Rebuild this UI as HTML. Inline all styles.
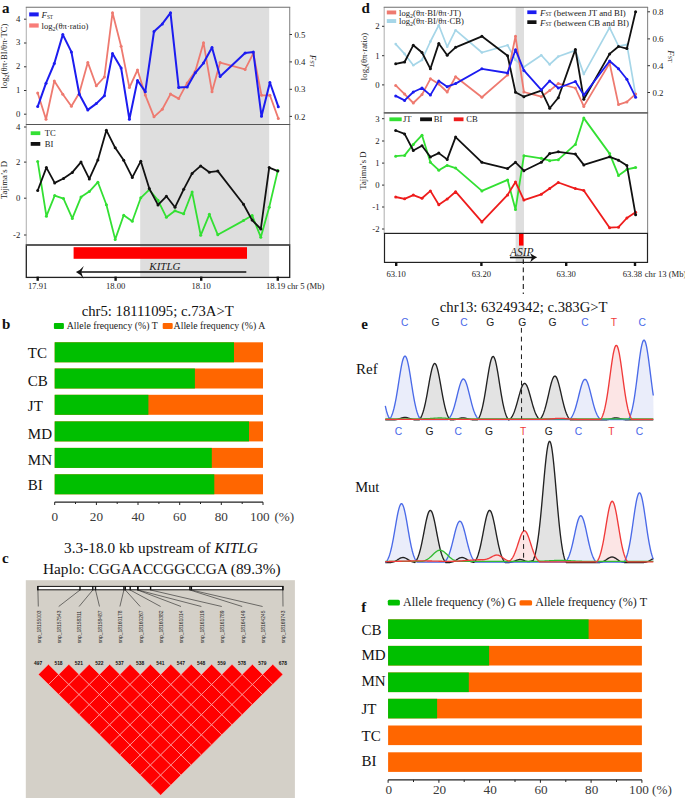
<!DOCTYPE html>
<html><head><meta charset="utf-8"><style>
html,body{margin:0;padding:0;background:#fff;}
body{width:685px;height:798px;overflow:hidden;font-family:"Liberation Serif",serif;}
svg{display:block;}
</style></head><body>
<svg width="685" height="798" viewBox="0 0 685 798">
<rect width="685" height="798" fill="#fff"/>
<rect x="140.2" y="7.3" width="129" height="269.5" fill="#dedede"/>
<line x1="26.3" y1="7.3" x2="26.3" y2="124.5" stroke="#b4b4b4" stroke-width="1.1"/>
<line x1="289.7" y1="7.3" x2="289.7" y2="124.5" stroke="#8a8a8a" stroke-width="1.1"/>
<line x1="25.8" y1="7.3" x2="290.2" y2="7.3" stroke="#6e6e6e" stroke-width="1.1"/>
<line x1="26.3" y1="124.5" x2="26.3" y2="245" stroke="#b4b4b4" stroke-width="1.1"/>
<line x1="289.7" y1="124.5" x2="289.7" y2="245" stroke="#8a8a8a" stroke-width="1.1"/>
<line x1="25.8" y1="124.5" x2="290.2" y2="124.5" stroke="#6e6e6e" stroke-width="1.1"/>
<line x1="26.3" y1="124.5" x2="289.7" y2="124.5" stroke="#555" stroke-width="1"/>
<rect x="26.3" y="245" width="263.4" height="32.4" fill="none" stroke="#222" stroke-width="1.3"/>
<line x1="26.3" y1="245" x2="289.7" y2="245" stroke="#555" stroke-width="1.3"/>
<polyline points="37.7,93.0 46.0,119.3 54.3,81.0 62.8,94.2 71.4,106.2 79.3,93.0 87.8,62.4 96.3,85.8 104.4,77.0 112.5,12.7 121.1,46.2 129.4,87.6 137.5,70.0 145.3,95.1 154.0,116.8 162.3,109.3 170.5,94.1 178.7,98.6 187.2,82.9 195.3,71.2 203.5,42.7 212.0,91.8 220.1,62.6 245.1,69.4 253.3,53.3 261.5,95.3 269.9,95.3 278.3,118.4" fill="none" stroke="#ee7a70" stroke-width="1.8" stroke-linejoin="round"/>
<circle cx="37.7" cy="93.0" r="1.5" fill="#ee7a70"/>
<circle cx="46.0" cy="119.3" r="1.5" fill="#ee7a70"/>
<circle cx="54.3" cy="81.0" r="1.5" fill="#ee7a70"/>
<circle cx="62.8" cy="94.2" r="1.5" fill="#ee7a70"/>
<circle cx="71.4" cy="106.2" r="1.5" fill="#ee7a70"/>
<circle cx="79.3" cy="93.0" r="1.5" fill="#ee7a70"/>
<circle cx="87.8" cy="62.4" r="1.5" fill="#ee7a70"/>
<circle cx="96.3" cy="85.8" r="1.5" fill="#ee7a70"/>
<circle cx="104.4" cy="77.0" r="1.5" fill="#ee7a70"/>
<circle cx="112.5" cy="12.7" r="1.5" fill="#ee7a70"/>
<circle cx="121.1" cy="46.2" r="1.5" fill="#ee7a70"/>
<circle cx="129.4" cy="87.6" r="1.5" fill="#ee7a70"/>
<circle cx="137.5" cy="70.0" r="1.5" fill="#ee7a70"/>
<circle cx="145.3" cy="95.1" r="1.5" fill="#ee7a70"/>
<circle cx="154.0" cy="116.8" r="1.5" fill="#ee7a70"/>
<circle cx="162.3" cy="109.3" r="1.5" fill="#ee7a70"/>
<circle cx="170.5" cy="94.1" r="1.5" fill="#ee7a70"/>
<circle cx="178.7" cy="98.6" r="1.5" fill="#ee7a70"/>
<circle cx="187.2" cy="82.9" r="1.5" fill="#ee7a70"/>
<circle cx="195.3" cy="71.2" r="1.5" fill="#ee7a70"/>
<circle cx="203.5" cy="42.7" r="1.5" fill="#ee7a70"/>
<circle cx="212.0" cy="91.8" r="1.5" fill="#ee7a70"/>
<circle cx="220.1" cy="62.6" r="1.5" fill="#ee7a70"/>
<circle cx="245.1" cy="69.4" r="1.5" fill="#ee7a70"/>
<circle cx="253.3" cy="53.3" r="1.5" fill="#ee7a70"/>
<circle cx="261.5" cy="95.3" r="1.5" fill="#ee7a70"/>
<circle cx="269.9" cy="95.3" r="1.5" fill="#ee7a70"/>
<circle cx="278.3" cy="118.4" r="1.5" fill="#ee7a70"/>
<polyline points="37.7,106.6 46.0,83.2 54.3,63.5 62.8,34.6 71.4,51.9 79.3,94.2 87.8,109.9 96.3,103.6 104.4,95.7 112.5,53.6 121.1,67.9 129.4,119.3 137.5,80.4 145.3,91.7 154.0,31.5 162.3,23.9 170.5,12.8 178.7,87.6 187.2,87.1 195.3,72.8 203.5,63.1 212.0,47.4 220.1,76.6 245.1,53.0 253.3,51.9 261.5,116.3 269.9,82.5 278.3,106.7" fill="none" stroke="#1c1cf0" stroke-width="2.0" stroke-linejoin="round"/>
<circle cx="37.7" cy="106.6" r="1.5" fill="#1c1cf0"/>
<circle cx="46.0" cy="83.2" r="1.5" fill="#1c1cf0"/>
<circle cx="54.3" cy="63.5" r="1.5" fill="#1c1cf0"/>
<circle cx="62.8" cy="34.6" r="1.5" fill="#1c1cf0"/>
<circle cx="71.4" cy="51.9" r="1.5" fill="#1c1cf0"/>
<circle cx="79.3" cy="94.2" r="1.5" fill="#1c1cf0"/>
<circle cx="87.8" cy="109.9" r="1.5" fill="#1c1cf0"/>
<circle cx="96.3" cy="103.6" r="1.5" fill="#1c1cf0"/>
<circle cx="104.4" cy="95.7" r="1.5" fill="#1c1cf0"/>
<circle cx="112.5" cy="53.6" r="1.5" fill="#1c1cf0"/>
<circle cx="121.1" cy="67.9" r="1.5" fill="#1c1cf0"/>
<circle cx="129.4" cy="119.3" r="1.5" fill="#1c1cf0"/>
<circle cx="137.5" cy="80.4" r="1.5" fill="#1c1cf0"/>
<circle cx="145.3" cy="91.7" r="1.5" fill="#1c1cf0"/>
<circle cx="154.0" cy="31.5" r="1.5" fill="#1c1cf0"/>
<circle cx="162.3" cy="23.9" r="1.5" fill="#1c1cf0"/>
<circle cx="170.5" cy="12.8" r="1.5" fill="#1c1cf0"/>
<circle cx="178.7" cy="87.6" r="1.5" fill="#1c1cf0"/>
<circle cx="187.2" cy="87.1" r="1.5" fill="#1c1cf0"/>
<circle cx="195.3" cy="72.8" r="1.5" fill="#1c1cf0"/>
<circle cx="203.5" cy="63.1" r="1.5" fill="#1c1cf0"/>
<circle cx="212.0" cy="47.4" r="1.5" fill="#1c1cf0"/>
<circle cx="220.1" cy="76.6" r="1.5" fill="#1c1cf0"/>
<circle cx="245.1" cy="53.0" r="1.5" fill="#1c1cf0"/>
<circle cx="253.3" cy="51.9" r="1.5" fill="#1c1cf0"/>
<circle cx="261.5" cy="116.3" r="1.5" fill="#1c1cf0"/>
<circle cx="269.9" cy="82.5" r="1.5" fill="#1c1cf0"/>
<circle cx="278.3" cy="106.7" r="1.5" fill="#1c1cf0"/>
<polyline points="37.7,161.4 46.4,216.2 54.7,195.6 63.5,198.6 72.3,218.4 81.0,197.1 89.3,191.6 97.9,182.2 106.4,204.8 115.2,239.4 123.7,215.3 132.3,221.2 140.8,197.8 149.3,189.7 158.0,200.3 166.4,217.3 175.0,210.8 183.7,213.8 192.1,192.1 200.7,235.3 209.4,214.3 217.8,234.8 243.5,220.6 252.1,215.4 260.8,237.2 269.2,207.3 277.8,170.6" fill="none" stroke="#33e033" stroke-width="1.8" stroke-linejoin="round"/>
<circle cx="37.7" cy="161.4" r="1.5" fill="#33e033"/>
<circle cx="46.4" cy="216.2" r="1.5" fill="#33e033"/>
<circle cx="54.7" cy="195.6" r="1.5" fill="#33e033"/>
<circle cx="63.5" cy="198.6" r="1.5" fill="#33e033"/>
<circle cx="72.3" cy="218.4" r="1.5" fill="#33e033"/>
<circle cx="81.0" cy="197.1" r="1.5" fill="#33e033"/>
<circle cx="89.3" cy="191.6" r="1.5" fill="#33e033"/>
<circle cx="97.9" cy="182.2" r="1.5" fill="#33e033"/>
<circle cx="106.4" cy="204.8" r="1.5" fill="#33e033"/>
<circle cx="115.2" cy="239.4" r="1.5" fill="#33e033"/>
<circle cx="123.7" cy="215.3" r="1.5" fill="#33e033"/>
<circle cx="132.3" cy="221.2" r="1.5" fill="#33e033"/>
<circle cx="140.8" cy="197.8" r="1.5" fill="#33e033"/>
<circle cx="149.3" cy="189.7" r="1.5" fill="#33e033"/>
<circle cx="158.0" cy="200.3" r="1.5" fill="#33e033"/>
<circle cx="166.4" cy="217.3" r="1.5" fill="#33e033"/>
<circle cx="175.0" cy="210.8" r="1.5" fill="#33e033"/>
<circle cx="183.7" cy="213.8" r="1.5" fill="#33e033"/>
<circle cx="192.1" cy="192.1" r="1.5" fill="#33e033"/>
<circle cx="200.7" cy="235.3" r="1.5" fill="#33e033"/>
<circle cx="209.4" cy="214.3" r="1.5" fill="#33e033"/>
<circle cx="217.8" cy="234.8" r="1.5" fill="#33e033"/>
<circle cx="243.5" cy="220.6" r="1.5" fill="#33e033"/>
<circle cx="252.1" cy="215.4" r="1.5" fill="#33e033"/>
<circle cx="260.8" cy="237.2" r="1.5" fill="#33e033"/>
<circle cx="269.2" cy="207.3" r="1.5" fill="#33e033"/>
<circle cx="277.8" cy="170.6" r="1.5" fill="#33e033"/>
<polyline points="37.7,190.5 46.4,167.6 54.7,182.9 63.5,178.5 72.3,172.4 81.0,162.1 89.3,178.9 97.9,159.9 106.4,130.3 115.2,147.8 123.7,160.3 132.3,177.4 140.8,161.2 149.3,188.6 158.0,204.9 166.4,196.3 175.0,207.3 183.7,189.3 192.1,173.4 200.7,165.9 209.4,172.2 217.8,171.1 243.5,204.2 252.1,220.1 260.8,229.0 269.2,167.6 277.8,171.1" fill="none" stroke="#111111" stroke-width="1.8" stroke-linejoin="round"/>
<circle cx="37.7" cy="190.5" r="1.5" fill="#111111"/>
<circle cx="46.4" cy="167.6" r="1.5" fill="#111111"/>
<circle cx="54.7" cy="182.9" r="1.5" fill="#111111"/>
<circle cx="63.5" cy="178.5" r="1.5" fill="#111111"/>
<circle cx="72.3" cy="172.4" r="1.5" fill="#111111"/>
<circle cx="81.0" cy="162.1" r="1.5" fill="#111111"/>
<circle cx="89.3" cy="178.9" r="1.5" fill="#111111"/>
<circle cx="97.9" cy="159.9" r="1.5" fill="#111111"/>
<circle cx="106.4" cy="130.3" r="1.5" fill="#111111"/>
<circle cx="115.2" cy="147.8" r="1.5" fill="#111111"/>
<circle cx="123.7" cy="160.3" r="1.5" fill="#111111"/>
<circle cx="132.3" cy="177.4" r="1.5" fill="#111111"/>
<circle cx="140.8" cy="161.2" r="1.5" fill="#111111"/>
<circle cx="149.3" cy="188.6" r="1.5" fill="#111111"/>
<circle cx="158.0" cy="204.9" r="1.5" fill="#111111"/>
<circle cx="166.4" cy="196.3" r="1.5" fill="#111111"/>
<circle cx="175.0" cy="207.3" r="1.5" fill="#111111"/>
<circle cx="183.7" cy="189.3" r="1.5" fill="#111111"/>
<circle cx="192.1" cy="173.4" r="1.5" fill="#111111"/>
<circle cx="200.7" cy="165.9" r="1.5" fill="#111111"/>
<circle cx="209.4" cy="172.2" r="1.5" fill="#111111"/>
<circle cx="217.8" cy="171.1" r="1.5" fill="#111111"/>
<circle cx="243.5" cy="204.2" r="1.5" fill="#111111"/>
<circle cx="252.1" cy="220.1" r="1.5" fill="#111111"/>
<circle cx="260.8" cy="229.0" r="1.5" fill="#111111"/>
<circle cx="269.2" cy="167.6" r="1.5" fill="#111111"/>
<circle cx="277.8" cy="171.1" r="1.5" fill="#111111"/>
<line x1="24" y1="19.2" x2="26.3" y2="19.2" stroke="#333" stroke-width="1"/>
<text x="20.3" y="21.5" font-family='"Liberation Serif", serif' font-size="8.7" text-anchor="end" fill="#222" font-weight="normal" font-style="normal" >4</text>
<line x1="24" y1="43" x2="26.3" y2="43" stroke="#333" stroke-width="1"/>
<text x="20.3" y="45.3" font-family='"Liberation Serif", serif' font-size="8.7" text-anchor="end" fill="#222" font-weight="normal" font-style="normal" >3</text>
<line x1="24" y1="66.8" x2="26.3" y2="66.8" stroke="#333" stroke-width="1"/>
<text x="20.3" y="69.1" font-family='"Liberation Serif", serif' font-size="8.7" text-anchor="end" fill="#222" font-weight="normal" font-style="normal" >2</text>
<line x1="24" y1="90.5" x2="26.3" y2="90.5" stroke="#333" stroke-width="1"/>
<text x="20.3" y="92.8" font-family='"Liberation Serif", serif' font-size="8.7" text-anchor="end" fill="#222" font-weight="normal" font-style="normal" >1</text>
<line x1="24" y1="114.2" x2="26.3" y2="114.2" stroke="#333" stroke-width="1"/>
<text x="20.3" y="116.5" font-family='"Liberation Serif", serif' font-size="8.7" text-anchor="end" fill="#222" font-weight="normal" font-style="normal" >0</text>
<line x1="289.7" y1="34.5" x2="292" y2="34.5" stroke="#333" stroke-width="1"/>
<text x="294.4" y="37.6" font-family='"Liberation Serif", serif' font-size="8.8" text-anchor="start" fill="#222" font-weight="normal" font-style="normal" >0.5</text>
<line x1="289.7" y1="61.9" x2="292" y2="61.9" stroke="#333" stroke-width="1"/>
<text x="294.4" y="65.0" font-family='"Liberation Serif", serif' font-size="8.8" text-anchor="start" fill="#222" font-weight="normal" font-style="normal" >0.4</text>
<line x1="289.7" y1="89.3" x2="292" y2="89.3" stroke="#333" stroke-width="1"/>
<text x="294.4" y="92.39999999999999" font-family='"Liberation Serif", serif' font-size="8.8" text-anchor="start" fill="#222" font-weight="normal" font-style="normal" >0.3</text>
<line x1="289.7" y1="116.4" x2="292" y2="116.4" stroke="#333" stroke-width="1"/>
<text x="294.4" y="119.5" font-family='"Liberation Serif", serif' font-size="8.8" text-anchor="start" fill="#222" font-weight="normal" font-style="normal" >0.2</text>
<text transform="translate(310,61) rotate(90)" font-family='"Liberation Serif", serif' font-size="8.7" text-anchor="middle" fill="#222" font-style="italic">F<tspan font-size="6" font-style="normal">ST</tspan></text>
<text transform="translate(7.4,56) rotate(-90)" font-family='"Liberation Serif", serif' font-size="8.7" text-anchor="middle" fill="#222">log<tspan font-size="6" dy="2">2</tspan><tspan dy="-2">(θπ·BI/θπ·TC)</tspan></text>
<rect x="29.2" y="12.4" width="9.5" height="4" fill="#1c1cf0"/>
<text x="41.6" y="18.2" font-family='"Liberation Serif", serif' font-size="8.8" text-anchor="start" fill="#222" font-weight="normal" font-style="italic" >F<tspan font-size="5.2" font-style="normal" dy="0.8">ST</tspan></text>
<rect x="29.2" y="23.4" width="9.5" height="4.2" fill="#f87c78"/>
<text x="41.6" y="29" font-family='"Liberation Serif", serif' font-size="8.6" text-anchor="start" fill="#222" font-weight="normal" font-style="normal" >log<tspan font-size="6" dy="2">2</tspan><tspan dy="-2">(θπ·ratio)</tspan></text>
<line x1="24" y1="127" x2="26.3" y2="127" stroke="#333" stroke-width="1"/>
<text x="20.3" y="129.6" font-family='"Liberation Serif", serif' font-size="8.7" text-anchor="end" fill="#222" font-weight="normal" font-style="normal" >4</text>
<line x1="24" y1="162.1" x2="26.3" y2="162.1" stroke="#333" stroke-width="1"/>
<text x="20.3" y="164.7" font-family='"Liberation Serif", serif' font-size="8.7" text-anchor="end" fill="#222" font-weight="normal" font-style="normal" >2</text>
<line x1="24" y1="198.2" x2="26.3" y2="198.2" stroke="#333" stroke-width="1"/>
<text x="20.3" y="200.79999999999998" font-family='"Liberation Serif", serif' font-size="8.7" text-anchor="end" fill="#222" font-weight="normal" font-style="normal" >0</text>
<line x1="24" y1="235" x2="26.3" y2="235" stroke="#333" stroke-width="1"/>
<text x="20.3" y="237.6" font-family='"Liberation Serif", serif' font-size="8.7" text-anchor="end" fill="#222" font-weight="normal" font-style="normal" >-2</text>
<text transform="translate(7.4,180) rotate(-90)" font-family='"Liberation Serif", serif' font-size="8.7" text-anchor="middle" fill="#222">Tajima’s D</text>
<rect x="30.7" y="131.3" width="9.6" height="3.8" fill="#33e033"/>
<text x="44.8" y="135.8" font-family='"Liberation Serif", serif' font-size="8.6" text-anchor="start" fill="#222" font-weight="normal" font-style="normal" >TC</text>
<rect x="30.7" y="142" width="9.6" height="3.8" fill="#111111"/>
<text x="44.8" y="146.5" font-family='"Liberation Serif", serif' font-size="8.6" text-anchor="start" fill="#222" font-weight="normal" font-style="normal" >BI</text>
<rect x="73.6" y="247.2" width="173.4" height="11.6" fill="#ff0000"/>
<line x1="79" y1="272.1" x2="246.3" y2="272.1" stroke="#111" stroke-width="1.5"/>
<path d="M75.9,272.1 Q80.5,270 83.8,265.9 L81.2,272.1 L83.5,278.7 Q80.5,274.3 75.9,272.1 Z" fill="#111"/>
<text x="149.3" y="269.8" font-family='"Liberation Serif", serif' font-size="11" text-anchor="start" fill="#222" font-weight="normal" font-style="italic" >KITLG</text>
<line x1="37.7" y1="276.6" x2="37.7" y2="280.8" stroke="#111" stroke-width="2.4"/>
<text x="37.7" y="289" font-family='"Liberation Serif", serif' font-size="8.6" text-anchor="middle" fill="#222" font-weight="normal" font-style="normal" >17.91</text>
<line x1="115.6" y1="276.6" x2="115.6" y2="280.8" stroke="#111" stroke-width="2.4"/>
<text x="115.6" y="289" font-family='"Liberation Serif", serif' font-size="8.6" text-anchor="middle" fill="#222" font-weight="normal" font-style="normal" >18.00</text>
<line x1="201.2" y1="276.6" x2="201.2" y2="280.8" stroke="#111" stroke-width="2.4"/>
<text x="201.2" y="289" font-family='"Liberation Serif", serif' font-size="8.6" text-anchor="middle" fill="#222" font-weight="normal" font-style="normal" >18.10</text>
<line x1="277.8" y1="276.6" x2="277.8" y2="280.8" stroke="#111" stroke-width="2.4"/>
<text x="275.7" y="289" font-family='"Liberation Serif", serif' font-size="8.6" text-anchor="middle" fill="#222" font-weight="normal" font-style="normal" >18.19</text>
<text x="287.2" y="289" font-family='"Liberation Serif", serif' font-size="8.6" text-anchor="start" fill="#222" font-weight="normal" font-style="normal" >chr 5 (Mb)</text>
<text x="2.0" y="13.0" font-family='"Liberation Serif", serif' font-size="15" text-anchor="start" fill="#111" font-weight="bold" font-style="normal" >a</text>
<text x="2.0" y="329" font-family='"Liberation Serif", serif' font-size="15" text-anchor="start" fill="#111" font-weight="bold" font-style="normal" >b</text>
<text x="2.0" y="562.6" font-family='"Liberation Serif", serif' font-size="15" text-anchor="start" fill="#111" font-weight="bold" font-style="normal" >c</text>
<text x="361.4" y="12.6" font-family='"Liberation Serif", serif' font-size="15" text-anchor="start" fill="#111" font-weight="bold" font-style="normal" >d</text>
<text x="361.3" y="328.6" font-family='"Liberation Serif", serif' font-size="15" text-anchor="start" fill="#111" font-weight="bold" font-style="normal" >e</text>
<text x="361.3" y="612" font-family='"Liberation Serif", serif' font-size="15" text-anchor="start" fill="#111" font-weight="bold" font-style="normal" >f</text>
<text x="157.7" y="316.4" font-family='"Liberation Serif", serif' font-size="14.7" text-anchor="middle" fill="#111" font-weight="normal" font-style="normal" >chr5: 18111095; c.73A&gt;T</text>
<rect x="53.9" y="323" width="10" height="5.9" fill="#00bf00" rx="1"/>
<text x="66.8" y="329.3" font-family='"Liberation Serif", serif' font-size="9.8" text-anchor="start" fill="#222" font-weight="normal" font-style="normal" >Allele frequency (%) T</text>
<rect x="162.7" y="323" width="10" height="5.9" fill="#ff6600" rx="1"/>
<text x="173.6" y="329.3" font-family='"Liberation Serif", serif' font-size="9.8" text-anchor="start" fill="#222" font-weight="normal" font-style="normal" >Allele frequency (%) A</text>
<rect x="54.7" y="342.3" width="208.3" height="20" fill="#ff6600"/>
<rect x="54.7" y="342.3" width="179.3" height="20" fill="#00bf00"/>
<text x="27.8" y="358" font-family='"Liberation Serif", serif' font-size="15" text-anchor="start" fill="#111" font-weight="normal" font-style="normal" >TC</text>
<rect x="54.7" y="368.5" width="208.3" height="20" fill="#ff6600"/>
<rect x="54.7" y="368.5" width="140.2" height="20" fill="#00bf00"/>
<text x="27.8" y="386.3" font-family='"Liberation Serif", serif' font-size="15" text-anchor="start" fill="#111" font-weight="normal" font-style="normal" >CB</text>
<rect x="54.7" y="394.8" width="208.3" height="20" fill="#ff6600"/>
<rect x="54.7" y="394.8" width="93.7" height="20" fill="#00bf00"/>
<text x="27.8" y="411.3" font-family='"Liberation Serif", serif' font-size="15" text-anchor="start" fill="#111" font-weight="normal" font-style="normal" >JT</text>
<rect x="54.7" y="421.4" width="208.3" height="20" fill="#ff6600"/>
<rect x="54.7" y="421.4" width="194.3" height="20" fill="#00bf00"/>
<text x="27.8" y="438.6" font-family='"Liberation Serif", serif' font-size="15" text-anchor="start" fill="#111" font-weight="normal" font-style="normal" >MD</text>
<rect x="54.7" y="447.9" width="208.3" height="20" fill="#ff6600"/>
<rect x="54.7" y="447.9" width="157.1" height="20" fill="#00bf00"/>
<text x="27.8" y="464.9" font-family='"Liberation Serif", serif' font-size="15" text-anchor="start" fill="#111" font-weight="normal" font-style="normal" >MN</text>
<rect x="54.7" y="474.3" width="208.3" height="20" fill="#ff6600"/>
<rect x="54.7" y="474.3" width="159.6" height="20" fill="#00bf00"/>
<text x="27.8" y="490.3" font-family='"Liberation Serif", serif' font-size="15" text-anchor="start" fill="#111" font-weight="normal" font-style="normal" >BI</text>
<line x1="54.7" y1="502.1" x2="263.0" y2="502.1" stroke="#222" stroke-width="1.2"/>
<line x1="54.7" y1="502.1" x2="54.7" y2="505" stroke="#222" stroke-width="1"/>
<line x1="75.5" y1="502.1" x2="75.5" y2="504" stroke="#222" stroke-width="1"/>
<line x1="96.4" y1="502.1" x2="96.4" y2="505" stroke="#222" stroke-width="1"/>
<line x1="117.2" y1="502.1" x2="117.2" y2="504" stroke="#222" stroke-width="1"/>
<line x1="138.0" y1="502.1" x2="138.0" y2="505" stroke="#222" stroke-width="1"/>
<line x1="158.9" y1="502.1" x2="158.9" y2="504" stroke="#222" stroke-width="1"/>
<line x1="179.7" y1="502.1" x2="179.7" y2="505" stroke="#222" stroke-width="1"/>
<line x1="200.5" y1="502.1" x2="200.5" y2="504" stroke="#222" stroke-width="1"/>
<line x1="221.3" y1="502.1" x2="221.3" y2="505" stroke="#222" stroke-width="1"/>
<line x1="242.2" y1="502.1" x2="242.2" y2="504" stroke="#222" stroke-width="1"/>
<line x1="263.0" y1="502.1" x2="263.0" y2="505" stroke="#222" stroke-width="1"/>
<text x="54.7" y="520.6" font-family='"Liberation Serif", serif' font-size="13.2" text-anchor="middle" fill="#3a3a3a" font-weight="normal" font-style="normal" >0</text>
<text x="96.4" y="520.6" font-family='"Liberation Serif", serif' font-size="13.2" text-anchor="middle" fill="#3a3a3a" font-weight="normal" font-style="normal" >20</text>
<text x="138.0" y="520.6" font-family='"Liberation Serif", serif' font-size="13.2" text-anchor="middle" fill="#3a3a3a" font-weight="normal" font-style="normal" >40</text>
<text x="179.7" y="520.6" font-family='"Liberation Serif", serif' font-size="13.2" text-anchor="middle" fill="#3a3a3a" font-weight="normal" font-style="normal" >60</text>
<text x="221.3" y="520.6" font-family='"Liberation Serif", serif' font-size="13.2" text-anchor="middle" fill="#3a3a3a" font-weight="normal" font-style="normal" >80</text>
<text x="259.8" y="520.6" font-family='"Liberation Serif", serif' font-size="13.2" text-anchor="middle" fill="#3a3a3a" font-weight="normal" font-style="normal" >100</text>
<text x="274.4" y="520.6" font-family='"Liberation Serif", serif' font-size="13.2" text-anchor="start" fill="#3a3a3a" font-weight="normal" font-style="normal" >(%)</text>
<text x="161" y="552.7" font-family='"Liberation Serif", serif' font-size="15.3" text-anchor="middle" fill="#111" font-weight="normal" font-style="normal" >3.3-18.0 kb upstream of <tspan font-style="italic">KITLG</tspan></text>
<text x="161.8" y="574" font-family='"Liberation Serif", serif' font-size="15.3" text-anchor="middle" fill="#111" font-weight="normal" font-style="normal" >Haplo: CGGAACCGGCCGA (89.3%)</text>
<rect x="25.8" y="580.2" width="269.1" height="217.8" fill="#d4d0c8"/>
<rect x="37.7" y="586.4" width="245.3" height="3.4" fill="#fff" stroke="#111" stroke-width="1"/>
<line x1="37.9" y1="586.1" x2="37.9" y2="590.2" stroke="#111" stroke-width="1.4"/>
<line x1="37.9" y1="590" x2="38.3" y2="606.5" stroke="#222" stroke-width="0.6"/>
<line x1="80.0" y1="586.1" x2="80.0" y2="590.2" stroke="#111" stroke-width="1.4"/>
<line x1="80.0" y1="590" x2="58.7" y2="606.5" stroke="#222" stroke-width="0.6"/>
<line x1="92.8" y1="586.1" x2="92.8" y2="590.2" stroke="#111" stroke-width="1.4"/>
<line x1="92.8" y1="590" x2="79.1" y2="606.5" stroke="#222" stroke-width="0.6"/>
<line x1="95.5" y1="586.1" x2="95.5" y2="590.2" stroke="#111" stroke-width="1.4"/>
<line x1="95.5" y1="590" x2="99.5" y2="606.5" stroke="#222" stroke-width="0.6"/>
<line x1="123.9" y1="586.1" x2="123.9" y2="590.2" stroke="#111" stroke-width="1.4"/>
<line x1="123.9" y1="590" x2="119.9" y2="606.5" stroke="#222" stroke-width="0.6"/>
<line x1="125.3" y1="586.1" x2="125.3" y2="590.2" stroke="#111" stroke-width="1.4"/>
<line x1="125.3" y1="590" x2="140.2" y2="606.5" stroke="#222" stroke-width="0.6"/>
<line x1="130.2" y1="586.1" x2="130.2" y2="590.2" stroke="#111" stroke-width="1.4"/>
<line x1="130.2" y1="590" x2="160.6" y2="606.5" stroke="#222" stroke-width="0.6"/>
<line x1="137.7" y1="586.1" x2="137.7" y2="590.2" stroke="#111" stroke-width="1.4"/>
<line x1="137.7" y1="590" x2="181.0" y2="606.5" stroke="#222" stroke-width="0.6"/>
<line x1="137.9" y1="586.1" x2="137.9" y2="590.2" stroke="#111" stroke-width="1.4"/>
<line x1="137.9" y1="590" x2="201.4" y2="606.5" stroke="#222" stroke-width="0.6"/>
<line x1="150.6" y1="586.1" x2="150.6" y2="590.2" stroke="#111" stroke-width="1.4"/>
<line x1="150.6" y1="590" x2="221.8" y2="606.5" stroke="#222" stroke-width="0.6"/>
<line x1="189.9" y1="586.1" x2="189.9" y2="590.2" stroke="#111" stroke-width="1.4"/>
<line x1="189.9" y1="590" x2="242.2" y2="606.5" stroke="#222" stroke-width="0.6"/>
<line x1="191.4" y1="586.1" x2="191.4" y2="590.2" stroke="#111" stroke-width="1.4"/>
<line x1="191.4" y1="590" x2="262.6" y2="606.5" stroke="#222" stroke-width="0.6"/>
<line x1="282.8" y1="586.1" x2="282.8" y2="590.2" stroke="#111" stroke-width="1.4"/>
<line x1="282.8" y1="590" x2="283.0" y2="606.5" stroke="#222" stroke-width="0.6"/>
<text transform="translate(40.6,643.2) rotate(-90)" font-family='"Liberation Sans", sans-serif' font-size="4.95" fill="#2a2a2a">snp_18155003</text>
<text transform="translate(61.0,643.2) rotate(-90)" font-family='"Liberation Sans", sans-serif' font-size="4.95" fill="#2a2a2a">snp_18157543</text>
<text transform="translate(81.4,643.2) rotate(-90)" font-family='"Liberation Sans", sans-serif' font-size="4.95" fill="#2a2a2a">snp_18158311</text>
<text transform="translate(101.8,643.2) rotate(-90)" font-family='"Liberation Sans", sans-serif' font-size="4.95" fill="#2a2a2a">snp_18158487</text>
<text transform="translate(122.2,643.2) rotate(-90)" font-family='"Liberation Sans", sans-serif' font-size="4.95" fill="#2a2a2a">snp_18160178</text>
<text transform="translate(142.6,643.2) rotate(-90)" font-family='"Liberation Sans", sans-serif' font-size="4.95" fill="#2a2a2a">snp_18160267</text>
<text transform="translate(162.9,643.2) rotate(-90)" font-family='"Liberation Sans", sans-serif' font-size="4.95" fill="#2a2a2a">snp_18160382</text>
<text transform="translate(183.3,643.2) rotate(-90)" font-family='"Liberation Sans", sans-serif' font-size="4.95" fill="#2a2a2a">snp_18161014</text>
<text transform="translate(203.7,643.2) rotate(-90)" font-family='"Liberation Sans", sans-serif' font-size="4.95" fill="#2a2a2a">snp_18161019</text>
<text transform="translate(224.1,643.2) rotate(-90)" font-family='"Liberation Sans", sans-serif' font-size="4.95" fill="#2a2a2a">snp_18161789</text>
<text transform="translate(244.5,643.2) rotate(-90)" font-family='"Liberation Sans", sans-serif' font-size="4.95" fill="#2a2a2a">snp_18164149</text>
<text transform="translate(264.9,643.2) rotate(-90)" font-family='"Liberation Sans", sans-serif' font-size="4.95" fill="#2a2a2a">snp_18164245</text>
<text transform="translate(285.3,643.2) rotate(-90)" font-family='"Liberation Sans", sans-serif' font-size="4.95" fill="#2a2a2a">snp_18169743</text>
<text x="38.1" y="664.8" font-family='"Liberation Sans", sans-serif' font-size="4.9" text-anchor="middle" fill="#111" font-weight="bold" font-style="normal" >497</text>
<text x="58.5" y="664.8" font-family='"Liberation Sans", sans-serif' font-size="4.9" text-anchor="middle" fill="#111" font-weight="bold" font-style="normal" >518</text>
<text x="78.9" y="664.8" font-family='"Liberation Sans", sans-serif' font-size="4.9" text-anchor="middle" fill="#111" font-weight="bold" font-style="normal" >521</text>
<text x="99.3" y="664.8" font-family='"Liberation Sans", sans-serif' font-size="4.9" text-anchor="middle" fill="#111" font-weight="bold" font-style="normal" >522</text>
<text x="119.7" y="664.8" font-family='"Liberation Sans", sans-serif' font-size="4.9" text-anchor="middle" fill="#111" font-weight="bold" font-style="normal" >537</text>
<text x="140.1" y="664.8" font-family='"Liberation Sans", sans-serif' font-size="4.9" text-anchor="middle" fill="#111" font-weight="bold" font-style="normal" >538</text>
<text x="160.4" y="664.8" font-family='"Liberation Sans", sans-serif' font-size="4.9" text-anchor="middle" fill="#111" font-weight="bold" font-style="normal" >541</text>
<text x="180.8" y="664.8" font-family='"Liberation Sans", sans-serif' font-size="4.9" text-anchor="middle" fill="#111" font-weight="bold" font-style="normal" >547</text>
<text x="201.2" y="664.8" font-family='"Liberation Sans", sans-serif' font-size="4.9" text-anchor="middle" fill="#111" font-weight="bold" font-style="normal" >548</text>
<text x="221.6" y="664.8" font-family='"Liberation Sans", sans-serif' font-size="4.9" text-anchor="middle" fill="#111" font-weight="bold" font-style="normal" >559</text>
<text x="242.0" y="664.8" font-family='"Liberation Sans", sans-serif' font-size="4.9" text-anchor="middle" fill="#111" font-weight="bold" font-style="normal" >578</text>
<text x="262.4" y="664.8" font-family='"Liberation Sans", sans-serif' font-size="4.9" text-anchor="middle" fill="#111" font-weight="bold" font-style="normal" >579</text>
<text x="282.8" y="664.8" font-family='"Liberation Sans", sans-serif' font-size="4.9" text-anchor="middle" fill="#111" font-weight="bold" font-style="normal" >678</text>
<path d="M38.30,674.40 L48.49,664.33 L58.69,674.40 L48.49,684.47 Z" fill="#ff0000" stroke="#ffd0d0" stroke-width="0.5"/>
<path d="M48.49,684.47 L58.69,674.40 L68.88,684.47 L58.69,694.54 Z" fill="#ff0000" stroke="#ffd0d0" stroke-width="0.5"/>
<path d="M58.69,694.54 L68.88,684.47 L79.08,694.54 L68.88,704.61 Z" fill="#ff0000" stroke="#ffd0d0" stroke-width="0.5"/>
<path d="M68.88,704.61 L79.08,694.54 L89.28,704.61 L79.08,714.68 Z" fill="#ff0000" stroke="#ffd0d0" stroke-width="0.5"/>
<path d="M79.08,714.68 L89.28,704.61 L99.47,714.68 L89.28,724.75 Z" fill="#ff0000" stroke="#ffd0d0" stroke-width="0.5"/>
<path d="M89.28,724.75 L99.47,714.68 L109.66,724.75 L99.47,734.82 Z" fill="#ff0000" stroke="#ffd0d0" stroke-width="0.5"/>
<path d="M99.47,734.82 L109.67,724.75 L119.86,734.82 L109.67,744.89 Z" fill="#ff0000" stroke="#ffd0d0" stroke-width="0.5"/>
<path d="M109.67,744.89 L119.86,734.82 L130.06,744.89 L119.86,754.96 Z" fill="#ff0000" stroke="#ffd0d0" stroke-width="0.5"/>
<path d="M119.86,754.96 L130.06,744.89 L140.25,754.96 L130.06,765.03 Z" fill="#ff0000" stroke="#ffd0d0" stroke-width="0.5"/>
<path d="M130.06,765.03 L140.25,754.96 L150.44,765.03 L140.25,775.10 Z" fill="#ff0000" stroke="#ffd0d0" stroke-width="0.5"/>
<path d="M140.25,775.10 L150.45,765.03 L160.64,775.10 L150.45,785.17 Z" fill="#ff0000" stroke="#ffd0d0" stroke-width="0.5"/>
<path d="M150.45,785.17 L160.64,775.10 L170.84,785.17 L160.64,795.24 Z" fill="#ff0000" stroke="#ffd0d0" stroke-width="0.5"/>
<path d="M58.69,674.40 L68.88,664.33 L79.08,674.40 L68.88,684.47 Z" fill="#ff0000" stroke="#ffd0d0" stroke-width="0.5"/>
<path d="M68.88,684.47 L79.08,674.40 L89.28,684.47 L79.08,694.54 Z" fill="#ff0000" stroke="#ffd0d0" stroke-width="0.5"/>
<path d="M79.08,694.54 L89.28,684.47 L99.47,694.54 L89.28,704.61 Z" fill="#ff0000" stroke="#ffd0d0" stroke-width="0.5"/>
<path d="M89.28,704.61 L99.47,694.54 L109.66,704.61 L99.47,714.68 Z" fill="#ff0000" stroke="#ffd0d0" stroke-width="0.5"/>
<path d="M99.47,714.68 L109.66,704.61 L119.86,714.68 L109.66,724.75 Z" fill="#ff0000" stroke="#ffd0d0" stroke-width="0.5"/>
<path d="M109.67,724.75 L119.86,714.68 L130.06,724.75 L119.86,734.82 Z" fill="#ff0000" stroke="#ffd0d0" stroke-width="0.5"/>
<path d="M119.86,734.82 L130.06,724.75 L140.25,734.82 L130.06,744.89 Z" fill="#ff0000" stroke="#ffd0d0" stroke-width="0.5"/>
<path d="M130.06,744.89 L140.25,734.82 L150.44,744.89 L140.25,754.96 Z" fill="#ff0000" stroke="#ffd0d0" stroke-width="0.5"/>
<path d="M140.25,754.96 L150.44,744.89 L160.64,754.96 L150.44,765.03 Z" fill="#ff0000" stroke="#ffd0d0" stroke-width="0.5"/>
<path d="M150.45,765.03 L160.64,754.96 L170.84,765.03 L160.64,775.10 Z" fill="#ff0000" stroke="#ffd0d0" stroke-width="0.5"/>
<path d="M160.64,775.10 L170.84,765.03 L181.03,775.10 L170.84,785.17 Z" fill="#ff0000" stroke="#ffd0d0" stroke-width="0.5"/>
<path d="M79.08,674.40 L89.28,664.33 L99.47,674.40 L89.28,684.47 Z" fill="#ff0000" stroke="#ffd0d0" stroke-width="0.5"/>
<path d="M89.28,684.47 L99.47,674.40 L109.66,684.47 L99.47,694.54 Z" fill="#ff0000" stroke="#ffd0d0" stroke-width="0.5"/>
<path d="M99.47,694.54 L109.66,684.47 L119.86,694.54 L109.66,704.61 Z" fill="#ff0000" stroke="#ffd0d0" stroke-width="0.5"/>
<path d="M109.66,704.61 L119.86,694.54 L130.05,704.61 L119.86,714.68 Z" fill="#ff0000" stroke="#ffd0d0" stroke-width="0.5"/>
<path d="M119.86,714.68 L130.06,704.61 L140.25,714.68 L130.06,724.75 Z" fill="#ff0000" stroke="#ffd0d0" stroke-width="0.5"/>
<path d="M130.06,724.75 L140.25,714.68 L150.44,724.75 L140.25,734.82 Z" fill="#ff0000" stroke="#ffd0d0" stroke-width="0.5"/>
<path d="M140.25,734.82 L150.44,724.75 L160.64,734.82 L150.44,744.89 Z" fill="#ff0000" stroke="#ffd0d0" stroke-width="0.5"/>
<path d="M150.44,744.89 L160.64,734.82 L170.83,744.89 L160.64,754.96 Z" fill="#ff0000" stroke="#ffd0d0" stroke-width="0.5"/>
<path d="M160.64,754.96 L170.84,744.89 L181.03,754.96 L170.84,765.03 Z" fill="#ff0000" stroke="#ffd0d0" stroke-width="0.5"/>
<path d="M170.84,765.03 L181.03,754.96 L191.22,765.03 L181.03,775.10 Z" fill="#ff0000" stroke="#ffd0d0" stroke-width="0.5"/>
<path d="M99.47,674.40 L109.66,664.33 L119.86,674.40 L109.66,684.47 Z" fill="#ff0000" stroke="#ffd0d0" stroke-width="0.5"/>
<path d="M109.66,684.47 L119.86,674.40 L130.06,684.47 L119.86,694.54 Z" fill="#ff0000" stroke="#ffd0d0" stroke-width="0.5"/>
<path d="M119.86,694.54 L130.06,684.47 L140.25,694.54 L130.06,704.61 Z" fill="#ff0000" stroke="#ffd0d0" stroke-width="0.5"/>
<path d="M130.06,704.61 L140.25,694.54 L150.44,704.61 L140.25,714.68 Z" fill="#ff0000" stroke="#ffd0d0" stroke-width="0.5"/>
<path d="M140.25,714.68 L150.44,704.61 L160.64,714.68 L150.44,724.75 Z" fill="#ff0000" stroke="#ffd0d0" stroke-width="0.5"/>
<path d="M150.44,724.75 L160.64,714.68 L170.83,724.75 L160.64,734.82 Z" fill="#ff0000" stroke="#ffd0d0" stroke-width="0.5"/>
<path d="M160.64,734.82 L170.83,724.75 L181.03,734.82 L170.83,744.89 Z" fill="#ff0000" stroke="#ffd0d0" stroke-width="0.5"/>
<path d="M170.84,744.89 L181.03,734.82 L191.23,744.89 L181.03,754.96 Z" fill="#ff0000" stroke="#ffd0d0" stroke-width="0.5"/>
<path d="M181.03,754.96 L191.23,744.89 L201.42,754.96 L191.23,765.03 Z" fill="#ff0000" stroke="#ffd0d0" stroke-width="0.5"/>
<path d="M119.86,674.40 L130.06,664.33 L140.25,674.40 L130.06,684.47 Z" fill="#ff0000" stroke="#ffd0d0" stroke-width="0.5"/>
<path d="M130.06,684.47 L140.25,674.40 L150.44,684.47 L140.25,694.54 Z" fill="#ff0000" stroke="#ffd0d0" stroke-width="0.5"/>
<path d="M140.25,694.54 L150.45,684.47 L160.64,694.54 L150.45,704.61 Z" fill="#ff0000" stroke="#ffd0d0" stroke-width="0.5"/>
<path d="M150.45,704.61 L160.64,694.54 L170.84,704.61 L160.64,714.68 Z" fill="#ff0000" stroke="#ffd0d0" stroke-width="0.5"/>
<path d="M160.64,714.68 L170.84,704.61 L181.03,714.68 L170.84,724.75 Z" fill="#ff0000" stroke="#ffd0d0" stroke-width="0.5"/>
<path d="M170.84,724.75 L181.03,714.68 L191.22,724.75 L181.03,734.82 Z" fill="#ff0000" stroke="#ffd0d0" stroke-width="0.5"/>
<path d="M181.03,734.82 L191.23,724.75 L201.42,734.82 L191.23,744.89 Z" fill="#ff0000" stroke="#ffd0d0" stroke-width="0.5"/>
<path d="M191.23,744.89 L201.42,734.82 L211.62,744.89 L201.42,754.96 Z" fill="#ff0000" stroke="#ffd0d0" stroke-width="0.5"/>
<path d="M140.25,674.40 L150.44,664.33 L160.64,674.40 L150.44,684.47 Z" fill="#ff0000" stroke="#ffd0d0" stroke-width="0.5"/>
<path d="M150.45,684.47 L160.64,674.40 L170.84,684.47 L160.64,694.54 Z" fill="#ff0000" stroke="#ffd0d0" stroke-width="0.5"/>
<path d="M160.64,694.54 L170.84,684.47 L181.03,694.54 L170.84,704.61 Z" fill="#ff0000" stroke="#ffd0d0" stroke-width="0.5"/>
<path d="M170.84,704.61 L181.03,694.54 L191.22,704.61 L181.03,714.68 Z" fill="#ff0000" stroke="#ffd0d0" stroke-width="0.5"/>
<path d="M181.03,714.68 L191.22,704.61 L201.42,714.68 L191.22,724.75 Z" fill="#ff0000" stroke="#ffd0d0" stroke-width="0.5"/>
<path d="M191.23,724.75 L201.42,714.68 L211.62,724.75 L201.42,734.82 Z" fill="#ff0000" stroke="#ffd0d0" stroke-width="0.5"/>
<path d="M201.42,734.82 L211.62,724.75 L221.81,734.82 L211.62,744.89 Z" fill="#ff0000" stroke="#ffd0d0" stroke-width="0.5"/>
<path d="M160.64,674.40 L170.84,664.33 L181.03,674.40 L170.84,684.47 Z" fill="#ff0000" stroke="#ffd0d0" stroke-width="0.5"/>
<path d="M170.84,684.47 L181.03,674.40 L191.22,684.47 L181.03,694.54 Z" fill="#ff0000" stroke="#ffd0d0" stroke-width="0.5"/>
<path d="M181.03,694.54 L191.22,684.47 L201.42,694.54 L191.22,704.61 Z" fill="#ff0000" stroke="#ffd0d0" stroke-width="0.5"/>
<path d="M191.22,704.61 L201.42,694.54 L211.61,704.61 L201.42,714.68 Z" fill="#ff0000" stroke="#ffd0d0" stroke-width="0.5"/>
<path d="M201.42,714.68 L211.62,704.61 L221.81,714.68 L211.62,724.75 Z" fill="#ff0000" stroke="#ffd0d0" stroke-width="0.5"/>
<path d="M211.62,724.75 L221.81,714.68 L232.00,724.75 L221.81,734.82 Z" fill="#ff0000" stroke="#ffd0d0" stroke-width="0.5"/>
<path d="M181.03,674.40 L191.23,664.33 L201.42,674.40 L191.23,684.47 Z" fill="#ff0000" stroke="#ffd0d0" stroke-width="0.5"/>
<path d="M191.23,684.47 L201.42,674.40 L211.62,684.47 L201.42,694.54 Z" fill="#ff0000" stroke="#ffd0d0" stroke-width="0.5"/>
<path d="M201.42,694.54 L211.62,684.47 L221.81,694.54 L211.62,704.61 Z" fill="#ff0000" stroke="#ffd0d0" stroke-width="0.5"/>
<path d="M211.62,704.61 L221.81,694.54 L232.01,704.61 L221.81,714.68 Z" fill="#ff0000" stroke="#ffd0d0" stroke-width="0.5"/>
<path d="M221.81,714.68 L232.01,704.61 L242.20,714.68 L232.01,724.75 Z" fill="#ff0000" stroke="#ffd0d0" stroke-width="0.5"/>
<path d="M201.42,674.40 L211.62,664.33 L221.81,674.40 L211.62,684.47 Z" fill="#ff0000" stroke="#ffd0d0" stroke-width="0.5"/>
<path d="M211.62,684.47 L221.81,674.40 L232.00,684.47 L221.81,694.54 Z" fill="#ff0000" stroke="#ffd0d0" stroke-width="0.5"/>
<path d="M221.81,694.54 L232.01,684.47 L242.20,694.54 L232.01,704.61 Z" fill="#ff0000" stroke="#ffd0d0" stroke-width="0.5"/>
<path d="M232.01,704.61 L242.20,694.54 L252.40,704.61 L242.20,714.68 Z" fill="#ff0000" stroke="#ffd0d0" stroke-width="0.5"/>
<path d="M221.81,674.40 L232.00,664.33 L242.20,674.40 L232.00,684.47 Z" fill="#ff0000" stroke="#ffd0d0" stroke-width="0.5"/>
<path d="M232.01,684.47 L242.20,674.40 L252.40,684.47 L242.20,694.54 Z" fill="#ff0000" stroke="#ffd0d0" stroke-width="0.5"/>
<path d="M242.20,694.54 L252.40,684.47 L262.59,694.54 L252.40,704.61 Z" fill="#ff0000" stroke="#ffd0d0" stroke-width="0.5"/>
<path d="M242.20,674.40 L252.40,664.33 L262.59,674.40 L252.40,684.47 Z" fill="#ff0000" stroke="#ffd0d0" stroke-width="0.5"/>
<path d="M252.40,684.47 L262.59,674.40 L272.79,684.47 L262.59,694.54 Z" fill="#ff0000" stroke="#ffd0d0" stroke-width="0.5"/>
<path d="M262.59,674.40 L272.79,664.33 L282.98,674.40 L272.79,684.47 Z" fill="#ff0000" stroke="#ffd0d0" stroke-width="0.5"/>
<rect x="515.6" y="7.2" width="8.4" height="255" fill="#dedede"/>
<line x1="384.2" y1="7.2" x2="384.2" y2="112.9" stroke="#b4b4b4" stroke-width="1.1"/>
<line x1="647.6" y1="7.2" x2="647.6" y2="112.9" stroke="#8a8a8a" stroke-width="1.1"/>
<line x1="383.7" y1="7.2" x2="648.1" y2="7.2" stroke="#6e6e6e" stroke-width="1.1"/>
<line x1="384.2" y1="112.9" x2="384.2" y2="233.4" stroke="#b4b4b4" stroke-width="1.1"/>
<line x1="647.6" y1="112.9" x2="647.6" y2="233.4" stroke="#8a8a8a" stroke-width="1.1"/>
<line x1="383.7" y1="112.9" x2="648.1" y2="112.9" stroke="#6e6e6e" stroke-width="1.1"/>
<line x1="384.2" y1="112.9" x2="647.6" y2="112.9" stroke="#555" stroke-width="1"/>
<rect x="384.5" y="233.4" width="263" height="29" fill="none" stroke="#222" stroke-width="1.2"/>
<polyline points="395.7,44.1 404.6,53.9 413.3,65.2 422.0,59.9 430.4,41.5 438.8,25.2 447.2,46.8 455.6,30.2 481.9,52.5 507.6,45.2 515.5,59.9 523.9,67.0 541.3,55.2 549.7,64.4 558.3,56.5 575.4,50.4 583.8,74.1 609.6,27.6 618.5,46.0 626.9,44.7 635.6,95.1" fill="none" stroke="#a6d6e8" stroke-width="1.7" stroke-linejoin="round"/>
<circle cx="395.7" cy="44.1" r="1.3" fill="#a6d6e8"/>
<circle cx="404.6" cy="53.9" r="1.3" fill="#a6d6e8"/>
<circle cx="413.3" cy="65.2" r="1.3" fill="#a6d6e8"/>
<circle cx="422.0" cy="59.9" r="1.3" fill="#a6d6e8"/>
<circle cx="430.4" cy="41.5" r="1.3" fill="#a6d6e8"/>
<circle cx="438.8" cy="25.2" r="1.3" fill="#a6d6e8"/>
<circle cx="447.2" cy="46.8" r="1.3" fill="#a6d6e8"/>
<circle cx="455.6" cy="30.2" r="1.3" fill="#a6d6e8"/>
<circle cx="481.9" cy="52.5" r="1.3" fill="#a6d6e8"/>
<circle cx="507.6" cy="45.2" r="1.3" fill="#a6d6e8"/>
<circle cx="515.5" cy="59.9" r="1.3" fill="#a6d6e8"/>
<circle cx="523.9" cy="67.0" r="1.3" fill="#a6d6e8"/>
<circle cx="541.3" cy="55.2" r="1.3" fill="#a6d6e8"/>
<circle cx="549.7" cy="64.4" r="1.3" fill="#a6d6e8"/>
<circle cx="558.3" cy="56.5" r="1.3" fill="#a6d6e8"/>
<circle cx="575.4" cy="50.4" r="1.3" fill="#a6d6e8"/>
<circle cx="583.8" cy="74.1" r="1.3" fill="#a6d6e8"/>
<circle cx="609.6" cy="27.6" r="1.3" fill="#a6d6e8"/>
<circle cx="618.5" cy="46.0" r="1.3" fill="#a6d6e8"/>
<circle cx="626.9" cy="44.7" r="1.3" fill="#a6d6e8"/>
<circle cx="635.6" cy="95.1" r="1.3" fill="#a6d6e8"/>
<polyline points="395.7,85.4 404.6,94.1 413.3,103.0 422.0,94.6 430.4,78.8 438.8,84.1 447.2,92.0 455.6,76.7 481.9,97.2 507.6,74.9 515.5,36.3 523.9,92.0 541.3,96.7 549.7,90.6 558.3,83.6 575.4,88.0 583.8,106.4 609.6,63.1 618.5,104.6 626.9,101.9 635.6,94.1" fill="none" stroke="#ee7a70" stroke-width="1.8" stroke-linejoin="round"/>
<circle cx="395.7" cy="85.4" r="1.5" fill="#ee7a70"/>
<circle cx="404.6" cy="94.1" r="1.5" fill="#ee7a70"/>
<circle cx="413.3" cy="103.0" r="1.5" fill="#ee7a70"/>
<circle cx="422.0" cy="94.6" r="1.5" fill="#ee7a70"/>
<circle cx="430.4" cy="78.8" r="1.5" fill="#ee7a70"/>
<circle cx="438.8" cy="84.1" r="1.5" fill="#ee7a70"/>
<circle cx="447.2" cy="92.0" r="1.5" fill="#ee7a70"/>
<circle cx="455.6" cy="76.7" r="1.5" fill="#ee7a70"/>
<circle cx="481.9" cy="97.2" r="1.5" fill="#ee7a70"/>
<circle cx="507.6" cy="74.9" r="1.5" fill="#ee7a70"/>
<circle cx="515.5" cy="36.3" r="1.5" fill="#ee7a70"/>
<circle cx="523.9" cy="92.0" r="1.5" fill="#ee7a70"/>
<circle cx="541.3" cy="96.7" r="1.5" fill="#ee7a70"/>
<circle cx="549.7" cy="90.6" r="1.5" fill="#ee7a70"/>
<circle cx="558.3" cy="83.6" r="1.5" fill="#ee7a70"/>
<circle cx="575.4" cy="88.0" r="1.5" fill="#ee7a70"/>
<circle cx="583.8" cy="106.4" r="1.5" fill="#ee7a70"/>
<circle cx="609.6" cy="63.1" r="1.5" fill="#ee7a70"/>
<circle cx="618.5" cy="104.6" r="1.5" fill="#ee7a70"/>
<circle cx="626.9" cy="101.9" r="1.5" fill="#ee7a70"/>
<circle cx="635.6" cy="94.1" r="1.5" fill="#ee7a70"/>
<polyline points="395.7,63.8 404.6,62.0 413.3,45.2 422.0,52.5 430.4,68.8 438.8,43.4 447.2,55.2 455.6,47.3 481.9,36.3 507.6,55.7 515.5,92.3 523.9,96.7 541.3,90.6 549.7,108.2 558.3,97.7 575.4,49.4 583.8,99.3 609.6,53.9 618.5,46.5 626.9,48.6 635.6,11.8" fill="none" stroke="#111111" stroke-width="1.8" stroke-linejoin="round"/>
<circle cx="395.7" cy="63.8" r="1.5" fill="#111111"/>
<circle cx="404.6" cy="62.0" r="1.5" fill="#111111"/>
<circle cx="413.3" cy="45.2" r="1.5" fill="#111111"/>
<circle cx="422.0" cy="52.5" r="1.5" fill="#111111"/>
<circle cx="430.4" cy="68.8" r="1.5" fill="#111111"/>
<circle cx="438.8" cy="43.4" r="1.5" fill="#111111"/>
<circle cx="447.2" cy="55.2" r="1.5" fill="#111111"/>
<circle cx="455.6" cy="47.3" r="1.5" fill="#111111"/>
<circle cx="481.9" cy="36.3" r="1.5" fill="#111111"/>
<circle cx="507.6" cy="55.7" r="1.5" fill="#111111"/>
<circle cx="515.5" cy="92.3" r="1.5" fill="#111111"/>
<circle cx="523.9" cy="96.7" r="1.5" fill="#111111"/>
<circle cx="541.3" cy="90.6" r="1.5" fill="#111111"/>
<circle cx="549.7" cy="108.2" r="1.5" fill="#111111"/>
<circle cx="558.3" cy="97.7" r="1.5" fill="#111111"/>
<circle cx="575.4" cy="49.4" r="1.5" fill="#111111"/>
<circle cx="583.8" cy="99.3" r="1.5" fill="#111111"/>
<circle cx="609.6" cy="53.9" r="1.5" fill="#111111"/>
<circle cx="618.5" cy="46.5" r="1.5" fill="#111111"/>
<circle cx="626.9" cy="48.6" r="1.5" fill="#111111"/>
<circle cx="635.6" cy="11.8" r="1.5" fill="#111111"/>
<polyline points="395.7,95.9 404.6,100.4 413.3,92.0 422.0,88.0 430.4,95.1 438.8,80.9 447.2,86.7 455.6,83.6 481.9,68.8 507.6,73.0 515.5,49.7 523.9,70.4 541.3,89.9 549.7,80.9 558.3,88.0 575.4,81.5 583.8,95.1 609.6,61.0 618.5,68.8 626.9,79.3 635.6,97.2" fill="none" stroke="#1c1cf0" stroke-width="1.8" stroke-linejoin="round"/>
<circle cx="395.7" cy="95.9" r="1.5" fill="#1c1cf0"/>
<circle cx="404.6" cy="100.4" r="1.5" fill="#1c1cf0"/>
<circle cx="413.3" cy="92.0" r="1.5" fill="#1c1cf0"/>
<circle cx="422.0" cy="88.0" r="1.5" fill="#1c1cf0"/>
<circle cx="430.4" cy="95.1" r="1.5" fill="#1c1cf0"/>
<circle cx="438.8" cy="80.9" r="1.5" fill="#1c1cf0"/>
<circle cx="447.2" cy="86.7" r="1.5" fill="#1c1cf0"/>
<circle cx="455.6" cy="83.6" r="1.5" fill="#1c1cf0"/>
<circle cx="481.9" cy="68.8" r="1.5" fill="#1c1cf0"/>
<circle cx="507.6" cy="73.0" r="1.5" fill="#1c1cf0"/>
<circle cx="515.5" cy="49.7" r="1.5" fill="#1c1cf0"/>
<circle cx="523.9" cy="70.4" r="1.5" fill="#1c1cf0"/>
<circle cx="541.3" cy="89.9" r="1.5" fill="#1c1cf0"/>
<circle cx="549.7" cy="80.9" r="1.5" fill="#1c1cf0"/>
<circle cx="558.3" cy="88.0" r="1.5" fill="#1c1cf0"/>
<circle cx="575.4" cy="81.5" r="1.5" fill="#1c1cf0"/>
<circle cx="583.8" cy="95.1" r="1.5" fill="#1c1cf0"/>
<circle cx="609.6" cy="61.0" r="1.5" fill="#1c1cf0"/>
<circle cx="618.5" cy="68.8" r="1.5" fill="#1c1cf0"/>
<circle cx="626.9" cy="79.3" r="1.5" fill="#1c1cf0"/>
<circle cx="635.6" cy="97.2" r="1.5" fill="#1c1cf0"/>
<polyline points="395.7,156.2 404.6,155.4 413.3,144.4 422.0,135.2 430.4,162.3 438.8,170.2 447.2,165.4 455.6,168.1 481.9,190.9 507.6,179.9 515.5,209.6 523.9,155.7 541.3,158.3 549.7,160.7 558.3,159.7 575.4,144.4 583.8,118.1 609.6,153.6 618.5,175.4 626.9,169.4 635.6,167.5" fill="none" stroke="#33e033" stroke-width="1.8" stroke-linejoin="round"/>
<circle cx="395.7" cy="156.2" r="1.5" fill="#33e033"/>
<circle cx="404.6" cy="155.4" r="1.5" fill="#33e033"/>
<circle cx="413.3" cy="144.4" r="1.5" fill="#33e033"/>
<circle cx="422.0" cy="135.2" r="1.5" fill="#33e033"/>
<circle cx="430.4" cy="162.3" r="1.5" fill="#33e033"/>
<circle cx="438.8" cy="170.2" r="1.5" fill="#33e033"/>
<circle cx="447.2" cy="165.4" r="1.5" fill="#33e033"/>
<circle cx="455.6" cy="168.1" r="1.5" fill="#33e033"/>
<circle cx="481.9" cy="190.9" r="1.5" fill="#33e033"/>
<circle cx="507.6" cy="179.9" r="1.5" fill="#33e033"/>
<circle cx="515.5" cy="209.6" r="1.5" fill="#33e033"/>
<circle cx="523.9" cy="155.7" r="1.5" fill="#33e033"/>
<circle cx="541.3" cy="158.3" r="1.5" fill="#33e033"/>
<circle cx="549.7" cy="160.7" r="1.5" fill="#33e033"/>
<circle cx="558.3" cy="159.7" r="1.5" fill="#33e033"/>
<circle cx="575.4" cy="144.4" r="1.5" fill="#33e033"/>
<circle cx="583.8" cy="118.1" r="1.5" fill="#33e033"/>
<circle cx="609.6" cy="153.6" r="1.5" fill="#33e033"/>
<circle cx="618.5" cy="175.4" r="1.5" fill="#33e033"/>
<circle cx="626.9" cy="169.4" r="1.5" fill="#33e033"/>
<circle cx="635.6" cy="167.5" r="1.5" fill="#33e033"/>
<polyline points="395.7,197.0 404.6,198.8 413.3,195.1 422.0,198.3 430.4,190.9 438.8,204.8 447.2,199.1 455.6,191.7 481.9,221.9 507.6,194.9 515.5,182.0 523.9,200.1 541.3,194.3 549.7,188.6 558.3,182.5 575.4,188.6 583.8,190.4 609.6,227.7 618.5,227.2 626.9,218.0 635.6,212.2" fill="none" stroke="#ee1c1c" stroke-width="1.8" stroke-linejoin="round"/>
<circle cx="395.7" cy="197.0" r="1.5" fill="#ee1c1c"/>
<circle cx="404.6" cy="198.8" r="1.5" fill="#ee1c1c"/>
<circle cx="413.3" cy="195.1" r="1.5" fill="#ee1c1c"/>
<circle cx="422.0" cy="198.3" r="1.5" fill="#ee1c1c"/>
<circle cx="430.4" cy="190.9" r="1.5" fill="#ee1c1c"/>
<circle cx="438.8" cy="204.8" r="1.5" fill="#ee1c1c"/>
<circle cx="447.2" cy="199.1" r="1.5" fill="#ee1c1c"/>
<circle cx="455.6" cy="191.7" r="1.5" fill="#ee1c1c"/>
<circle cx="481.9" cy="221.9" r="1.5" fill="#ee1c1c"/>
<circle cx="507.6" cy="194.9" r="1.5" fill="#ee1c1c"/>
<circle cx="515.5" cy="182.0" r="1.5" fill="#ee1c1c"/>
<circle cx="523.9" cy="200.1" r="1.5" fill="#ee1c1c"/>
<circle cx="541.3" cy="194.3" r="1.5" fill="#ee1c1c"/>
<circle cx="549.7" cy="188.6" r="1.5" fill="#ee1c1c"/>
<circle cx="558.3" cy="182.5" r="1.5" fill="#ee1c1c"/>
<circle cx="575.4" cy="188.6" r="1.5" fill="#ee1c1c"/>
<circle cx="583.8" cy="190.4" r="1.5" fill="#ee1c1c"/>
<circle cx="609.6" cy="227.7" r="1.5" fill="#ee1c1c"/>
<circle cx="618.5" cy="227.2" r="1.5" fill="#ee1c1c"/>
<circle cx="626.9" cy="218.0" r="1.5" fill="#ee1c1c"/>
<circle cx="635.6" cy="212.2" r="1.5" fill="#ee1c1c"/>
<polyline points="395.7,130.5 404.6,133.9 413.3,150.5 422.0,145.7 430.4,157.0 438.8,153.1 447.2,159.4 455.6,137.1 481.9,162.3 507.6,168.6 515.5,162.3 523.9,170.7 541.3,162.3 549.7,153.6 558.3,151.8 575.4,154.1 583.8,164.9 609.6,156.8 618.5,160.2 626.9,165.4 635.6,214.8" fill="none" stroke="#111111" stroke-width="1.8" stroke-linejoin="round"/>
<circle cx="395.7" cy="130.5" r="1.5" fill="#111111"/>
<circle cx="404.6" cy="133.9" r="1.5" fill="#111111"/>
<circle cx="413.3" cy="150.5" r="1.5" fill="#111111"/>
<circle cx="422.0" cy="145.7" r="1.5" fill="#111111"/>
<circle cx="430.4" cy="157.0" r="1.5" fill="#111111"/>
<circle cx="438.8" cy="153.1" r="1.5" fill="#111111"/>
<circle cx="447.2" cy="159.4" r="1.5" fill="#111111"/>
<circle cx="455.6" cy="137.1" r="1.5" fill="#111111"/>
<circle cx="481.9" cy="162.3" r="1.5" fill="#111111"/>
<circle cx="507.6" cy="168.6" r="1.5" fill="#111111"/>
<circle cx="515.5" cy="162.3" r="1.5" fill="#111111"/>
<circle cx="523.9" cy="170.7" r="1.5" fill="#111111"/>
<circle cx="541.3" cy="162.3" r="1.5" fill="#111111"/>
<circle cx="549.7" cy="153.6" r="1.5" fill="#111111"/>
<circle cx="558.3" cy="151.8" r="1.5" fill="#111111"/>
<circle cx="575.4" cy="154.1" r="1.5" fill="#111111"/>
<circle cx="583.8" cy="164.9" r="1.5" fill="#111111"/>
<circle cx="609.6" cy="156.8" r="1.5" fill="#111111"/>
<circle cx="618.5" cy="160.2" r="1.5" fill="#111111"/>
<circle cx="626.9" cy="165.4" r="1.5" fill="#111111"/>
<circle cx="635.6" cy="214.8" r="1.5" fill="#111111"/>
<line x1="382" y1="26.3" x2="384.2" y2="26.3" stroke="#333" stroke-width="1"/>
<text x="379.5" y="29.400000000000002" font-family='"Liberation Serif", serif' font-size="8.7" text-anchor="end" fill="#222" font-weight="normal" font-style="normal" >2</text>
<line x1="382" y1="55.7" x2="384.2" y2="55.7" stroke="#333" stroke-width="1"/>
<text x="379.5" y="58.800000000000004" font-family='"Liberation Serif", serif' font-size="8.7" text-anchor="end" fill="#222" font-weight="normal" font-style="normal" >1</text>
<line x1="382" y1="84.9" x2="384.2" y2="84.9" stroke="#333" stroke-width="1"/>
<text x="379.5" y="88.0" font-family='"Liberation Serif", serif' font-size="8.7" text-anchor="end" fill="#222" font-weight="normal" font-style="normal" >0</text>
<line x1="647.6" y1="11.8" x2="650" y2="11.8" stroke="#333" stroke-width="1"/>
<text x="652.5" y="14.9" font-family='"Liberation Serif", serif' font-size="8.8" text-anchor="start" fill="#222" font-weight="normal" font-style="normal" >0.8</text>
<line x1="647.6" y1="38.9" x2="650" y2="38.9" stroke="#333" stroke-width="1"/>
<text x="652.5" y="42.0" font-family='"Liberation Serif", serif' font-size="8.8" text-anchor="start" fill="#222" font-weight="normal" font-style="normal" >0.6</text>
<line x1="647.6" y1="65.7" x2="650" y2="65.7" stroke="#333" stroke-width="1"/>
<text x="652.5" y="68.8" font-family='"Liberation Serif", serif' font-size="8.8" text-anchor="start" fill="#222" font-weight="normal" font-style="normal" >0.4</text>
<line x1="647.6" y1="92.5" x2="650" y2="92.5" stroke="#333" stroke-width="1"/>
<text x="652.5" y="95.6" font-family='"Liberation Serif", serif' font-size="8.8" text-anchor="start" fill="#222" font-weight="normal" font-style="normal" >0.2</text>
<text transform="translate(667.5,56.5) rotate(90)" font-family='"Liberation Serif", serif' font-size="8.7" text-anchor="middle" fill="#222" font-style="italic">F<tspan font-size="6" font-style="normal">ST</tspan></text>
<text transform="translate(366.5,56.5) rotate(-90)" font-family='"Liberation Serif", serif' font-size="8.7" text-anchor="middle" fill="#222">log<tspan font-size="6" dy="2">2</tspan><tspan dy="-2">(θπ·ratio)</tspan></text>
<line x1="382" y1="118.7" x2="384.2" y2="118.7" stroke="#333" stroke-width="1"/>
<text x="379.5" y="121.8" font-family='"Liberation Serif", serif' font-size="8.7" text-anchor="end" fill="#222" font-weight="normal" font-style="normal" >3</text>
<line x1="382" y1="141" x2="384.2" y2="141" stroke="#333" stroke-width="1"/>
<text x="379.5" y="144.1" font-family='"Liberation Serif", serif' font-size="8.7" text-anchor="end" fill="#222" font-weight="normal" font-style="normal" >2</text>
<line x1="382" y1="163.1" x2="384.2" y2="163.1" stroke="#333" stroke-width="1"/>
<text x="379.5" y="166.2" font-family='"Liberation Serif", serif' font-size="8.7" text-anchor="end" fill="#222" font-weight="normal" font-style="normal" >1</text>
<line x1="382" y1="185.1" x2="384.2" y2="185.1" stroke="#333" stroke-width="1"/>
<text x="379.5" y="188.2" font-family='"Liberation Serif", serif' font-size="8.7" text-anchor="end" fill="#222" font-weight="normal" font-style="normal" >0</text>
<line x1="382" y1="207" x2="384.2" y2="207" stroke="#333" stroke-width="1"/>
<text x="379.5" y="210.1" font-family='"Liberation Serif", serif' font-size="8.7" text-anchor="end" fill="#222" font-weight="normal" font-style="normal" >-1</text>
<line x1="382" y1="229" x2="384.2" y2="229" stroke="#333" stroke-width="1"/>
<text x="379.5" y="232.1" font-family='"Liberation Serif", serif' font-size="8.7" text-anchor="end" fill="#222" font-weight="normal" font-style="normal" >-2</text>
<text transform="translate(366,170.6) rotate(-90)" font-family='"Liberation Serif", serif' font-size="8.7" text-anchor="middle" fill="#222">Tajima’s D</text>
<rect x="386.8" y="10.5" width="9.4" height="3.9" fill="#ee7a70"/>
<text x="399.1" y="15.6" font-family='"Liberation Serif", serif' font-size="8.6" text-anchor="start" fill="#222" font-weight="normal" font-style="normal" >log<tspan font-size="6" dy="2">2</tspan><tspan dy="-2">(θπ·BI/θπ·JT)</tspan></text>
<rect x="386.8" y="19.1" width="9.4" height="3.9" fill="#a6d6e8"/>
<text x="399.1" y="24" font-family='"Liberation Serif", serif' font-size="8.6" text-anchor="start" fill="#222" font-weight="normal" font-style="normal" >log<tspan font-size="6" dy="2">2</tspan><tspan dy="-2">(θπ·BI/θπ·CB)</tspan></text>
<rect x="527.3" y="10.4" width="9.2" height="3.7" fill="#1c1cf0"/>
<text x="540" y="15.6" font-family='"Liberation Serif", serif' font-size="8.8" text-anchor="start" fill="#222" font-weight="normal" font-style="normal" ><tspan font-style="italic">F</tspan><tspan font-size="5.4" dy="0.8">ST</tspan><tspan dy="-0.8"> (between JT and BI)</tspan></text>
<rect x="527.3" y="20.3" width="9.2" height="3.7" fill="#111111"/>
<text x="540" y="25.5" font-family='"Liberation Serif", serif' font-size="8.8" text-anchor="start" fill="#222" font-weight="normal" font-style="normal" ><tspan font-style="italic">F</tspan><tspan font-size="5.4" dy="0.8">ST</tspan><tspan dy="-0.8"> (between CB and BI)</tspan></text>
<rect x="389.4" y="117.4" width="12.3" height="3.8" fill="#33e033"/>
<text x="403" y="121.8" font-family='"Liberation Serif", serif' font-size="8.6" text-anchor="start" fill="#222" font-weight="normal" font-style="normal" >JT</text>
<rect x="420.1" y="117.4" width="11.9" height="3.8" fill="#111111"/>
<text x="433.8" y="121.8" font-family='"Liberation Serif", serif' font-size="8.6" text-anchor="start" fill="#222" font-weight="normal" font-style="normal" >BI</text>
<rect x="453.8" y="117.4" width="9.7" height="3.8" fill="#ee1c1c"/>
<text x="466.2" y="121.8" font-family='"Liberation Serif", serif' font-size="8.6" text-anchor="start" fill="#222" font-weight="normal" font-style="normal" >CB</text>
<rect x="519" y="233.9" width="4.5" height="11.7" fill="#ff0000"/>
<text x="510.0" y="256.0" font-family='"Liberation Serif", serif' font-size="11.5" text-anchor="start" fill="#222" font-weight="normal" font-style="italic" >ASIP</text>
<line x1="509.9" y1="257.5" x2="533" y2="257.5" stroke="#111" stroke-width="1.6"/>
<path d="M537.2,257.3 Q533,255.5 530,253 L532,257.3 L530.2,262.2 Q533.5,259 537.2,257.3 Z" fill="#111"/>
<line x1="396.2" y1="262.4" x2="396.2" y2="266" stroke="#111" stroke-width="2.4"/>
<text x="396.2" y="277" font-family='"Liberation Serif", serif' font-size="8.6" text-anchor="middle" fill="#222" font-weight="normal" font-style="normal" >63.10</text>
<line x1="481.4" y1="262.4" x2="481.4" y2="266" stroke="#111" stroke-width="2.4"/>
<text x="481.4" y="277" font-family='"Liberation Serif", serif' font-size="8.6" text-anchor="middle" fill="#222" font-weight="normal" font-style="normal" >63.20</text>
<line x1="566.2" y1="262.4" x2="566.2" y2="266" stroke="#111" stroke-width="2.4"/>
<text x="566.2" y="277" font-family='"Liberation Serif", serif' font-size="8.6" text-anchor="middle" fill="#222" font-weight="normal" font-style="normal" >63.30</text>
<line x1="635" y1="262.4" x2="635" y2="266" stroke="#111" stroke-width="2.4"/>
<text x="632.4" y="277" font-family='"Liberation Serif", serif' font-size="8.6" text-anchor="middle" fill="#222" font-weight="normal" font-style="normal" >63.38</text>
<text x="644.8" y="277" font-family='"Liberation Serif", serif' font-size="8.6" text-anchor="start" fill="#222" font-weight="normal" font-style="normal" >chr 13 (Mb)</text>
<text x="523.7" y="311.7" font-family='"Liberation Serif", serif' font-size="14.7" text-anchor="middle" fill="#111" font-weight="normal" font-style="normal" >chr13: 63249342; c.383G&gt;T</text>
<text x="356.1" y="374" font-family='"Liberation Serif", serif' font-size="15" text-anchor="start" fill="#111" font-weight="normal" font-style="normal" >Ref</text>
<text x="355.2" y="492" font-family='"Liberation Serif", serif' font-size="14.5" text-anchor="start" fill="#111" font-weight="normal" font-style="normal" >Mut</text>
<text x="404.6" y="326.0" font-family='"Liberation Sans", sans-serif' font-size="10.3" text-anchor="middle" fill="#4a6ae8" font-weight="normal" font-style="normal" >C</text>
<text x="435.4" y="326.0" font-family='"Liberation Sans", sans-serif' font-size="10.3" text-anchor="middle" fill="#222222" font-weight="normal" font-style="normal" >G</text>
<text x="463.9" y="326.0" font-family='"Liberation Sans", sans-serif' font-size="10.3" text-anchor="middle" fill="#4a6ae8" font-weight="normal" font-style="normal" >C</text>
<text x="490.3" y="326.0" font-family='"Liberation Sans", sans-serif' font-size="10.3" text-anchor="middle" fill="#222222" font-weight="normal" font-style="normal" >G</text>
<text x="522.3" y="326.0" font-family='"Liberation Sans", sans-serif' font-size="10.3" text-anchor="middle" fill="#222222" font-weight="normal" font-style="normal" >G</text>
<text x="552.5" y="326.0" font-family='"Liberation Sans", sans-serif' font-size="10.3" text-anchor="middle" fill="#222222" font-weight="normal" font-style="normal" >G</text>
<text x="585" y="326.0" font-family='"Liberation Sans", sans-serif' font-size="10.3" text-anchor="middle" fill="#4a6ae8" font-weight="normal" font-style="normal" >C</text>
<text x="613.9" y="326.0" font-family='"Liberation Sans", sans-serif' font-size="10.3" text-anchor="middle" fill="#f03a3a" font-weight="normal" font-style="normal" >T</text>
<text x="642.1" y="326.0" font-family='"Liberation Sans", sans-serif' font-size="10.3" text-anchor="middle" fill="#4a6ae8" font-weight="normal" font-style="normal" >C</text>
<text x="398.5" y="434.8" font-family='"Liberation Sans", sans-serif' font-size="10.3" text-anchor="middle" fill="#4a6ae8" font-weight="normal" font-style="normal" >C</text>
<text x="429.6" y="434.8" font-family='"Liberation Sans", sans-serif' font-size="10.3" text-anchor="middle" fill="#222222" font-weight="normal" font-style="normal" >G</text>
<text x="458.3" y="434.8" font-family='"Liberation Sans", sans-serif' font-size="10.3" text-anchor="middle" fill="#4a6ae8" font-weight="normal" font-style="normal" >C</text>
<text x="489.1" y="434.8" font-family='"Liberation Sans", sans-serif' font-size="10.3" text-anchor="middle" fill="#222222" font-weight="normal" font-style="normal" >G</text>
<text x="523.2" y="434.8" font-family='"Liberation Sans", sans-serif' font-size="10.3" text-anchor="middle" fill="#f03a3a" font-weight="normal" font-style="normal" >T</text>
<text x="548.8" y="434.8" font-family='"Liberation Sans", sans-serif' font-size="10.3" text-anchor="middle" fill="#222222" font-weight="normal" font-style="normal" >G</text>
<text x="578.5" y="434.8" font-family='"Liberation Sans", sans-serif' font-size="10.3" text-anchor="middle" fill="#4a6ae8" font-weight="normal" font-style="normal" >C</text>
<text x="611.4" y="434.8" font-family='"Liberation Sans", sans-serif' font-size="10.3" text-anchor="middle" fill="#f03a3a" font-weight="normal" font-style="normal" >T</text>
<text x="639.5" y="434.8" font-family='"Liberation Sans", sans-serif' font-size="10.3" text-anchor="middle" fill="#4a6ae8" font-weight="normal" font-style="normal" >C</text>
<path d="M385.3,419.20 L385.8,419.20 L386.3,419.20 L386.8,419.20 L387.3,419.20 L387.8,419.20 L388.3,419.20 L388.8,419.20 L389.3,419.20 L389.8,419.20 L390.3,419.20 L390.8,419.20 L391.3,419.20 L391.8,419.20 L392.3,419.20 L392.8,419.20 L393.3,419.20 L393.8,419.20 L394.3,419.17 L394.8,419.13 L395.3,419.07 L395.8,419.00 L396.3,418.92 L396.8,418.83 L397.3,418.72 L397.8,418.60 L398.3,418.46 L398.8,418.31 L399.3,418.15 L399.8,417.98 L400.3,417.80 L400.8,417.63 L401.3,417.45 L401.8,417.29 L402.3,417.13 L402.8,417.00 L403.3,416.88 L403.8,416.79 L404.3,416.73 L404.8,416.70 L405.3,416.71 L405.8,416.74 L406.3,416.81 L406.8,416.90 L407.3,417.02 L407.8,417.16 L408.3,417.32 L408.8,417.49 L409.3,417.66 L409.8,417.84 L410.3,418.01 L410.8,418.18 L411.3,418.34 L411.8,418.49 L412.3,418.62 L412.8,418.74 L413.3,418.85 L413.8,418.94 L414.3,419.02 L414.8,419.08 L415.3,419.14 L415.8,419.18 L416.3,419.20 L416.8,419.20 L417.3,419.20 L417.8,419.20 L418.3,419.20 L418.8,419.20 L419.3,419.09 L419.8,418.46 L420.3,417.72 L420.8,416.88 L421.3,415.90 L421.8,414.79 L422.3,413.53 L422.8,412.12 L423.3,410.54 L423.8,408.80 L424.3,406.90 L424.8,404.83 L425.3,402.60 L425.8,400.22 L426.3,397.71 L426.8,395.07 L427.3,392.34 L427.8,389.54 L428.3,386.69 L428.8,383.84 L429.3,381.02 L429.8,378.27 L430.3,375.63 L430.8,373.14 L431.3,370.83 L431.8,368.76 L432.3,366.95 L432.8,365.44 L433.3,364.25 L433.8,363.40 L434.3,362.92 L434.8,362.81 L435.3,363.07 L435.8,363.70 L436.3,364.68 L436.8,366.00 L437.3,367.64 L437.8,369.56 L438.3,371.73 L438.8,374.11 L439.3,376.67 L439.8,379.36 L440.3,382.14 L440.8,384.98 L441.3,387.83 L441.8,390.66 L442.3,393.44 L442.8,396.14 L443.3,398.73 L443.8,401.19 L444.3,403.51 L444.8,405.68 L445.3,407.68 L445.8,409.52 L446.3,411.19 L446.8,412.70 L447.3,414.05 L447.8,415.25 L448.3,416.31 L448.8,417.23 L449.3,418.03 L449.8,418.72 L450.3,419.20 L450.8,419.20 L451.3,419.20 L451.8,419.20 L452.3,419.18 L452.8,419.14 L453.3,419.10 L453.8,419.04 L454.3,418.98 L454.8,418.90 L455.3,418.82 L455.8,418.72 L456.3,418.61 L456.8,418.49 L457.3,418.36 L457.8,418.22 L458.3,418.08 L458.8,417.94 L459.3,417.80 L459.8,417.67 L460.3,417.55 L460.8,417.44 L461.3,417.34 L461.8,417.27 L462.3,417.23 L462.8,417.20 L463.3,417.20 L463.8,417.23 L464.3,417.29 L464.8,417.36 L465.3,417.46 L465.8,417.57 L466.3,417.70 L466.8,417.83 L467.3,417.97 L467.8,418.11 L468.3,418.25 L468.8,418.39 L469.3,418.51 L469.8,418.63 L470.3,418.74 L470.8,418.83 L471.3,418.92 L471.8,418.99 L472.3,419.05 L472.8,419.11 L473.3,419.15 L473.8,419.18 L474.3,419.20 L474.8,419.20 L475.3,419.20 L475.8,419.20 L476.3,419.20 L476.8,419.20 L477.3,419.20 L477.8,418.94 L478.3,418.21 L478.8,417.36 L479.3,416.38 L479.8,415.25 L480.3,413.97 L480.8,412.52 L481.3,410.90 L481.8,409.09 L482.3,407.10 L482.8,404.92 L483.3,402.56 L483.8,400.02 L484.3,397.31 L484.8,394.46 L485.3,391.47 L485.8,388.38 L486.3,385.22 L486.8,382.02 L487.3,378.82 L487.8,375.66 L488.3,372.59 L488.8,369.65 L489.3,366.88 L489.8,364.34 L490.3,362.07 L490.8,360.10 L491.3,358.46 L491.8,357.20 L492.3,356.34 L492.8,355.88 L493.3,355.83 L493.8,356.21 L494.3,357.00 L494.8,358.18 L495.3,359.74 L495.8,361.65 L496.3,363.86 L496.8,366.35 L497.3,369.08 L497.8,371.99 L498.3,375.04 L498.8,378.18 L499.3,381.38 L499.8,384.58 L500.3,387.75 L500.8,390.86 L501.3,393.87 L501.8,396.75 L502.3,399.49 L502.8,402.06 L503.3,404.46 L503.8,406.68 L504.3,408.71 L504.8,410.55 L505.3,412.21 L505.8,413.70 L506.3,415.01 L506.8,416.17 L507.3,417.18 L507.8,418.05 L508.3,418.80 L508.8,419.20 L509.3,419.05 L509.8,418.63 L510.3,418.14 L510.8,417.58 L511.3,416.93 L511.8,416.19 L512.3,415.36 L512.8,414.42 L513.3,413.38 L513.8,412.23 L514.3,410.98 L514.8,409.62 L515.3,408.16 L515.8,406.60 L516.3,404.95 L516.8,403.24 L517.3,401.46 L517.8,399.64 L518.3,397.79 L518.8,395.95 L519.3,394.13 L519.8,392.36 L520.3,390.67 L520.8,389.08 L521.3,387.62 L521.8,386.31 L522.3,385.17 L522.8,384.23 L523.3,383.51 L523.8,383.01 L524.3,382.74 L524.8,382.72 L525.3,382.94 L525.8,383.39 L526.3,384.07 L526.8,384.97 L527.3,386.07 L527.8,387.34 L528.3,388.78 L528.8,390.34 L529.3,392.02 L529.8,393.77 L530.3,395.58 L530.8,397.42 L531.3,399.27 L531.8,401.10 L532.3,402.88 L532.8,404.62 L533.3,406.28 L533.8,407.85 L534.3,409.34 L534.8,410.72 L535.3,411.99 L535.8,413.16 L536.3,414.22 L536.8,415.18 L537.3,416.03 L537.8,416.79 L538.3,417.45 L538.8,418.03 L539.3,418.54 L539.8,418.60 L540.3,418.29 L540.8,417.67 L541.3,416.95 L541.8,416.13 L542.3,415.20 L542.8,414.15 L543.3,412.98 L543.8,411.68 L544.3,410.25 L544.8,408.70 L545.3,407.02 L545.8,405.21 L546.3,403.30 L546.8,401.29 L547.3,399.20 L547.8,397.04 L548.3,394.84 L548.8,392.63 L549.3,390.42 L549.8,388.26 L550.3,386.17 L550.8,384.18 L551.3,382.33 L551.8,380.65 L552.3,379.16 L552.8,377.89 L553.3,376.86 L553.8,376.10 L554.3,375.61 L554.8,375.41 L555.3,375.49 L555.8,375.87 L556.3,376.52 L556.8,377.45 L557.3,378.62 L557.8,380.03 L558.3,381.64 L558.8,383.43 L559.3,385.36 L559.8,387.41 L560.3,389.55 L560.8,391.74 L561.3,393.96 L561.8,396.16 L562.3,398.34 L562.8,400.46 L563.3,402.51 L563.8,404.46 L564.3,406.31 L564.8,408.04 L565.3,409.65 L565.8,411.13 L566.3,412.48 L566.8,413.70 L567.3,414.80 L567.8,415.77 L568.3,416.64 L568.8,417.40 L569.3,418.05 L569.8,418.62 L570.3,419.11 L570.8,419.20 L571.3,419.20 L571.8,419.20 L572.3,419.20 L572.8,419.20 L573.3,419.20 L573.8,419.20 L574.3,419.20 L574.8,419.20 L575.3,419.20 L575.8,419.20 L576.3,419.20 L576.8,419.20 L577.3,419.20 L577.8,419.20 L578.3,419.20 L578.8,419.20 L579.3,419.20 L579.8,419.20 L580.3,419.20 L580.8,419.20 L581.3,419.20 L581.8,419.20 L582.3,419.20 L582.8,419.20 L583.3,419.20 L583.8,419.20 L584.3,419.20 L584.8,419.20 L585.3,419.20 L585.8,419.20 L586.3,419.20 L586.8,419.20 L587.3,419.20 L587.8,419.20 L588.3,419.20 L588.8,419.20 L589.3,419.20 L589.8,419.20 L590.3,419.20 L590.8,419.20 L591.3,419.20 L591.8,419.20 L592.3,419.20 L592.8,419.20 L593.3,419.20 L593.8,419.20 L594.3,419.20 L594.8,419.20 L595.3,419.20 L595.8,419.20 L596.3,419.20 L596.8,419.20 L597.3,419.20 L597.8,419.20 L598.3,419.20 L598.8,419.20 L599.3,419.20 L599.8,419.20 L600.3,419.20 L600.8,419.20 L601.3,419.20 L601.8,419.20 L602.3,419.20 L602.8,419.20 L603.3,419.20 L603.8,419.20 L604.3,419.20 L604.8,419.20 L605.3,419.18 L605.8,419.14 L606.3,419.10 L606.8,419.04 L607.3,418.98 L607.8,418.90 L608.3,418.82 L608.8,418.72 L609.3,418.61 L609.8,418.49 L610.3,418.36 L610.8,418.22 L611.3,418.08 L611.8,417.94 L612.3,417.80 L612.8,417.67 L613.3,417.55 L613.8,417.44 L614.3,417.34 L614.8,417.27 L615.3,417.23 L615.8,417.20 L616.3,417.20 L616.8,417.23 L617.3,417.29 L617.8,417.36 L618.3,417.46 L618.8,417.57 L619.3,417.70 L619.8,417.83 L620.3,417.97 L620.8,418.11 L621.3,418.25 L621.8,418.39 L622.3,418.51 L622.8,418.63 L623.3,418.74 L623.8,418.83 L624.3,418.92 L624.8,418.99 L625.3,419.05 L625.8,419.11 L626.3,419.15 L626.8,419.18 L627.3,419.20 L627.8,419.20 L628.3,419.20 L628.8,419.20 L629.3,419.20 L629.8,419.20 L630.3,419.20 L630.8,419.20 L631.3,419.20 L631.8,419.20 L632.3,419.20 L632.8,419.20 L633.3,419.20 L633.8,419.20 L634.3,419.20 L634.8,419.20 L635.3,419.20 L635.8,419.20 L636.3,419.20 L636.8,419.20 L637.3,419.20 L637.8,419.20 L638.3,419.20 L638.8,419.20 L639.3,419.20 L639.8,419.20 L640.3,419.20 L640.8,419.20 L641.3,419.20 L641.8,419.20 L642.3,419.20 L642.8,419.20 L643.3,419.20 L643.8,419.20 L644.3,419.20 L644.8,419.20 L645.3,419.20 L645.8,419.20 L646.3,419.20 L646.8,419.20 L647.3,419.20 L647.8,419.20 L648.3,419.20 L648.8,419.20 L649.3,419.20 L649.8,419.20 L650.3,419.20 L650.8,419.20 L651.3,419.20 L651.8,419.20 L652.3,419.20 L652.8,419.20 L653.3,419.20 L653.6,419.2 L385.3,419.2 Z" fill="#dedede" fill-opacity="0.85" stroke="none"/>
<path d="M385.3,405.56 L385.8,407.80 L386.3,409.84 L386.8,411.67 L387.3,413.30 L387.8,414.75 L388.3,416.02 L388.8,417.13 L389.3,418.08 L389.8,418.51 L390.3,418.05 L390.8,417.18 L391.3,416.17 L391.8,415.01 L392.3,413.70 L392.8,412.21 L393.3,410.55 L393.8,408.71 L394.3,406.68 L394.8,404.46 L395.3,402.06 L395.8,399.49 L396.3,396.75 L396.8,393.87 L397.3,390.86 L397.8,387.75 L398.3,384.58 L398.8,381.38 L399.3,378.18 L399.8,375.04 L400.3,371.99 L400.8,369.08 L401.3,366.35 L401.8,363.86 L402.3,361.65 L402.8,359.74 L403.3,358.18 L403.8,357.00 L404.3,356.21 L404.8,355.83 L405.3,355.88 L405.8,356.34 L406.3,357.20 L406.8,358.46 L407.3,360.10 L407.8,362.07 L408.3,364.34 L408.8,366.88 L409.3,369.65 L409.8,372.59 L410.3,375.66 L410.8,378.82 L411.3,382.02 L411.8,385.22 L412.3,388.38 L412.8,391.47 L413.3,394.46 L413.8,397.31 L414.3,400.02 L414.8,402.56 L415.3,404.92 L415.8,407.10 L416.3,409.09 L416.8,410.90 L417.3,412.52 L417.8,413.97 L418.3,415.25 L418.8,416.38 L419.3,417.36 L419.8,418.21 L420.3,418.94 L420.8,419.20 L421.3,419.20 L421.8,419.20 L422.3,419.20 L422.8,419.20 L423.3,419.20 L423.8,419.20 L424.3,419.20 L424.8,419.20 L425.3,419.20 L425.8,419.20 L426.3,419.20 L426.8,419.20 L427.3,419.20 L427.8,419.20 L428.3,419.20 L428.8,419.20 L429.3,419.20 L429.8,419.20 L430.3,419.20 L430.8,419.20 L431.3,419.20 L431.8,419.20 L432.3,419.20 L432.8,419.20 L433.3,419.20 L433.8,419.20 L434.3,419.20 L434.8,419.20 L435.3,419.20 L435.8,419.20 L436.3,419.20 L436.8,419.20 L437.3,419.20 L437.8,419.20 L438.3,419.20 L438.8,419.20 L439.3,419.20 L439.8,419.20 L440.3,419.20 L440.8,419.20 L441.3,419.20 L441.8,419.20 L442.3,419.20 L442.8,419.20 L443.3,419.20 L443.8,419.20 L444.3,419.20 L444.8,419.20 L445.3,419.20 L445.8,419.20 L446.3,419.20 L446.8,419.20 L447.3,419.20 L447.8,419.20 L448.3,418.86 L448.8,418.36 L449.3,417.79 L449.8,417.12 L450.3,416.36 L450.8,415.50 L451.3,414.53 L451.8,413.45 L452.3,412.25 L452.8,410.93 L453.3,409.49 L453.8,407.93 L454.3,406.27 L454.8,404.50 L455.3,402.64 L455.8,400.70 L456.3,398.71 L456.8,396.68 L457.3,394.63 L457.8,392.59 L458.3,390.59 L458.8,388.66 L459.3,386.82 L459.8,385.11 L460.3,383.55 L460.8,382.17 L461.3,381.00 L461.8,380.05 L462.3,379.34 L462.8,378.89 L463.3,378.71 L463.8,378.79 L464.3,379.13 L464.8,379.74 L465.3,380.59 L465.8,381.68 L466.3,382.98 L466.8,384.47 L467.3,386.12 L467.8,387.91 L468.3,389.81 L468.8,391.79 L469.3,393.81 L469.8,395.86 L470.3,397.90 L470.8,399.91 L471.3,401.87 L471.8,403.77 L472.3,405.57 L472.8,407.28 L473.3,408.88 L473.8,410.37 L474.3,411.74 L474.8,412.98 L475.3,414.11 L475.8,415.13 L476.3,416.03 L476.8,416.83 L477.3,417.53 L477.8,418.14 L478.3,418.67 L478.8,419.12 L479.3,419.20 L479.8,419.20 L480.3,419.20 L480.8,419.20 L481.3,419.20 L481.8,419.20 L482.3,419.20 L482.8,419.20 L483.3,419.20 L483.8,419.20 L484.3,419.20 L484.8,419.20 L485.3,419.20 L485.8,419.20 L486.3,419.20 L486.8,419.20 L487.3,419.20 L487.8,419.20 L488.3,419.20 L488.8,419.20 L489.3,419.20 L489.8,419.20 L490.3,419.20 L490.8,419.20 L491.3,419.20 L491.8,419.20 L492.3,419.20 L492.8,419.20 L493.3,419.20 L493.8,419.20 L494.3,419.20 L494.8,419.20 L495.3,419.20 L495.8,419.20 L496.3,419.20 L496.8,419.20 L497.3,419.20 L497.8,419.20 L498.3,419.20 L498.8,419.20 L499.3,419.20 L499.8,419.20 L500.3,419.20 L500.8,419.20 L501.3,419.20 L501.8,419.20 L502.3,419.20 L502.8,419.20 L503.3,419.20 L503.8,419.20 L504.3,419.20 L504.8,419.20 L505.3,419.20 L505.8,419.20 L506.3,419.20 L506.8,419.20 L507.3,419.20 L507.8,419.20 L508.3,419.20 L508.8,419.20 L509.3,419.20 L509.8,419.20 L510.3,419.20 L510.8,419.20 L511.3,419.20 L511.8,419.20 L512.3,419.20 L512.8,419.20 L513.3,419.20 L513.8,419.20 L514.3,419.20 L514.8,419.20 L515.3,419.20 L515.8,419.20 L516.3,419.20 L516.8,419.20 L517.3,419.20 L517.8,419.20 L518.3,419.20 L518.8,419.20 L519.3,419.20 L519.8,419.20 L520.3,419.20 L520.8,419.20 L521.3,419.20 L521.8,419.20 L522.3,419.20 L522.8,419.20 L523.3,419.20 L523.8,419.20 L524.3,419.20 L524.8,419.20 L525.3,419.20 L525.8,419.20 L526.3,419.20 L526.8,419.20 L527.3,419.20 L527.8,419.20 L528.3,419.20 L528.8,419.20 L529.3,419.20 L529.8,419.20 L530.3,419.20 L530.8,419.20 L531.3,419.20 L531.8,419.20 L532.3,419.20 L532.8,419.20 L533.3,419.20 L533.8,419.20 L534.3,419.20 L534.8,419.20 L535.3,419.20 L535.8,419.20 L536.3,419.20 L536.8,419.20 L537.3,419.20 L537.8,419.20 L538.3,419.20 L538.8,419.20 L539.3,419.20 L539.8,419.20 L540.3,419.20 L540.8,419.20 L541.3,419.20 L541.8,419.20 L542.3,419.20 L542.8,419.20 L543.3,419.20 L543.8,419.20 L544.3,419.20 L544.8,419.20 L545.3,419.20 L545.8,419.20 L546.3,419.20 L546.8,419.20 L547.3,419.20 L547.8,419.20 L548.3,419.20 L548.8,419.20 L549.3,419.20 L549.8,419.20 L550.3,419.20 L550.8,419.20 L551.3,419.20 L551.8,419.20 L552.3,419.20 L552.8,419.20 L553.3,419.20 L553.8,419.20 L554.3,419.20 L554.8,419.20 L555.3,419.20 L555.8,419.20 L556.3,419.20 L556.8,419.20 L557.3,419.20 L557.8,419.20 L558.3,419.20 L558.8,419.20 L559.3,419.20 L559.8,419.20 L560.3,419.20 L560.8,419.20 L561.3,419.20 L561.8,419.20 L562.3,419.20 L562.8,419.20 L563.3,419.20 L563.8,419.20 L564.3,419.20 L564.8,419.20 L565.3,419.20 L565.8,419.20 L566.3,419.20 L566.8,419.20 L567.3,419.20 L567.8,419.20 L568.3,419.20 L568.8,419.20 L569.3,419.20 L569.8,418.95 L570.3,418.47 L570.8,417.92 L571.3,417.28 L571.8,416.54 L572.3,415.71 L572.8,414.77 L573.3,413.72 L573.8,412.55 L574.3,411.26 L574.8,409.86 L575.3,408.34 L575.8,406.70 L576.3,404.97 L576.8,403.14 L577.3,401.23 L577.8,399.26 L578.3,397.25 L578.8,395.22 L579.3,393.19 L579.8,391.20 L580.3,389.26 L580.8,387.42 L581.3,385.69 L581.8,384.11 L582.3,382.71 L582.8,381.50 L583.3,380.51 L583.8,379.76 L584.3,379.26 L584.8,379.02 L585.3,379.05 L585.8,379.34 L586.3,379.89 L586.8,380.69 L587.3,381.72 L587.8,382.97 L588.3,384.42 L588.8,386.03 L589.3,387.78 L589.8,389.64 L590.3,391.59 L590.8,393.59 L591.3,395.62 L591.8,397.65 L592.3,399.66 L592.8,401.62 L593.3,403.51 L593.8,405.32 L594.3,407.04 L594.8,408.65 L595.3,410.15 L595.8,411.53 L596.3,412.79 L596.8,413.94 L597.3,414.97 L597.8,415.89 L598.3,416.70 L598.8,417.41 L599.3,418.03 L599.8,418.57 L600.3,419.03 L600.8,419.20 L601.3,419.20 L601.8,419.20 L602.3,419.20 L602.8,419.20 L603.3,419.20 L603.8,419.20 L604.3,419.20 L604.8,419.20 L605.3,419.20 L605.8,419.20 L606.3,419.20 L606.8,419.20 L607.3,419.20 L607.8,419.20 L608.3,419.20 L608.8,419.20 L609.3,419.20 L609.8,419.20 L610.3,419.20 L610.8,419.20 L611.3,419.20 L611.8,419.20 L612.3,419.20 L612.8,419.20 L613.3,419.20 L613.8,419.20 L614.3,419.20 L614.8,419.20 L615.3,419.20 L615.8,419.20 L616.3,419.20 L616.8,419.20 L617.3,419.20 L617.8,419.20 L618.3,419.20 L618.8,419.20 L619.3,419.20 L619.8,419.20 L620.3,419.20 L620.8,419.20 L621.3,419.20 L621.8,419.20 L622.3,419.20 L622.8,419.20 L623.3,419.20 L623.8,419.20 L624.3,419.20 L624.8,419.20 L625.3,419.20 L625.8,419.20 L626.3,419.20 L626.8,419.20 L627.3,419.20 L627.8,419.20 L628.3,419.20 L628.8,418.70 L629.3,417.76 L629.8,416.67 L630.3,415.40 L630.8,413.95 L631.3,412.31 L631.8,410.45 L632.3,408.37 L632.8,406.06 L633.3,403.52 L633.8,400.75 L634.3,397.74 L634.8,394.52 L635.3,391.09 L635.8,387.47 L636.3,383.71 L636.8,379.82 L637.3,375.84 L637.8,371.83 L638.3,367.83 L638.8,363.89 L639.3,360.07 L639.8,356.43 L640.3,353.02 L640.8,349.90 L641.3,347.12 L641.8,344.74 L642.3,342.78 L642.8,341.30 L643.3,340.31 L643.8,339.84 L644.3,339.89 L644.8,340.47 L645.3,341.56 L645.8,343.14 L646.3,345.18 L646.8,347.65 L647.3,350.50 L647.8,353.68 L648.3,357.14 L648.8,360.82 L649.3,364.67 L649.8,368.63 L650.3,372.63 L650.8,376.64 L651.3,380.60 L651.8,384.47 L652.3,388.21 L652.8,391.79 L653.3,395.18 L653.6,419.2 L385.3,419.2 Z" fill="#e6eaf9" fill-opacity="0.85" stroke="none"/>
<path d="M385.3,419.20 L385.8,419.20 L386.3,419.20 L386.8,419.20 L387.3,419.20 L387.8,419.20 L388.3,419.20 L388.8,419.20 L389.3,419.20 L389.8,419.20 L390.3,419.20 L390.8,419.20 L391.3,419.20 L391.8,419.20 L392.3,419.20 L392.8,419.20 L393.3,419.20 L393.8,419.20 L394.3,419.20 L394.8,419.20 L395.3,419.20 L395.8,419.20 L396.3,419.20 L396.8,419.20 L397.3,419.20 L397.8,419.20 L398.3,419.20 L398.8,419.20 L399.3,419.20 L399.8,419.20 L400.3,419.20 L400.8,419.20 L401.3,419.20 L401.8,419.20 L402.3,419.20 L402.8,419.20 L403.3,419.20 L403.8,419.20 L404.3,419.20 L404.8,419.20 L405.3,419.20 L405.8,419.20 L406.3,419.20 L406.8,419.20 L407.3,419.20 L407.8,419.20 L408.3,419.20 L408.8,419.20 L409.3,419.20 L409.8,419.20 L410.3,419.20 L410.8,419.20 L411.3,419.20 L411.8,419.20 L412.3,419.20 L412.8,419.20 L413.3,419.20 L413.8,419.20 L414.3,419.20 L414.8,419.20 L415.3,419.20 L415.8,419.20 L416.3,419.20 L416.8,419.20 L417.3,419.20 L417.8,419.20 L418.3,419.20 L418.8,419.20 L419.3,419.20 L419.8,419.20 L420.3,419.20 L420.8,419.20 L421.3,419.20 L421.8,419.20 L422.3,419.20 L422.8,419.20 L423.3,419.20 L423.8,419.19 L424.3,419.18 L424.8,419.17 L425.3,419.16 L425.8,419.15 L426.3,419.13 L426.8,419.12 L427.3,419.10 L427.8,419.08 L428.3,419.05 L428.8,419.03 L429.3,419.00 L429.8,418.97 L430.3,418.94 L430.8,418.91 L431.3,418.87 L431.8,418.84 L432.3,418.80 L432.8,418.76 L433.3,418.73 L433.8,418.69 L434.3,418.65 L434.8,418.62 L435.3,418.58 L435.8,418.55 L436.3,418.52 L436.8,418.49 L437.3,418.46 L437.8,418.44 L438.3,418.43 L438.8,418.41 L439.3,418.40 L439.8,418.40 L440.3,418.40 L440.8,418.41 L441.3,418.42 L441.8,418.43 L442.3,418.45 L442.8,418.47 L443.3,418.49 L443.8,418.52 L444.3,418.55 L444.8,418.59 L445.3,418.62 L445.8,418.66 L446.3,418.70 L446.8,418.73 L447.3,418.77 L447.8,418.81 L448.3,418.85 L448.8,418.88 L449.3,418.92 L449.8,418.95 L450.3,418.98 L450.8,419.01 L451.3,419.03 L451.8,419.06 L452.3,419.08 L452.8,419.10 L453.3,419.12 L453.8,419.14 L454.3,419.15 L454.8,419.16 L455.3,419.18 L455.8,419.19 L456.3,419.20 L456.8,419.20 L457.3,419.20 L457.8,419.20 L458.3,419.20 L458.8,419.20 L459.3,419.20 L459.8,419.20 L460.3,419.20 L460.8,419.20 L461.3,419.20 L461.8,419.20 L462.3,419.20 L462.8,419.20 L463.3,419.20 L463.8,419.20 L464.3,419.20 L464.8,419.20 L465.3,419.20 L465.8,419.20 L466.3,419.20 L466.8,419.20 L467.3,419.20 L467.8,419.20 L468.3,419.20 L468.8,419.20 L469.3,419.20 L469.8,419.20 L470.3,419.20 L470.8,419.20 L471.3,419.20 L471.8,419.20 L472.3,419.20 L472.8,419.20 L473.3,419.20 L473.8,419.20 L474.3,419.20 L474.8,419.20 L475.3,419.20 L475.8,419.20 L476.3,419.20 L476.8,419.20 L477.3,419.20 L477.8,419.20 L478.3,419.20 L478.8,419.20 L479.3,419.20 L479.8,419.20 L480.3,419.20 L480.8,419.20 L481.3,419.20 L481.8,419.20 L482.3,419.20 L482.8,419.20 L483.3,419.20 L483.8,419.20 L484.3,419.20 L484.8,419.20 L485.3,419.20 L485.8,419.20 L486.3,419.20 L486.8,419.20 L487.3,419.20 L487.8,419.20 L488.3,419.20 L488.8,419.20 L489.3,419.20 L489.8,419.20 L490.3,419.20 L490.8,419.20 L491.3,419.20 L491.8,419.20 L492.3,419.20 L492.8,419.20 L493.3,419.20 L493.8,419.20 L494.3,419.20 L494.8,419.20 L495.3,419.20 L495.8,419.20 L496.3,419.20 L496.8,419.20 L497.3,419.20 L497.8,419.20 L498.3,419.20 L498.8,419.20 L499.3,419.20 L499.8,419.20 L500.3,419.20 L500.8,419.20 L501.3,419.20 L501.8,419.20 L502.3,419.20 L502.8,419.20 L503.3,419.20 L503.8,419.20 L504.3,419.20 L504.8,419.20 L505.3,419.20 L505.8,419.20 L506.3,419.20 L506.8,419.20 L507.3,419.20 L507.8,419.20 L508.3,419.20 L508.8,419.20 L509.3,419.20 L509.8,419.20 L510.3,419.20 L510.8,419.20 L511.3,419.20 L511.8,419.20 L512.3,419.20 L512.8,419.20 L513.3,419.20 L513.8,419.20 L514.3,419.20 L514.8,419.20 L515.3,419.20 L515.8,419.20 L516.3,419.20 L516.8,419.20 L517.3,419.20 L517.8,419.20 L518.3,419.20 L518.8,419.20 L519.3,419.20 L519.8,419.20 L520.3,419.20 L520.8,419.20 L521.3,419.20 L521.8,419.20 L522.3,419.20 L522.8,419.20 L523.3,419.20 L523.8,419.20 L524.3,419.20 L524.8,419.20 L525.3,419.20 L525.8,419.20 L526.3,419.20 L526.8,419.20 L527.3,419.20 L527.8,419.20 L528.3,419.20 L528.8,419.20 L529.3,419.20 L529.8,419.20 L530.3,419.20 L530.8,419.20 L531.3,419.20 L531.8,419.20 L532.3,419.20 L532.8,419.20 L533.3,419.20 L533.8,419.20 L534.3,419.20 L534.8,419.20 L535.3,419.20 L535.8,419.20 L536.3,419.20 L536.8,419.20 L537.3,419.20 L537.8,419.20 L538.3,419.20 L538.8,419.20 L539.3,419.20 L539.8,419.20 L540.3,419.20 L540.8,419.20 L541.3,419.20 L541.8,419.20 L542.3,419.20 L542.8,419.20 L543.3,419.20 L543.8,419.20 L544.3,419.20 L544.8,419.20 L545.3,419.20 L545.8,419.20 L546.3,419.20 L546.8,419.20 L547.3,419.20 L547.8,419.20 L548.3,419.20 L548.8,419.20 L549.3,419.20 L549.8,419.20 L550.3,419.20 L550.8,419.20 L551.3,419.20 L551.8,419.20 L552.3,419.20 L552.8,419.20 L553.3,419.20 L553.8,419.20 L554.3,419.20 L554.8,419.20 L555.3,419.20 L555.8,419.20 L556.3,419.20 L556.8,419.20 L557.3,419.20 L557.8,419.20 L558.3,419.20 L558.8,419.20 L559.3,419.20 L559.8,419.20 L560.3,419.20 L560.8,419.20 L561.3,419.20 L561.8,419.20 L562.3,419.20 L562.8,419.20 L563.3,419.20 L563.8,419.20 L564.3,419.20 L564.8,419.20 L565.3,419.20 L565.8,419.20 L566.3,419.20 L566.8,419.20 L567.3,419.20 L567.8,419.20 L568.3,419.20 L568.8,419.20 L569.3,419.20 L569.8,419.20 L570.3,419.20 L570.8,419.20 L571.3,419.20 L571.8,419.20 L572.3,419.20 L572.8,419.20 L573.3,419.20 L573.8,419.20 L574.3,419.20 L574.8,419.20 L575.3,419.20 L575.8,419.20 L576.3,419.20 L576.8,419.20 L577.3,419.20 L577.8,419.20 L578.3,419.20 L578.8,419.20 L579.3,419.20 L579.8,419.20 L580.3,419.20 L580.8,419.20 L581.3,419.20 L581.8,419.20 L582.3,419.20 L582.8,419.20 L583.3,419.20 L583.8,419.20 L584.3,419.20 L584.8,419.20 L585.3,419.20 L585.8,419.20 L586.3,419.20 L586.8,419.20 L587.3,419.20 L587.8,419.20 L588.3,419.20 L588.8,419.20 L589.3,419.20 L589.8,419.20 L590.3,419.20 L590.8,419.20 L591.3,419.20 L591.8,419.20 L592.3,419.20 L592.8,419.20 L593.3,419.20 L593.8,419.20 L594.3,419.20 L594.8,419.20 L595.3,419.20 L595.8,419.20 L596.3,419.20 L596.8,419.20 L597.3,419.20 L597.8,419.20 L598.3,419.20 L598.8,419.20 L599.3,419.20 L599.8,419.20 L600.3,419.20 L600.8,419.20 L601.3,419.20 L601.8,419.20 L602.3,419.20 L602.8,419.20 L603.3,419.20 L603.8,419.20 L604.3,419.20 L604.8,419.20 L605.3,419.20 L605.8,419.20 L606.3,419.20 L606.8,419.20 L607.3,419.20 L607.8,419.20 L608.3,419.20 L608.8,419.20 L609.3,419.20 L609.8,419.20 L610.3,419.20 L610.8,419.20 L611.3,419.20 L611.8,419.20 L612.3,419.20 L612.8,419.20 L613.3,419.20 L613.8,419.20 L614.3,419.20 L614.8,419.20 L615.3,419.20 L615.8,419.20 L616.3,419.20 L616.8,419.20 L617.3,419.20 L617.8,419.20 L618.3,419.20 L618.8,419.20 L619.3,419.20 L619.8,419.20 L620.3,419.20 L620.8,419.20 L621.3,419.20 L621.8,419.20 L622.3,419.20 L622.8,419.20 L623.3,419.20 L623.8,419.20 L624.3,419.20 L624.8,419.20 L625.3,419.20 L625.8,419.20 L626.3,419.20 L626.8,419.20 L627.3,419.20 L627.8,419.20 L628.3,419.20 L628.8,419.20 L629.3,419.20 L629.8,419.20 L630.3,419.20 L630.8,419.20 L631.3,419.20 L631.8,419.20 L632.3,419.20 L632.8,419.20 L633.3,419.20 L633.8,419.20 L634.3,419.20 L634.8,419.20 L635.3,419.20 L635.8,419.20 L636.3,419.20 L636.8,419.20 L637.3,419.20 L637.8,419.20 L638.3,419.20 L638.8,419.20 L639.3,419.20 L639.8,419.20 L640.3,419.20 L640.8,419.20 L641.3,419.20 L641.8,419.20 L642.3,419.20 L642.8,419.20 L643.3,419.20 L643.8,419.20 L644.3,419.20 L644.8,419.20 L645.3,419.20 L645.8,419.20 L646.3,419.20 L646.8,419.20 L647.3,419.20 L647.8,419.20 L648.3,419.20 L648.8,419.20 L649.3,419.20 L649.8,419.20 L650.3,419.20 L650.8,419.20 L651.3,419.20 L651.8,419.20 L652.3,419.20 L652.8,419.20 L653.3,419.20 L653.6,419.2 L385.3,419.2 Z" fill="#e0f4e0" fill-opacity="0.85" stroke="none"/>
<path d="M385.3,419.20 L385.8,419.20 L386.3,419.20 L386.8,419.20 L387.3,419.20 L387.8,419.20 L388.3,419.20 L388.8,419.20 L389.3,419.20 L389.8,419.20 L390.3,419.20 L390.8,419.20 L391.3,419.20 L391.8,419.20 L392.3,419.20 L392.8,419.20 L393.3,419.20 L393.8,419.20 L394.3,419.20 L394.8,419.20 L395.3,419.20 L395.8,419.20 L396.3,419.20 L396.8,419.20 L397.3,419.20 L397.8,419.20 L398.3,419.20 L398.8,419.20 L399.3,419.20 L399.8,419.20 L400.3,419.20 L400.8,419.20 L401.3,419.20 L401.8,419.20 L402.3,419.20 L402.8,419.20 L403.3,419.20 L403.8,419.20 L404.3,419.20 L404.8,419.20 L405.3,419.20 L405.8,419.20 L406.3,419.20 L406.8,419.20 L407.3,419.20 L407.8,419.20 L408.3,419.20 L408.8,419.20 L409.3,419.20 L409.8,419.20 L410.3,419.20 L410.8,419.20 L411.3,419.20 L411.8,419.20 L412.3,419.20 L412.8,419.20 L413.3,419.20 L413.8,419.20 L414.3,419.20 L414.8,419.20 L415.3,419.20 L415.8,419.20 L416.3,419.20 L416.8,419.20 L417.3,419.20 L417.8,419.20 L418.3,419.20 L418.8,419.20 L419.3,419.20 L419.8,419.20 L420.3,419.20 L420.8,419.20 L421.3,419.20 L421.8,419.20 L422.3,419.20 L422.8,419.20 L423.3,419.20 L423.8,419.20 L424.3,419.20 L424.8,419.20 L425.3,419.20 L425.8,419.20 L426.3,419.20 L426.8,419.20 L427.3,419.20 L427.8,419.20 L428.3,419.20 L428.8,419.20 L429.3,419.20 L429.8,419.20 L430.3,419.20 L430.8,419.20 L431.3,419.20 L431.8,419.20 L432.3,419.20 L432.8,419.20 L433.3,419.20 L433.8,419.20 L434.3,419.20 L434.8,419.20 L435.3,419.20 L435.8,419.20 L436.3,419.20 L436.8,419.20 L437.3,419.20 L437.8,419.20 L438.3,419.20 L438.8,419.20 L439.3,419.20 L439.8,419.20 L440.3,419.20 L440.8,419.20 L441.3,419.20 L441.8,419.20 L442.3,419.20 L442.8,419.20 L443.3,419.20 L443.8,419.20 L444.3,419.20 L444.8,419.20 L445.3,419.20 L445.8,419.20 L446.3,419.20 L446.8,419.20 L447.3,419.20 L447.8,419.20 L448.3,419.20 L448.8,419.20 L449.3,419.20 L449.8,419.20 L450.3,419.20 L450.8,419.20 L451.3,419.20 L451.8,419.20 L452.3,419.20 L452.8,419.20 L453.3,419.20 L453.8,419.20 L454.3,419.20 L454.8,419.20 L455.3,419.20 L455.8,419.20 L456.3,419.20 L456.8,419.20 L457.3,419.20 L457.8,419.20 L458.3,419.20 L458.8,419.20 L459.3,419.20 L459.8,419.20 L460.3,419.20 L460.8,419.20 L461.3,419.20 L461.8,419.20 L462.3,419.20 L462.8,419.20 L463.3,419.20 L463.8,419.20 L464.3,419.20 L464.8,419.20 L465.3,419.20 L465.8,419.20 L466.3,419.20 L466.8,419.20 L467.3,419.20 L467.8,419.20 L468.3,419.20 L468.8,419.20 L469.3,419.20 L469.8,419.20 L470.3,419.20 L470.8,419.20 L471.3,419.20 L471.8,419.20 L472.3,419.20 L472.8,419.20 L473.3,419.20 L473.8,419.20 L474.3,419.20 L474.8,419.20 L475.3,419.20 L475.8,419.20 L476.3,419.20 L476.8,419.20 L477.3,419.20 L477.8,419.20 L478.3,419.20 L478.8,419.20 L479.3,419.20 L479.8,419.20 L480.3,419.20 L480.8,419.20 L481.3,419.20 L481.8,419.20 L482.3,419.20 L482.8,419.20 L483.3,419.20 L483.8,419.20 L484.3,419.20 L484.8,419.20 L485.3,419.20 L485.8,419.20 L486.3,419.20 L486.8,419.20 L487.3,419.20 L487.8,419.20 L488.3,419.20 L488.8,419.20 L489.3,419.20 L489.8,419.20 L490.3,419.20 L490.8,419.20 L491.3,419.20 L491.8,419.20 L492.3,419.20 L492.8,419.20 L493.3,419.20 L493.8,419.20 L494.3,419.20 L494.8,419.20 L495.3,419.20 L495.8,419.20 L496.3,419.20 L496.8,419.20 L497.3,419.20 L497.8,419.20 L498.3,419.20 L498.8,419.20 L499.3,419.20 L499.8,419.20 L500.3,419.20 L500.8,419.20 L501.3,419.20 L501.8,419.20 L502.3,419.20 L502.8,419.20 L503.3,419.20 L503.8,419.20 L504.3,419.20 L504.8,419.20 L505.3,419.20 L505.8,419.20 L506.3,419.20 L506.8,419.20 L507.3,419.20 L507.8,419.20 L508.3,419.20 L508.8,419.20 L509.3,419.20 L509.8,419.20 L510.3,419.20 L510.8,419.20 L511.3,419.20 L511.8,419.20 L512.3,419.20 L512.8,419.20 L513.3,419.20 L513.8,419.20 L514.3,419.20 L514.8,419.20 L515.3,419.20 L515.8,419.20 L516.3,419.20 L516.8,419.20 L517.3,419.20 L517.8,419.20 L518.3,419.20 L518.8,419.20 L519.3,419.20 L519.8,419.20 L520.3,419.20 L520.8,419.20 L521.3,419.20 L521.8,419.20 L522.3,419.20 L522.8,419.20 L523.3,419.20 L523.8,419.20 L524.3,419.20 L524.8,419.20 L525.3,419.20 L525.8,419.20 L526.3,419.20 L526.8,419.20 L527.3,419.20 L527.8,419.20 L528.3,419.20 L528.8,419.20 L529.3,419.20 L529.8,419.20 L530.3,419.20 L530.8,419.20 L531.3,419.20 L531.8,419.20 L532.3,419.20 L532.8,419.20 L533.3,419.20 L533.8,419.20 L534.3,419.20 L534.8,419.20 L535.3,419.20 L535.8,419.20 L536.3,419.20 L536.8,419.20 L537.3,419.20 L537.8,419.20 L538.3,419.20 L538.8,419.20 L539.3,419.20 L539.8,419.20 L540.3,419.20 L540.8,419.20 L541.3,419.20 L541.8,419.20 L542.3,419.20 L542.8,419.20 L543.3,419.20 L543.8,419.19 L544.3,419.18 L544.8,419.17 L545.3,419.15 L545.8,419.14 L546.3,419.12 L546.8,419.10 L547.3,419.07 L547.8,419.05 L548.3,419.02 L548.8,418.99 L549.3,418.95 L549.8,418.92 L550.3,418.88 L550.8,418.84 L551.3,418.79 L551.8,418.75 L552.3,418.70 L552.8,418.66 L553.3,418.61 L553.8,418.56 L554.3,418.52 L554.8,418.47 L555.3,418.43 L555.8,418.38 L556.3,418.35 L556.8,418.31 L557.3,418.28 L557.8,418.25 L558.3,418.23 L558.8,418.22 L559.3,418.21 L559.8,418.20 L560.3,418.20 L560.8,418.21 L561.3,418.22 L561.8,418.24 L562.3,418.26 L562.8,418.29 L563.3,418.32 L563.8,418.35 L564.3,418.39 L564.8,418.43 L565.3,418.48 L565.8,418.52 L566.3,418.57 L566.8,418.62 L567.3,418.67 L567.8,418.71 L568.3,418.76 L568.8,418.80 L569.3,418.84 L569.8,418.88 L570.3,418.92 L570.8,418.96 L571.3,418.99 L571.8,419.02 L572.3,419.05 L572.8,419.08 L573.3,419.10 L573.8,419.12 L574.3,419.14 L574.8,419.16 L575.3,419.17 L575.8,419.18 L576.3,419.19 L576.8,419.20 L577.3,419.20 L577.8,419.20 L578.3,419.20 L578.8,419.20 L579.3,419.20 L579.8,419.20 L580.3,419.20 L580.8,419.20 L581.3,419.20 L581.8,419.20 L582.3,419.20 L582.8,419.20 L583.3,419.20 L583.8,419.20 L584.3,419.20 L584.8,419.20 L585.3,419.20 L585.8,419.20 L586.3,419.20 L586.8,419.20 L587.3,419.20 L587.8,419.20 L588.3,419.20 L588.8,419.20 L589.3,419.20 L589.8,419.20 L590.3,419.20 L590.8,419.20 L591.3,419.20 L591.8,419.20 L592.3,419.20 L592.8,419.20 L593.3,419.20 L593.8,419.20 L594.3,419.20 L594.8,419.20 L595.3,419.20 L595.8,419.20 L596.3,419.20 L596.8,419.20 L597.3,419.20 L597.8,419.20 L598.3,419.20 L598.8,419.20 L599.3,419.20 L599.8,419.20 L600.3,419.20 L600.8,419.20 L601.3,418.40 L601.8,417.47 L602.3,416.39 L602.8,415.15 L603.3,413.73 L603.8,412.12 L604.3,410.31 L604.8,408.29 L605.3,406.05 L605.8,403.60 L606.3,400.93 L606.8,398.05 L607.3,394.97 L607.8,391.71 L608.3,388.29 L608.8,384.73 L609.3,381.07 L609.8,377.35 L610.3,373.62 L610.8,369.91 L611.3,366.28 L611.8,362.79 L612.3,359.48 L612.8,356.41 L613.3,353.62 L613.8,351.18 L614.3,349.12 L614.8,347.47 L615.3,346.27 L615.8,345.54 L616.3,345.30 L616.8,345.54 L617.3,346.27 L617.8,347.47 L618.3,349.12 L618.8,351.18 L619.3,353.62 L619.8,356.41 L620.3,359.48 L620.8,362.79 L621.3,366.28 L621.8,369.91 L622.3,373.62 L622.8,377.35 L623.3,381.07 L623.8,384.73 L624.3,388.29 L624.8,391.71 L625.3,394.97 L625.8,398.05 L626.3,400.93 L626.8,403.60 L627.3,406.05 L627.8,408.29 L628.3,410.31 L628.8,412.12 L629.3,413.73 L629.8,415.15 L630.3,416.39 L630.8,417.47 L631.3,418.40 L631.8,419.20 L632.3,419.20 L632.8,419.20 L633.3,419.20 L633.8,419.20 L634.3,419.20 L634.8,419.20 L635.3,419.20 L635.8,419.20 L636.3,419.20 L636.8,419.20 L637.3,419.20 L637.8,419.20 L638.3,419.20 L638.8,419.20 L639.3,419.20 L639.8,419.20 L640.3,419.20 L640.8,419.20 L641.3,419.20 L641.8,419.20 L642.3,419.20 L642.8,419.20 L643.3,419.20 L643.8,419.20 L644.3,419.20 L644.8,419.20 L645.3,419.20 L645.8,419.20 L646.3,419.20 L646.8,419.20 L647.3,419.20 L647.8,419.20 L648.3,419.20 L648.8,419.20 L649.3,419.20 L649.8,419.20 L650.3,419.20 L650.8,419.20 L651.3,419.20 L651.8,419.20 L652.3,419.20 L652.8,419.20 L653.3,419.20 L653.6,419.2 L385.3,419.2 Z" fill="#fbe1e1" fill-opacity="0.85" stroke="none"/>
<path d="M385.3,419.90 L385.8,419.90 L386.3,419.90 L386.8,419.90 L387.3,419.90 L387.8,419.90 L388.3,419.90 L388.8,419.90 L389.3,419.90 L389.8,419.90 L390.3,419.90 L390.8,419.90 L391.3,419.90 L391.8,419.90 L392.3,419.90 L392.8,419.90 L393.3,419.90 L393.8,419.90 L394.3,419.87 L394.8,419.83 L395.3,419.77 L395.8,419.70 L396.3,419.62 L396.8,419.53 L397.3,419.42 L397.8,419.30 L398.3,419.16 L398.8,419.01 L399.3,418.85 L399.8,418.68 L400.3,418.50 L400.8,418.33 L401.3,418.15 L401.8,417.99 L402.3,417.83 L402.8,417.70 L403.3,417.58 L403.8,417.49 L404.3,417.43 L404.8,417.40 L405.3,417.41 L405.8,417.44 L406.3,417.51 L406.8,417.60 L407.3,417.72 L407.8,417.86 L408.3,418.02 L408.8,418.19 L409.3,418.36 L409.8,418.54 L410.3,418.71 L410.8,418.88 L411.3,419.04 L411.8,419.19 L412.3,419.32 L412.8,419.44 L413.3,419.55 L413.8,419.64 L414.3,419.72 L414.8,419.78 L415.3,419.84 L415.8,419.88 L416.3,419.90 L416.8,419.90 L417.3,419.90 L417.8,419.90 L418.3,419.90 L418.8,419.90 L419.3,419.79 L419.8,419.16 L420.3,418.42 L420.8,417.58 L421.3,416.60 L421.8,415.49 L422.3,414.23 L422.8,412.82 L423.3,411.24 L423.8,409.50 L424.3,407.60 L424.8,405.53 L425.3,403.30 L425.8,400.92 L426.3,398.41 L426.8,395.77 L427.3,393.04 L427.8,390.24 L428.3,387.39 L428.8,384.54 L429.3,381.72 L429.8,378.97 L430.3,376.33 L430.8,373.84 L431.3,371.53 L431.8,369.46 L432.3,367.65 L432.8,366.14 L433.3,364.95 L433.8,364.10 L434.3,363.62 L434.8,363.51 L435.3,363.77 L435.8,364.40 L436.3,365.38 L436.8,366.70 L437.3,368.34 L437.8,370.26 L438.3,372.43 L438.8,374.81 L439.3,377.37 L439.8,380.06 L440.3,382.84 L440.8,385.68 L441.3,388.53 L441.8,391.36 L442.3,394.14 L442.8,396.84 L443.3,399.43 L443.8,401.89 L444.3,404.21 L444.8,406.38 L445.3,408.38 L445.8,410.22 L446.3,411.89 L446.8,413.40 L447.3,414.75 L447.8,415.95 L448.3,417.01 L448.8,417.93 L449.3,418.73 L449.8,419.42 L450.3,419.90 L450.8,419.90 L451.3,419.90 L451.8,419.90 L452.3,419.88 L452.8,419.84 L453.3,419.80 L453.8,419.74 L454.3,419.68 L454.8,419.60 L455.3,419.52 L455.8,419.42 L456.3,419.31 L456.8,419.19 L457.3,419.06 L457.8,418.92 L458.3,418.78 L458.8,418.64 L459.3,418.50 L459.8,418.37 L460.3,418.25 L460.8,418.14 L461.3,418.04 L461.8,417.97 L462.3,417.93 L462.8,417.90 L463.3,417.90 L463.8,417.93 L464.3,417.99 L464.8,418.06 L465.3,418.16 L465.8,418.27 L466.3,418.40 L466.8,418.53 L467.3,418.67 L467.8,418.81 L468.3,418.95 L468.8,419.09 L469.3,419.21 L469.8,419.33 L470.3,419.44 L470.8,419.53 L471.3,419.62 L471.8,419.69 L472.3,419.75 L472.8,419.81 L473.3,419.85 L473.8,419.88 L474.3,419.90 L474.8,419.90 L475.3,419.90 L475.8,419.90 L476.3,419.90 L476.8,419.90 L477.3,419.90 L477.8,419.64 L478.3,418.91 L478.8,418.06 L479.3,417.08 L479.8,415.95 L480.3,414.67 L480.8,413.22 L481.3,411.60 L481.8,409.79 L482.3,407.80 L482.8,405.62 L483.3,403.26 L483.8,400.72 L484.3,398.01 L484.8,395.16 L485.3,392.17 L485.8,389.08 L486.3,385.92 L486.8,382.72 L487.3,379.52 L487.8,376.36 L488.3,373.29 L488.8,370.35 L489.3,367.58 L489.8,365.04 L490.3,362.77 L490.8,360.80 L491.3,359.16 L491.8,357.90 L492.3,357.04 L492.8,356.58 L493.3,356.53 L493.8,356.91 L494.3,357.70 L494.8,358.88 L495.3,360.44 L495.8,362.35 L496.3,364.56 L496.8,367.05 L497.3,369.78 L497.8,372.69 L498.3,375.74 L498.8,378.88 L499.3,382.08 L499.8,385.28 L500.3,388.45 L500.8,391.56 L501.3,394.57 L501.8,397.45 L502.3,400.19 L502.8,402.76 L503.3,405.16 L503.8,407.38 L504.3,409.41 L504.8,411.25 L505.3,412.91 L505.8,414.40 L506.3,415.71 L506.8,416.87 L507.3,417.88 L507.8,418.75 L508.3,419.50 L508.8,419.90 L509.3,419.75 L509.8,419.33 L510.3,418.84 L510.8,418.28 L511.3,417.63 L511.8,416.89 L512.3,416.06 L512.8,415.12 L513.3,414.08 L513.8,412.93 L514.3,411.68 L514.8,410.32 L515.3,408.86 L515.8,407.30 L516.3,405.65 L516.8,403.94 L517.3,402.16 L517.8,400.34 L518.3,398.49 L518.8,396.65 L519.3,394.83 L519.8,393.06 L520.3,391.37 L520.8,389.78 L521.3,388.32 L521.8,387.01 L522.3,385.87 L522.8,384.93 L523.3,384.21 L523.8,383.71 L524.3,383.44 L524.8,383.42 L525.3,383.64 L525.8,384.09 L526.3,384.77 L526.8,385.67 L527.3,386.77 L527.8,388.04 L528.3,389.48 L528.8,391.04 L529.3,392.72 L529.8,394.47 L530.3,396.28 L530.8,398.12 L531.3,399.97 L531.8,401.80 L532.3,403.58 L532.8,405.32 L533.3,406.98 L533.8,408.55 L534.3,410.04 L534.8,411.42 L535.3,412.69 L535.8,413.86 L536.3,414.92 L536.8,415.88 L537.3,416.73 L537.8,417.49 L538.3,418.15 L538.8,418.73 L539.3,419.24 L539.8,419.30 L540.3,418.99 L540.8,418.37 L541.3,417.65 L541.8,416.83 L542.3,415.90 L542.8,414.85 L543.3,413.68 L543.8,412.38 L544.3,410.95 L544.8,409.40 L545.3,407.72 L545.8,405.91 L546.3,404.00 L546.8,401.99 L547.3,399.90 L547.8,397.74 L548.3,395.54 L548.8,393.33 L549.3,391.12 L549.8,388.96 L550.3,386.87 L550.8,384.88 L551.3,383.03 L551.8,381.35 L552.3,379.86 L552.8,378.59 L553.3,377.56 L553.8,376.80 L554.3,376.31 L554.8,376.11 L555.3,376.19 L555.8,376.57 L556.3,377.22 L556.8,378.15 L557.3,379.32 L557.8,380.73 L558.3,382.34 L558.8,384.13 L559.3,386.06 L559.8,388.11 L560.3,390.25 L560.8,392.44 L561.3,394.66 L561.8,396.86 L562.3,399.04 L562.8,401.16 L563.3,403.21 L563.8,405.16 L564.3,407.01 L564.8,408.74 L565.3,410.35 L565.8,411.83 L566.3,413.18 L566.8,414.40 L567.3,415.50 L567.8,416.47 L568.3,417.34 L568.8,418.10 L569.3,418.75 L569.8,419.32 L570.3,419.81 L570.8,419.90 L571.3,419.90 L571.8,419.90 L572.3,419.90 L572.8,419.90 L573.3,419.90 L573.8,419.90 L574.3,419.90 L574.8,419.90 L575.3,419.90 L575.8,419.90 L576.3,419.90 L576.8,419.90 L577.3,419.90 L577.8,419.90 L578.3,419.90 L578.8,419.90 L579.3,419.90 L579.8,419.90 L580.3,419.90 L580.8,419.90 L581.3,419.90 L581.8,419.90 L582.3,419.90 L582.8,419.90 L583.3,419.90 L583.8,419.90 L584.3,419.90 L584.8,419.90 L585.3,419.90 L585.8,419.90 L586.3,419.90 L586.8,419.90 L587.3,419.90 L587.8,419.90 L588.3,419.90 L588.8,419.90 L589.3,419.90 L589.8,419.90 L590.3,419.90 L590.8,419.90 L591.3,419.90 L591.8,419.90 L592.3,419.90 L592.8,419.90 L593.3,419.90 L593.8,419.90 L594.3,419.90 L594.8,419.90 L595.3,419.90 L595.8,419.90 L596.3,419.90 L596.8,419.90 L597.3,419.90 L597.8,419.90 L598.3,419.90 L598.8,419.90 L599.3,419.90 L599.8,419.90 L600.3,419.90 L600.8,419.90 L601.3,419.90 L601.8,419.90 L602.3,419.90 L602.8,419.90 L603.3,419.90 L603.8,419.90 L604.3,419.90 L604.8,419.90 L605.3,419.88 L605.8,419.84 L606.3,419.80 L606.8,419.74 L607.3,419.68 L607.8,419.60 L608.3,419.52 L608.8,419.42 L609.3,419.31 L609.8,419.19 L610.3,419.06 L610.8,418.92 L611.3,418.78 L611.8,418.64 L612.3,418.50 L612.8,418.37 L613.3,418.25 L613.8,418.14 L614.3,418.04 L614.8,417.97 L615.3,417.93 L615.8,417.90 L616.3,417.90 L616.8,417.93 L617.3,417.99 L617.8,418.06 L618.3,418.16 L618.8,418.27 L619.3,418.40 L619.8,418.53 L620.3,418.67 L620.8,418.81 L621.3,418.95 L621.8,419.09 L622.3,419.21 L622.8,419.33 L623.3,419.44 L623.8,419.53 L624.3,419.62 L624.8,419.69 L625.3,419.75 L625.8,419.81 L626.3,419.85 L626.8,419.88 L627.3,419.90 L627.8,419.90 L628.3,419.90 L628.8,419.90 L629.3,419.90 L629.8,419.90 L630.3,419.90 L630.8,419.90 L631.3,419.90 L631.8,419.90 L632.3,419.90 L632.8,419.90 L633.3,419.90 L633.8,419.90 L634.3,419.90 L634.8,419.90 L635.3,419.90 L635.8,419.90 L636.3,419.90 L636.8,419.90 L637.3,419.90 L637.8,419.90 L638.3,419.90 L638.8,419.90 L639.3,419.90 L639.8,419.90 L640.3,419.90 L640.8,419.90 L641.3,419.90 L641.8,419.90 L642.3,419.90 L642.8,419.90 L643.3,419.90 L643.8,419.90 L644.3,419.90 L644.8,419.90 L645.3,419.90 L645.8,419.90 L646.3,419.90 L646.8,419.90 L647.3,419.90 L647.8,419.90 L648.3,419.90 L648.8,419.90 L649.3,419.90 L649.8,419.90 L650.3,419.90 L650.8,419.90 L651.3,419.90 L651.8,419.90 L652.3,419.90 L652.8,419.90 L653.3,419.90" fill="none" stroke="#222222" stroke-width="1.35"/>
<path d="M385.3,405.86 L385.8,408.10 L386.3,410.14 L386.8,411.97 L387.3,413.60 L387.8,415.05 L388.3,416.32 L388.8,417.43 L389.3,418.38 L389.8,418.81 L390.3,418.35 L390.8,417.48 L391.3,416.47 L391.8,415.31 L392.3,414.00 L392.8,412.51 L393.3,410.85 L393.8,409.01 L394.3,406.98 L394.8,404.76 L395.3,402.36 L395.8,399.79 L396.3,397.05 L396.8,394.17 L397.3,391.16 L397.8,388.05 L398.3,384.88 L398.8,381.68 L399.3,378.48 L399.8,375.34 L400.3,372.29 L400.8,369.38 L401.3,366.65 L401.8,364.16 L402.3,361.95 L402.8,360.04 L403.3,358.48 L403.8,357.30 L404.3,356.51 L404.8,356.13 L405.3,356.18 L405.8,356.64 L406.3,357.50 L406.8,358.76 L407.3,360.40 L407.8,362.37 L408.3,364.64 L408.8,367.18 L409.3,369.95 L409.8,372.89 L410.3,375.96 L410.8,379.12 L411.3,382.32 L411.8,385.52 L412.3,388.68 L412.8,391.77 L413.3,394.76 L413.8,397.61 L414.3,400.32 L414.8,402.86 L415.3,405.22 L415.8,407.40 L416.3,409.39 L416.8,411.20 L417.3,412.82 L417.8,414.27 L418.3,415.55 L418.8,416.68 L419.3,417.66 L419.8,418.51 L420.3,419.24 L420.8,419.50 L421.3,419.50 L421.8,419.50 L422.3,419.50 L422.8,419.50 L423.3,419.50 L423.8,419.50 L424.3,419.50 L424.8,419.50 L425.3,419.50 L425.8,419.50 L426.3,419.50 L426.8,419.50 L427.3,419.50 L427.8,419.50 L428.3,419.50 L428.8,419.50 L429.3,419.50 L429.8,419.50 L430.3,419.50 L430.8,419.50 L431.3,419.50 L431.8,419.50 L432.3,419.50 L432.8,419.50 L433.3,419.50 L433.8,419.50 L434.3,419.50 L434.8,419.50 L435.3,419.50 L435.8,419.50 L436.3,419.50 L436.8,419.50 L437.3,419.50 L437.8,419.50 L438.3,419.50 L438.8,419.50 L439.3,419.50 L439.8,419.50 L440.3,419.50 L440.8,419.50 L441.3,419.50 L441.8,419.50 L442.3,419.50 L442.8,419.50 L443.3,419.50 L443.8,419.50 L444.3,419.50 L444.8,419.50 L445.3,419.50 L445.8,419.50 L446.3,419.50 L446.8,419.50 L447.3,419.50 L447.8,419.50 L448.3,419.16 L448.8,418.66 L449.3,418.09 L449.8,417.42 L450.3,416.66 L450.8,415.80 L451.3,414.83 L451.8,413.75 L452.3,412.55 L452.8,411.23 L453.3,409.79 L453.8,408.23 L454.3,406.57 L454.8,404.80 L455.3,402.94 L455.8,401.00 L456.3,399.01 L456.8,396.98 L457.3,394.93 L457.8,392.89 L458.3,390.89 L458.8,388.96 L459.3,387.12 L459.8,385.41 L460.3,383.85 L460.8,382.47 L461.3,381.30 L461.8,380.35 L462.3,379.64 L462.8,379.19 L463.3,379.01 L463.8,379.09 L464.3,379.43 L464.8,380.04 L465.3,380.89 L465.8,381.98 L466.3,383.28 L466.8,384.77 L467.3,386.42 L467.8,388.21 L468.3,390.11 L468.8,392.09 L469.3,394.11 L469.8,396.16 L470.3,398.20 L470.8,400.21 L471.3,402.17 L471.8,404.07 L472.3,405.87 L472.8,407.58 L473.3,409.18 L473.8,410.67 L474.3,412.04 L474.8,413.28 L475.3,414.41 L475.8,415.43 L476.3,416.33 L476.8,417.13 L477.3,417.83 L477.8,418.44 L478.3,418.97 L478.8,419.42 L479.3,419.50 L479.8,419.50 L480.3,419.50 L480.8,419.50 L481.3,419.50 L481.8,419.50 L482.3,419.50 L482.8,419.50 L483.3,419.50 L483.8,419.50 L484.3,419.50 L484.8,419.50 L485.3,419.50 L485.8,419.50 L486.3,419.50 L486.8,419.50 L487.3,419.50 L487.8,419.50 L488.3,419.50 L488.8,419.50 L489.3,419.50 L489.8,419.50 L490.3,419.50 L490.8,419.50 L491.3,419.50 L491.8,419.50 L492.3,419.50 L492.8,419.50 L493.3,419.50 L493.8,419.50 L494.3,419.50 L494.8,419.50 L495.3,419.50 L495.8,419.50 L496.3,419.50 L496.8,419.50 L497.3,419.50 L497.8,419.50 L498.3,419.50 L498.8,419.50 L499.3,419.50 L499.8,419.50 L500.3,419.50 L500.8,419.50 L501.3,419.50 L501.8,419.50 L502.3,419.50 L502.8,419.50 L503.3,419.50 L503.8,419.50 L504.3,419.50 L504.8,419.50 L505.3,419.50 L505.8,419.50 L506.3,419.50 L506.8,419.50 L507.3,419.50 L507.8,419.50 L508.3,419.50 L508.8,419.50 L509.3,419.50 L509.8,419.50 L510.3,419.50 L510.8,419.50 L511.3,419.50 L511.8,419.50 L512.3,419.50 L512.8,419.50 L513.3,419.50 L513.8,419.50 L514.3,419.50 L514.8,419.50 L515.3,419.50 L515.8,419.50 L516.3,419.50 L516.8,419.50 L517.3,419.50 L517.8,419.50 L518.3,419.50 L518.8,419.50 L519.3,419.50 L519.8,419.50 L520.3,419.50 L520.8,419.50 L521.3,419.50 L521.8,419.50 L522.3,419.50 L522.8,419.50 L523.3,419.50 L523.8,419.50 L524.3,419.50 L524.8,419.50 L525.3,419.50 L525.8,419.50 L526.3,419.50 L526.8,419.50 L527.3,419.50 L527.8,419.50 L528.3,419.50 L528.8,419.50 L529.3,419.50 L529.8,419.50 L530.3,419.50 L530.8,419.50 L531.3,419.50 L531.8,419.50 L532.3,419.50 L532.8,419.50 L533.3,419.50 L533.8,419.50 L534.3,419.50 L534.8,419.50 L535.3,419.50 L535.8,419.50 L536.3,419.50 L536.8,419.50 L537.3,419.50 L537.8,419.50 L538.3,419.50 L538.8,419.50 L539.3,419.50 L539.8,419.50 L540.3,419.50 L540.8,419.50 L541.3,419.50 L541.8,419.50 L542.3,419.50 L542.8,419.50 L543.3,419.50 L543.8,419.50 L544.3,419.50 L544.8,419.50 L545.3,419.50 L545.8,419.50 L546.3,419.50 L546.8,419.50 L547.3,419.50 L547.8,419.50 L548.3,419.50 L548.8,419.50 L549.3,419.50 L549.8,419.50 L550.3,419.50 L550.8,419.50 L551.3,419.50 L551.8,419.50 L552.3,419.50 L552.8,419.50 L553.3,419.50 L553.8,419.50 L554.3,419.50 L554.8,419.50 L555.3,419.50 L555.8,419.50 L556.3,419.50 L556.8,419.50 L557.3,419.50 L557.8,419.50 L558.3,419.50 L558.8,419.50 L559.3,419.50 L559.8,419.50 L560.3,419.50 L560.8,419.50 L561.3,419.50 L561.8,419.50 L562.3,419.50 L562.8,419.50 L563.3,419.50 L563.8,419.50 L564.3,419.50 L564.8,419.50 L565.3,419.50 L565.8,419.50 L566.3,419.50 L566.8,419.50 L567.3,419.50 L567.8,419.50 L568.3,419.50 L568.8,419.50 L569.3,419.50 L569.8,419.25 L570.3,418.77 L570.8,418.22 L571.3,417.58 L571.8,416.84 L572.3,416.01 L572.8,415.07 L573.3,414.02 L573.8,412.85 L574.3,411.56 L574.8,410.16 L575.3,408.64 L575.8,407.00 L576.3,405.27 L576.8,403.44 L577.3,401.53 L577.8,399.56 L578.3,397.55 L578.8,395.52 L579.3,393.49 L579.8,391.50 L580.3,389.56 L580.8,387.72 L581.3,385.99 L581.8,384.41 L582.3,383.01 L582.8,381.80 L583.3,380.81 L583.8,380.06 L584.3,379.56 L584.8,379.32 L585.3,379.35 L585.8,379.64 L586.3,380.19 L586.8,380.99 L587.3,382.02 L587.8,383.27 L588.3,384.72 L588.8,386.33 L589.3,388.08 L589.8,389.94 L590.3,391.89 L590.8,393.89 L591.3,395.92 L591.8,397.95 L592.3,399.96 L592.8,401.92 L593.3,403.81 L593.8,405.62 L594.3,407.34 L594.8,408.95 L595.3,410.45 L595.8,411.83 L596.3,413.09 L596.8,414.24 L597.3,415.27 L597.8,416.19 L598.3,417.00 L598.8,417.71 L599.3,418.33 L599.8,418.87 L600.3,419.33 L600.8,419.50 L601.3,419.50 L601.8,419.50 L602.3,419.50 L602.8,419.50 L603.3,419.50 L603.8,419.50 L604.3,419.50 L604.8,419.50 L605.3,419.50 L605.8,419.50 L606.3,419.50 L606.8,419.50 L607.3,419.50 L607.8,419.50 L608.3,419.50 L608.8,419.50 L609.3,419.50 L609.8,419.50 L610.3,419.50 L610.8,419.50 L611.3,419.50 L611.8,419.50 L612.3,419.50 L612.8,419.50 L613.3,419.50 L613.8,419.50 L614.3,419.50 L614.8,419.50 L615.3,419.50 L615.8,419.50 L616.3,419.50 L616.8,419.50 L617.3,419.50 L617.8,419.50 L618.3,419.50 L618.8,419.50 L619.3,419.50 L619.8,419.50 L620.3,419.50 L620.8,419.50 L621.3,419.50 L621.8,419.50 L622.3,419.50 L622.8,419.50 L623.3,419.50 L623.8,419.50 L624.3,419.50 L624.8,419.50 L625.3,419.50 L625.8,419.50 L626.3,419.50 L626.8,419.50 L627.3,419.50 L627.8,419.50 L628.3,419.50 L628.8,419.00 L629.3,418.06 L629.8,416.97 L630.3,415.70 L630.8,414.25 L631.3,412.61 L631.8,410.75 L632.3,408.67 L632.8,406.36 L633.3,403.82 L633.8,401.05 L634.3,398.04 L634.8,394.82 L635.3,391.39 L635.8,387.77 L636.3,384.01 L636.8,380.12 L637.3,376.14 L637.8,372.13 L638.3,368.13 L638.8,364.19 L639.3,360.37 L639.8,356.73 L640.3,353.32 L640.8,350.20 L641.3,347.42 L641.8,345.04 L642.3,343.08 L642.8,341.60 L643.3,340.61 L643.8,340.14 L644.3,340.19 L644.8,340.77 L645.3,341.86 L645.8,343.44 L646.3,345.48 L646.8,347.95 L647.3,350.80 L647.8,353.98 L648.3,357.44 L648.8,361.12 L649.3,364.97 L649.8,368.93 L650.3,372.93 L650.8,376.94 L651.3,380.90 L651.8,384.77 L652.3,388.51 L652.8,392.09 L653.3,395.48" fill="none" stroke="#4a6ae8" stroke-width="1.35"/>
<path d="M385.3,418.80 L385.8,418.80 L386.3,418.80 L386.8,418.80 L387.3,418.80 L387.8,418.80 L388.3,418.80 L388.8,418.80 L389.3,418.80 L389.8,418.80 L390.3,418.80 L390.8,418.80 L391.3,418.80 L391.8,418.80 L392.3,418.80 L392.8,418.80 L393.3,418.80 L393.8,418.80 L394.3,418.80 L394.8,418.80 L395.3,418.80 L395.8,418.80 L396.3,418.80 L396.8,418.80 L397.3,418.80 L397.8,418.80 L398.3,418.80 L398.8,418.80 L399.3,418.80 L399.8,418.80 L400.3,418.80 L400.8,418.80 L401.3,418.80 L401.8,418.80 L402.3,418.80 L402.8,418.80 L403.3,418.80 L403.8,418.80 L404.3,418.80 L404.8,418.80 L405.3,418.80 L405.8,418.80 L406.3,418.80 L406.8,418.80 L407.3,418.80 L407.8,418.80 L408.3,418.80 L408.8,418.80 L409.3,418.80 L409.8,418.80 L410.3,418.80 L410.8,418.80 L411.3,418.80 L411.8,418.80 L412.3,418.80 L412.8,418.80 L413.3,418.80 L413.8,418.80 L414.3,418.80 L414.8,418.80 L415.3,418.80 L415.8,418.80 L416.3,418.80 L416.8,418.80 L417.3,418.80 L417.8,418.80 L418.3,418.80 L418.8,418.80 L419.3,418.80 L419.8,418.80 L420.3,418.80 L420.8,418.80 L421.3,418.80 L421.8,418.80 L422.3,418.80 L422.8,418.80 L423.3,418.80 L423.8,418.79 L424.3,418.78 L424.8,418.77 L425.3,418.76 L425.8,418.75 L426.3,418.73 L426.8,418.72 L427.3,418.70 L427.8,418.68 L428.3,418.65 L428.8,418.63 L429.3,418.60 L429.8,418.57 L430.3,418.54 L430.8,418.51 L431.3,418.47 L431.8,418.44 L432.3,418.40 L432.8,418.36 L433.3,418.33 L433.8,418.29 L434.3,418.25 L434.8,418.22 L435.3,418.18 L435.8,418.15 L436.3,418.12 L436.8,418.09 L437.3,418.06 L437.8,418.04 L438.3,418.03 L438.8,418.01 L439.3,418.00 L439.8,418.00 L440.3,418.00 L440.8,418.01 L441.3,418.02 L441.8,418.03 L442.3,418.05 L442.8,418.07 L443.3,418.09 L443.8,418.12 L444.3,418.15 L444.8,418.19 L445.3,418.22 L445.8,418.26 L446.3,418.30 L446.8,418.33 L447.3,418.37 L447.8,418.41 L448.3,418.45 L448.8,418.48 L449.3,418.52 L449.8,418.55 L450.3,418.58 L450.8,418.61 L451.3,418.63 L451.8,418.66 L452.3,418.68 L452.8,418.70 L453.3,418.72 L453.8,418.74 L454.3,418.75 L454.8,418.76 L455.3,418.78 L455.8,418.79 L456.3,418.80 L456.8,418.80 L457.3,418.80 L457.8,418.80 L458.3,418.80 L458.8,418.80 L459.3,418.80 L459.8,418.80 L460.3,418.80 L460.8,418.80 L461.3,418.80 L461.8,418.80 L462.3,418.80 L462.8,418.80 L463.3,418.80 L463.8,418.80 L464.3,418.80 L464.8,418.80 L465.3,418.80 L465.8,418.80 L466.3,418.80 L466.8,418.80 L467.3,418.80 L467.8,418.80 L468.3,418.80 L468.8,418.80 L469.3,418.80 L469.8,418.80 L470.3,418.80 L470.8,418.80 L471.3,418.80 L471.8,418.80 L472.3,418.80 L472.8,418.80 L473.3,418.80 L473.8,418.80 L474.3,418.80 L474.8,418.80 L475.3,418.80 L475.8,418.80 L476.3,418.80 L476.8,418.80 L477.3,418.80 L477.8,418.80 L478.3,418.80 L478.8,418.80 L479.3,418.80 L479.8,418.80 L480.3,418.80 L480.8,418.80 L481.3,418.80 L481.8,418.80 L482.3,418.80 L482.8,418.80 L483.3,418.80 L483.8,418.80 L484.3,418.80 L484.8,418.80 L485.3,418.80 L485.8,418.80 L486.3,418.80 L486.8,418.80 L487.3,418.80 L487.8,418.80 L488.3,418.80 L488.8,418.80 L489.3,418.80 L489.8,418.80 L490.3,418.80 L490.8,418.80 L491.3,418.80 L491.8,418.80 L492.3,418.80 L492.8,418.80 L493.3,418.80 L493.8,418.80 L494.3,418.80 L494.8,418.80 L495.3,418.80 L495.8,418.80 L496.3,418.80 L496.8,418.80 L497.3,418.80 L497.8,418.80 L498.3,418.80 L498.8,418.80 L499.3,418.80 L499.8,418.80 L500.3,418.80 L500.8,418.80 L501.3,418.80 L501.8,418.80 L502.3,418.80 L502.8,418.80 L503.3,418.80 L503.8,418.80 L504.3,418.80 L504.8,418.80 L505.3,418.80 L505.8,418.80 L506.3,418.80 L506.8,418.80 L507.3,418.80 L507.8,418.80 L508.3,418.80 L508.8,418.80 L509.3,418.80 L509.8,418.80 L510.3,418.80 L510.8,418.80 L511.3,418.80 L511.8,418.80 L512.3,418.80 L512.8,418.80 L513.3,418.80 L513.8,418.80 L514.3,418.80 L514.8,418.80 L515.3,418.80 L515.8,418.80 L516.3,418.80 L516.8,418.80 L517.3,418.80 L517.8,418.80 L518.3,418.80 L518.8,418.80 L519.3,418.80 L519.8,418.80 L520.3,418.80 L520.8,418.80 L521.3,418.80 L521.8,418.80 L522.3,418.80 L522.8,418.80 L523.3,418.80 L523.8,418.80 L524.3,418.80 L524.8,418.80 L525.3,418.80 L525.8,418.80 L526.3,418.80 L526.8,418.80 L527.3,418.80 L527.8,418.80 L528.3,418.80 L528.8,418.80 L529.3,418.80 L529.8,418.80 L530.3,418.80 L530.8,418.80 L531.3,418.80 L531.8,418.80 L532.3,418.80 L532.8,418.80 L533.3,418.80 L533.8,418.80 L534.3,418.80 L534.8,418.80 L535.3,418.80 L535.8,418.80 L536.3,418.80 L536.8,418.80 L537.3,418.80 L537.8,418.80 L538.3,418.80 L538.8,418.80 L539.3,418.80 L539.8,418.80 L540.3,418.80 L540.8,418.80 L541.3,418.80 L541.8,418.80 L542.3,418.80 L542.8,418.80 L543.3,418.80 L543.8,418.80 L544.3,418.80 L544.8,418.80 L545.3,418.80 L545.8,418.80 L546.3,418.80 L546.8,418.80 L547.3,418.80 L547.8,418.80 L548.3,418.80 L548.8,418.80 L549.3,418.80 L549.8,418.80 L550.3,418.80 L550.8,418.80 L551.3,418.80 L551.8,418.80 L552.3,418.80 L552.8,418.80 L553.3,418.80 L553.8,418.80 L554.3,418.80 L554.8,418.80 L555.3,418.80 L555.8,418.80 L556.3,418.80 L556.8,418.80 L557.3,418.80 L557.8,418.80 L558.3,418.80 L558.8,418.80 L559.3,418.80 L559.8,418.80 L560.3,418.80 L560.8,418.80 L561.3,418.80 L561.8,418.80 L562.3,418.80 L562.8,418.80 L563.3,418.80 L563.8,418.80 L564.3,418.80 L564.8,418.80 L565.3,418.80 L565.8,418.80 L566.3,418.80 L566.8,418.80 L567.3,418.80 L567.8,418.80 L568.3,418.80 L568.8,418.80 L569.3,418.80 L569.8,418.80 L570.3,418.80 L570.8,418.80 L571.3,418.80 L571.8,418.80 L572.3,418.80 L572.8,418.80 L573.3,418.80 L573.8,418.80 L574.3,418.80 L574.8,418.80 L575.3,418.80 L575.8,418.80 L576.3,418.80 L576.8,418.80 L577.3,418.80 L577.8,418.80 L578.3,418.80 L578.8,418.80 L579.3,418.80 L579.8,418.80 L580.3,418.80 L580.8,418.80 L581.3,418.80 L581.8,418.80 L582.3,418.80 L582.8,418.80 L583.3,418.80 L583.8,418.80 L584.3,418.80 L584.8,418.80 L585.3,418.80 L585.8,418.80 L586.3,418.80 L586.8,418.80 L587.3,418.80 L587.8,418.80 L588.3,418.80 L588.8,418.80 L589.3,418.80 L589.8,418.80 L590.3,418.80 L590.8,418.80 L591.3,418.80 L591.8,418.80 L592.3,418.80 L592.8,418.80 L593.3,418.80 L593.8,418.80 L594.3,418.80 L594.8,418.80 L595.3,418.80 L595.8,418.80 L596.3,418.80 L596.8,418.80 L597.3,418.80 L597.8,418.80 L598.3,418.80 L598.8,418.80 L599.3,418.80 L599.8,418.80 L600.3,418.80 L600.8,418.80 L601.3,418.80 L601.8,418.80 L602.3,418.80 L602.8,418.80 L603.3,418.80 L603.8,418.80 L604.3,418.80 L604.8,418.80 L605.3,418.80 L605.8,418.80 L606.3,418.80 L606.8,418.80 L607.3,418.80 L607.8,418.80 L608.3,418.80 L608.8,418.80 L609.3,418.80 L609.8,418.80 L610.3,418.80 L610.8,418.80 L611.3,418.80 L611.8,418.80 L612.3,418.80 L612.8,418.80 L613.3,418.80 L613.8,418.80 L614.3,418.80 L614.8,418.80 L615.3,418.80 L615.8,418.80 L616.3,418.80 L616.8,418.80 L617.3,418.80 L617.8,418.80 L618.3,418.80 L618.8,418.80 L619.3,418.80 L619.8,418.80 L620.3,418.80 L620.8,418.80 L621.3,418.80 L621.8,418.80 L622.3,418.80 L622.8,418.80 L623.3,418.80 L623.8,418.80 L624.3,418.80 L624.8,418.80 L625.3,418.80 L625.8,418.80 L626.3,418.80 L626.8,418.80 L627.3,418.80 L627.8,418.80 L628.3,418.80 L628.8,418.80 L629.3,418.80 L629.8,418.80 L630.3,418.80 L630.8,418.80 L631.3,418.80 L631.8,418.80 L632.3,418.80 L632.8,418.80 L633.3,418.80 L633.8,418.80 L634.3,418.80 L634.8,418.80 L635.3,418.80 L635.8,418.80 L636.3,418.80 L636.8,418.80 L637.3,418.80 L637.8,418.80 L638.3,418.80 L638.8,418.80 L639.3,418.80 L639.8,418.80 L640.3,418.80 L640.8,418.80 L641.3,418.80 L641.8,418.80 L642.3,418.80 L642.8,418.80 L643.3,418.80 L643.8,418.80 L644.3,418.80 L644.8,418.80 L645.3,418.80 L645.8,418.80 L646.3,418.80 L646.8,418.80 L647.3,418.80 L647.8,418.80 L648.3,418.80 L648.8,418.80 L649.3,418.80 L649.8,418.80 L650.3,418.80 L650.8,418.80 L651.3,418.80 L651.8,418.80 L652.3,418.80 L652.8,418.80 L653.3,418.80" fill="none" stroke="#33bb33" stroke-width="1.35"/>
<path d="M385.3,419.30 L385.8,419.30 L386.3,419.30 L386.8,419.30 L387.3,419.30 L387.8,419.30 L388.3,419.30 L388.8,419.30 L389.3,419.30 L389.8,419.30 L390.3,419.30 L390.8,419.30 L391.3,419.30 L391.8,419.30 L392.3,419.30 L392.8,419.30 L393.3,419.30 L393.8,419.30 L394.3,419.30 L394.8,419.30 L395.3,419.30 L395.8,419.30 L396.3,419.30 L396.8,419.30 L397.3,419.30 L397.8,419.30 L398.3,419.30 L398.8,419.30 L399.3,419.30 L399.8,419.30 L400.3,419.30 L400.8,419.30 L401.3,419.30 L401.8,419.30 L402.3,419.30 L402.8,419.30 L403.3,419.30 L403.8,419.30 L404.3,419.30 L404.8,419.30 L405.3,419.30 L405.8,419.30 L406.3,419.30 L406.8,419.30 L407.3,419.30 L407.8,419.30 L408.3,419.30 L408.8,419.30 L409.3,419.30 L409.8,419.30 L410.3,419.30 L410.8,419.30 L411.3,419.30 L411.8,419.30 L412.3,419.30 L412.8,419.30 L413.3,419.30 L413.8,419.30 L414.3,419.30 L414.8,419.30 L415.3,419.30 L415.8,419.30 L416.3,419.30 L416.8,419.30 L417.3,419.30 L417.8,419.30 L418.3,419.30 L418.8,419.30 L419.3,419.30 L419.8,419.30 L420.3,419.30 L420.8,419.30 L421.3,419.30 L421.8,419.30 L422.3,419.30 L422.8,419.30 L423.3,419.30 L423.8,419.30 L424.3,419.30 L424.8,419.30 L425.3,419.30 L425.8,419.30 L426.3,419.30 L426.8,419.30 L427.3,419.30 L427.8,419.30 L428.3,419.30 L428.8,419.30 L429.3,419.30 L429.8,419.30 L430.3,419.30 L430.8,419.30 L431.3,419.30 L431.8,419.30 L432.3,419.30 L432.8,419.30 L433.3,419.30 L433.8,419.30 L434.3,419.30 L434.8,419.30 L435.3,419.30 L435.8,419.30 L436.3,419.30 L436.8,419.30 L437.3,419.30 L437.8,419.30 L438.3,419.30 L438.8,419.30 L439.3,419.30 L439.8,419.30 L440.3,419.30 L440.8,419.30 L441.3,419.30 L441.8,419.30 L442.3,419.30 L442.8,419.30 L443.3,419.30 L443.8,419.30 L444.3,419.30 L444.8,419.30 L445.3,419.30 L445.8,419.30 L446.3,419.30 L446.8,419.30 L447.3,419.30 L447.8,419.30 L448.3,419.30 L448.8,419.30 L449.3,419.30 L449.8,419.30 L450.3,419.30 L450.8,419.30 L451.3,419.30 L451.8,419.30 L452.3,419.30 L452.8,419.30 L453.3,419.30 L453.8,419.30 L454.3,419.30 L454.8,419.30 L455.3,419.30 L455.8,419.30 L456.3,419.30 L456.8,419.30 L457.3,419.30 L457.8,419.30 L458.3,419.30 L458.8,419.30 L459.3,419.30 L459.8,419.30 L460.3,419.30 L460.8,419.30 L461.3,419.30 L461.8,419.30 L462.3,419.30 L462.8,419.30 L463.3,419.30 L463.8,419.30 L464.3,419.30 L464.8,419.30 L465.3,419.30 L465.8,419.30 L466.3,419.30 L466.8,419.30 L467.3,419.30 L467.8,419.30 L468.3,419.30 L468.8,419.30 L469.3,419.30 L469.8,419.30 L470.3,419.30 L470.8,419.30 L471.3,419.30 L471.8,419.30 L472.3,419.30 L472.8,419.30 L473.3,419.30 L473.8,419.30 L474.3,419.30 L474.8,419.30 L475.3,419.30 L475.8,419.30 L476.3,419.30 L476.8,419.30 L477.3,419.30 L477.8,419.30 L478.3,419.30 L478.8,419.30 L479.3,419.30 L479.8,419.30 L480.3,419.30 L480.8,419.30 L481.3,419.30 L481.8,419.30 L482.3,419.30 L482.8,419.30 L483.3,419.30 L483.8,419.30 L484.3,419.30 L484.8,419.30 L485.3,419.30 L485.8,419.30 L486.3,419.30 L486.8,419.30 L487.3,419.30 L487.8,419.30 L488.3,419.30 L488.8,419.30 L489.3,419.30 L489.8,419.30 L490.3,419.30 L490.8,419.30 L491.3,419.30 L491.8,419.30 L492.3,419.30 L492.8,419.30 L493.3,419.30 L493.8,419.30 L494.3,419.30 L494.8,419.30 L495.3,419.30 L495.8,419.30 L496.3,419.30 L496.8,419.30 L497.3,419.30 L497.8,419.30 L498.3,419.30 L498.8,419.30 L499.3,419.30 L499.8,419.30 L500.3,419.30 L500.8,419.30 L501.3,419.30 L501.8,419.30 L502.3,419.30 L502.8,419.30 L503.3,419.30 L503.8,419.30 L504.3,419.30 L504.8,419.30 L505.3,419.30 L505.8,419.30 L506.3,419.30 L506.8,419.30 L507.3,419.30 L507.8,419.30 L508.3,419.30 L508.8,419.30 L509.3,419.30 L509.8,419.30 L510.3,419.30 L510.8,419.30 L511.3,419.30 L511.8,419.30 L512.3,419.30 L512.8,419.30 L513.3,419.30 L513.8,419.30 L514.3,419.30 L514.8,419.30 L515.3,419.30 L515.8,419.30 L516.3,419.30 L516.8,419.30 L517.3,419.30 L517.8,419.30 L518.3,419.30 L518.8,419.30 L519.3,419.30 L519.8,419.30 L520.3,419.30 L520.8,419.30 L521.3,419.30 L521.8,419.30 L522.3,419.30 L522.8,419.30 L523.3,419.30 L523.8,419.30 L524.3,419.30 L524.8,419.30 L525.3,419.30 L525.8,419.30 L526.3,419.30 L526.8,419.30 L527.3,419.30 L527.8,419.30 L528.3,419.30 L528.8,419.30 L529.3,419.30 L529.8,419.30 L530.3,419.30 L530.8,419.30 L531.3,419.30 L531.8,419.30 L532.3,419.30 L532.8,419.30 L533.3,419.30 L533.8,419.30 L534.3,419.30 L534.8,419.30 L535.3,419.30 L535.8,419.30 L536.3,419.30 L536.8,419.30 L537.3,419.30 L537.8,419.30 L538.3,419.30 L538.8,419.30 L539.3,419.30 L539.8,419.30 L540.3,419.30 L540.8,419.30 L541.3,419.30 L541.8,419.30 L542.3,419.30 L542.8,419.30 L543.3,419.30 L543.8,419.29 L544.3,419.28 L544.8,419.27 L545.3,419.25 L545.8,419.24 L546.3,419.22 L546.8,419.20 L547.3,419.17 L547.8,419.15 L548.3,419.12 L548.8,419.09 L549.3,419.05 L549.8,419.02 L550.3,418.98 L550.8,418.94 L551.3,418.89 L551.8,418.85 L552.3,418.80 L552.8,418.76 L553.3,418.71 L553.8,418.66 L554.3,418.62 L554.8,418.57 L555.3,418.53 L555.8,418.48 L556.3,418.45 L556.8,418.41 L557.3,418.38 L557.8,418.35 L558.3,418.33 L558.8,418.32 L559.3,418.31 L559.8,418.30 L560.3,418.30 L560.8,418.31 L561.3,418.32 L561.8,418.34 L562.3,418.36 L562.8,418.39 L563.3,418.42 L563.8,418.45 L564.3,418.49 L564.8,418.53 L565.3,418.58 L565.8,418.62 L566.3,418.67 L566.8,418.72 L567.3,418.77 L567.8,418.81 L568.3,418.86 L568.8,418.90 L569.3,418.94 L569.8,418.98 L570.3,419.02 L570.8,419.06 L571.3,419.09 L571.8,419.12 L572.3,419.15 L572.8,419.18 L573.3,419.20 L573.8,419.22 L574.3,419.24 L574.8,419.26 L575.3,419.27 L575.8,419.28 L576.3,419.29 L576.8,419.30 L577.3,419.30 L577.8,419.30 L578.3,419.30 L578.8,419.30 L579.3,419.30 L579.8,419.30 L580.3,419.30 L580.8,419.30 L581.3,419.30 L581.8,419.30 L582.3,419.30 L582.8,419.30 L583.3,419.30 L583.8,419.30 L584.3,419.30 L584.8,419.30 L585.3,419.30 L585.8,419.30 L586.3,419.30 L586.8,419.30 L587.3,419.30 L587.8,419.30 L588.3,419.30 L588.8,419.30 L589.3,419.30 L589.8,419.30 L590.3,419.30 L590.8,419.30 L591.3,419.30 L591.8,419.30 L592.3,419.30 L592.8,419.30 L593.3,419.30 L593.8,419.30 L594.3,419.30 L594.8,419.30 L595.3,419.30 L595.8,419.30 L596.3,419.30 L596.8,419.30 L597.3,419.30 L597.8,419.30 L598.3,419.30 L598.8,419.30 L599.3,419.30 L599.8,419.30 L600.3,419.30 L600.8,419.30 L601.3,418.50 L601.8,417.57 L602.3,416.49 L602.8,415.25 L603.3,413.83 L603.8,412.22 L604.3,410.41 L604.8,408.39 L605.3,406.15 L605.8,403.70 L606.3,401.03 L606.8,398.15 L607.3,395.07 L607.8,391.81 L608.3,388.39 L608.8,384.83 L609.3,381.17 L609.8,377.45 L610.3,373.72 L610.8,370.01 L611.3,366.38 L611.8,362.89 L612.3,359.58 L612.8,356.51 L613.3,353.72 L613.8,351.28 L614.3,349.22 L614.8,347.57 L615.3,346.37 L615.8,345.64 L616.3,345.40 L616.8,345.64 L617.3,346.37 L617.8,347.57 L618.3,349.22 L618.8,351.28 L619.3,353.72 L619.8,356.51 L620.3,359.58 L620.8,362.89 L621.3,366.38 L621.8,370.01 L622.3,373.72 L622.8,377.45 L623.3,381.17 L623.8,384.83 L624.3,388.39 L624.8,391.81 L625.3,395.07 L625.8,398.15 L626.3,401.03 L626.8,403.70 L627.3,406.15 L627.8,408.39 L628.3,410.41 L628.8,412.22 L629.3,413.83 L629.8,415.25 L630.3,416.49 L630.8,417.57 L631.3,418.50 L631.8,419.30 L632.3,419.30 L632.8,419.30 L633.3,419.30 L633.8,419.30 L634.3,419.30 L634.8,419.30 L635.3,419.30 L635.8,419.30 L636.3,419.30 L636.8,419.30 L637.3,419.30 L637.8,419.30 L638.3,419.30 L638.8,419.30 L639.3,419.30 L639.8,419.30 L640.3,419.30 L640.8,419.30 L641.3,419.30 L641.8,419.30 L642.3,419.30 L642.8,419.30 L643.3,419.30 L643.8,419.30 L644.3,419.30 L644.8,419.30 L645.3,419.30 L645.8,419.30 L646.3,419.30 L646.8,419.30 L647.3,419.30 L647.8,419.30 L648.3,419.30 L648.8,419.30 L649.3,419.30 L649.8,419.30 L650.3,419.30 L650.8,419.30 L651.3,419.30 L651.8,419.30 L652.3,419.30 L652.8,419.30 L653.3,419.30" fill="none" stroke="#f03a3a" stroke-width="1.35"/>
<path d="M385.3,561.80 L385.8,561.80 L386.3,561.80 L386.8,561.80 L387.3,561.80 L387.8,561.80 L388.3,561.80 L388.8,561.80 L389.3,561.80 L389.8,561.80 L390.3,561.80 L390.8,561.77 L391.3,561.69 L391.8,561.60 L392.3,561.49 L392.8,561.36 L393.3,561.22 L393.8,561.05 L394.3,560.85 L394.8,560.64 L395.3,560.40 L395.8,560.14 L396.3,559.87 L396.8,559.57 L397.3,559.27 L397.8,558.95 L398.3,558.64 L398.8,558.33 L399.3,558.03 L399.8,557.75 L400.3,557.50 L400.8,557.27 L401.3,557.09 L401.8,556.95 L402.3,556.85 L402.8,556.80 L403.3,556.81 L403.8,556.87 L404.3,556.97 L404.8,557.12 L405.3,557.32 L405.8,557.55 L406.3,557.81 L406.8,558.09 L407.3,558.39 L407.8,558.70 L408.3,559.02 L408.8,559.33 L409.3,559.63 L409.8,559.92 L410.3,560.20 L410.8,560.45 L411.3,560.68 L411.8,560.89 L412.3,561.08 L412.8,561.25 L413.3,561.39 L413.8,561.51 L414.3,561.62 L414.8,561.71 L415.3,561.22 L415.8,560.58 L416.3,559.82 L416.8,558.94 L417.3,557.94 L417.8,556.81 L418.3,555.53 L418.8,554.11 L419.3,552.53 L419.8,550.80 L420.3,548.92 L420.8,546.89 L421.3,544.72 L421.8,542.42 L422.3,540.01 L422.8,537.50 L423.3,534.92 L423.8,532.30 L424.3,529.66 L424.8,527.05 L425.3,524.49 L425.8,522.03 L426.3,519.70 L426.8,517.53 L427.3,515.57 L427.8,513.85 L428.3,512.39 L428.8,511.23 L429.3,510.39 L429.8,509.87 L430.3,509.70 L430.8,509.87 L431.3,510.39 L431.8,511.23 L432.3,512.39 L432.8,513.85 L433.3,515.57 L433.8,517.53 L434.3,519.70 L434.8,522.03 L435.3,524.49 L435.8,527.05 L436.3,529.66 L436.8,532.30 L437.3,534.92 L437.8,537.50 L438.3,540.01 L438.8,542.42 L439.3,544.72 L439.8,546.89 L440.3,548.92 L440.8,550.80 L441.3,552.53 L441.8,554.11 L442.3,555.53 L442.8,556.81 L443.3,557.94 L443.8,558.94 L444.3,559.82 L444.8,560.58 L445.3,561.24 L445.8,561.80 L446.3,561.80 L446.8,561.80 L447.3,561.80 L447.8,561.80 L448.3,561.80 L448.8,561.80 L449.3,561.80 L449.8,561.77 L450.3,561.69 L450.8,561.60 L451.3,561.49 L451.8,561.36 L452.3,561.22 L452.8,561.05 L453.3,560.85 L453.8,560.64 L454.3,560.40 L454.8,560.14 L455.3,559.87 L455.8,559.57 L456.3,559.27 L456.8,558.95 L457.3,558.64 L457.8,558.33 L458.3,558.03 L458.8,557.75 L459.3,557.50 L459.8,557.27 L460.3,557.09 L460.8,556.95 L461.3,556.85 L461.8,556.80 L462.3,556.81 L462.8,556.87 L463.3,556.97 L463.8,557.12 L464.3,557.32 L464.8,557.55 L465.3,557.81 L465.8,558.09 L466.3,558.39 L466.8,558.70 L467.3,559.02 L467.8,559.33 L468.3,559.63 L468.8,559.92 L469.3,560.20 L469.8,560.45 L470.3,560.68 L470.8,560.89 L471.3,561.08 L471.8,561.25 L472.3,561.39 L472.8,561.51 L473.3,561.62 L473.8,561.71 L474.3,561.57 L474.8,560.99 L475.3,560.29 L475.8,559.48 L476.3,558.56 L476.8,557.50 L477.3,556.31 L477.8,554.98 L478.3,553.49 L478.8,551.86 L479.3,550.07 L479.8,548.12 L480.3,546.04 L480.8,543.81 L481.3,541.47 L481.8,539.01 L482.3,536.47 L482.8,533.87 L483.3,531.24 L483.8,528.61 L484.3,526.02 L484.8,523.49 L485.3,521.08 L485.8,518.81 L486.3,516.72 L486.8,514.85 L487.3,513.23 L487.8,511.89 L488.3,510.85 L488.8,510.14 L489.3,509.76 L489.8,509.73 L490.3,510.04 L490.8,510.68 L491.3,511.66 L491.8,512.94 L492.3,514.50 L492.8,516.33 L493.3,518.37 L493.8,520.61 L494.3,523.00 L494.8,525.51 L495.3,528.09 L495.8,530.72 L496.3,533.35 L496.8,535.96 L497.3,538.51 L497.8,540.98 L498.3,543.35 L498.8,545.60 L499.3,547.72 L499.8,549.69 L500.3,551.51 L500.8,553.18 L501.3,554.69 L501.8,556.06 L502.3,557.28 L502.8,558.36 L503.3,559.31 L503.8,560.14 L504.3,560.86 L504.8,561.47 L505.3,561.80 L505.8,561.80 L506.3,561.80 L506.8,561.80 L507.3,561.80 L507.8,561.80 L508.3,561.80 L508.8,561.80 L509.3,561.77 L509.8,561.71 L510.3,561.64 L510.8,561.56 L511.3,561.47 L511.8,561.35 L512.3,561.22 L512.8,561.08 L513.3,560.91 L513.8,560.73 L514.3,560.54 L514.8,560.34 L515.3,560.13 L515.8,559.91 L516.3,559.70 L516.8,559.50 L517.3,559.32 L517.8,559.16 L518.3,559.02 L518.8,558.91 L519.3,558.84 L519.8,558.80 L520.3,558.81 L520.8,558.85 L521.3,558.93 L521.8,559.04 L522.3,559.19 L522.8,559.35 L523.3,559.54 L523.8,559.75 L524.3,559.96 L524.8,560.17 L525.3,560.35 L525.8,560.50 L526.3,560.64 L526.8,560.75 L527.3,560.83 L527.8,560.88 L528.3,560.90 L528.8,560.88 L529.3,560.84 L529.8,560.77 L530.3,560.67 L530.8,560.56 L531.3,560.40 L531.8,560.23 L532.3,560.05 L532.8,559.89 L533.3,559.73 L533.8,558.42 L534.3,556.88 L534.8,555.14 L535.3,553.20 L535.8,551.02 L536.3,548.60 L536.8,545.93 L537.3,542.97 L537.8,539.73 L538.3,536.19 L538.8,532.34 L539.3,528.20 L539.8,523.75 L540.3,519.03 L540.8,514.04 L541.3,508.82 L541.8,503.40 L542.3,497.83 L542.8,492.17 L543.3,486.46 L543.8,480.79 L544.3,475.22 L544.8,469.82 L545.3,464.68 L545.8,459.86 L546.3,455.44 L546.8,451.49 L547.3,448.07 L547.8,445.23 L548.3,443.04 L548.8,441.53 L549.3,440.73 L549.8,440.66 L550.3,441.31 L550.8,442.68 L551.3,444.74 L551.8,447.45 L552.3,450.78 L552.8,454.66 L553.3,459.04 L553.8,463.85 L554.3,469.01 L554.8,474.46 L555.3,480.10 L555.8,485.88 L556.3,491.71 L556.8,497.53 L557.3,503.28 L557.8,508.90 L558.3,514.34 L558.8,519.55 L559.3,524.51 L559.8,529.18 L560.3,533.55 L560.8,537.59 L561.3,541.32 L561.8,544.72 L562.3,547.81 L562.8,550.58 L563.3,553.06 L563.8,555.26 L564.3,557.19 L564.8,558.89 L565.3,560.36 L565.8,561.63 L566.3,561.80 L566.8,561.80 L567.3,561.80 L567.8,561.80 L568.3,561.80 L568.8,561.80 L569.3,561.80 L569.8,561.80 L570.3,561.80 L570.8,561.80 L571.3,561.80 L571.8,561.80 L572.3,561.80 L572.8,561.80 L573.3,561.80 L573.8,561.80 L574.3,561.80 L574.8,561.80 L575.3,561.80 L575.8,561.80 L576.3,561.80 L576.8,561.80 L577.3,561.80 L577.8,561.80 L578.3,561.80 L578.8,561.80 L579.3,561.80 L579.8,561.80 L580.3,561.80 L580.8,561.80 L581.3,561.80 L581.8,561.80 L582.3,561.80 L582.8,561.80 L583.3,561.80 L583.8,561.80 L584.3,561.80 L584.8,561.80 L585.3,561.80 L585.8,561.80 L586.3,561.80 L586.8,561.80 L587.3,561.80 L587.8,561.80 L588.3,561.80 L588.8,561.80 L589.3,561.80 L589.8,561.80 L590.3,561.80 L590.8,561.80 L591.3,561.80 L591.8,561.80 L592.3,561.80 L592.8,561.80 L593.3,561.80 L593.8,561.80 L594.3,561.80 L594.8,561.80 L595.3,561.80 L595.8,561.80 L596.3,561.80 L596.8,561.80 L597.3,561.80 L597.8,561.80 L598.3,561.80 L598.8,561.80 L599.3,561.80 L599.8,561.76 L600.3,561.68 L600.8,561.58 L601.3,561.46 L601.8,561.32 L602.3,561.16 L602.8,560.97 L603.3,560.76 L603.8,560.52 L604.3,560.26 L604.8,559.98 L605.3,559.67 L605.8,559.35 L606.3,559.01 L606.8,558.67 L607.3,558.32 L607.8,557.98 L608.3,557.65 L608.8,557.35 L609.3,557.07 L609.8,556.82 L610.3,556.62 L610.8,556.46 L611.3,556.35 L611.8,556.30 L612.3,556.31 L612.8,556.37 L613.3,556.49 L613.8,556.65 L614.3,556.87 L614.8,557.12 L615.3,557.41 L615.8,557.72 L616.3,558.05 L616.8,558.39 L617.3,558.74 L617.8,559.08 L618.3,559.42 L618.8,559.74 L619.3,560.04 L619.8,560.32 L620.3,560.57 L620.8,560.80 L621.3,561.01 L621.8,561.19 L622.3,561.35 L622.8,561.49 L623.3,561.60 L623.8,561.70 L624.3,561.78 L624.8,561.80 L625.3,561.80 L625.8,561.80 L626.3,561.80 L626.8,561.80 L627.3,561.80 L627.8,561.80 L628.3,561.80 L628.8,561.80 L629.3,561.80 L629.8,561.80 L630.3,561.80 L630.8,561.80 L631.3,561.80 L631.8,561.80 L632.3,561.80 L632.8,561.80 L633.3,561.80 L633.8,561.80 L634.3,561.80 L634.8,561.80 L635.3,561.80 L635.8,561.80 L636.3,561.80 L636.8,561.80 L637.3,561.80 L637.8,561.80 L638.3,561.80 L638.8,561.80 L639.3,561.80 L639.8,561.80 L640.3,561.80 L640.8,561.80 L641.3,561.80 L641.8,561.80 L642.3,561.80 L642.8,561.80 L643.3,561.80 L643.8,561.80 L644.3,561.75 L644.8,561.68 L645.3,561.59 L645.8,561.48 L646.3,561.36 L646.8,561.20 L647.3,561.03 L647.8,560.83 L648.3,560.62 L648.8,560.38 L649.3,560.12 L649.8,559.85 L650.3,559.57 L650.8,559.28 L651.3,559.01 L651.8,558.74 L652.3,558.49 L652.8,558.27 L653.3,558.09 L653.6,561.8 L385.3,561.8 Z" fill="#dedede" fill-opacity="0.85" stroke="none"/>
<path d="M385.3,561.80 L385.8,561.80 L386.3,561.43 L386.8,560.74 L387.3,559.94 L387.8,559.01 L388.3,557.94 L388.8,556.73 L389.3,555.36 L389.8,553.83 L390.3,552.14 L390.8,550.27 L391.3,548.23 L391.8,546.02 L392.3,543.64 L392.8,541.12 L393.3,538.47 L393.8,535.69 L394.3,532.83 L394.8,529.91 L395.3,526.96 L395.8,524.02 L396.3,521.12 L396.8,518.31 L397.3,515.63 L397.8,513.12 L398.3,510.83 L398.8,508.79 L399.3,507.03 L399.8,505.59 L400.3,504.50 L400.8,503.78 L401.3,503.43 L401.8,503.47 L402.3,503.89 L402.8,504.69 L403.3,505.85 L403.8,507.36 L404.3,509.17 L404.8,511.27 L405.3,513.61 L405.8,516.15 L406.3,518.86 L406.8,521.69 L407.3,524.60 L407.8,527.55 L408.3,530.50 L408.8,533.41 L409.3,536.26 L409.8,539.01 L410.3,541.64 L410.8,544.13 L411.3,546.47 L411.8,548.65 L412.3,550.66 L412.8,552.49 L413.3,554.15 L413.8,555.65 L414.3,556.98 L414.8,558.17 L415.3,559.20 L415.8,560.11 L416.3,560.89 L416.8,561.56 L417.3,561.80 L417.8,561.80 L418.3,561.80 L418.8,561.80 L419.3,561.80 L419.8,561.80 L420.3,561.80 L420.8,561.80 L421.3,561.80 L421.8,561.80 L422.3,561.80 L422.8,561.80 L423.3,561.80 L423.8,561.80 L424.3,561.80 L424.8,561.80 L425.3,561.80 L425.8,561.80 L426.3,561.80 L426.8,561.80 L427.3,561.80 L427.8,561.80 L428.3,561.80 L428.8,561.80 L429.3,561.80 L429.8,561.80 L430.3,561.80 L430.8,561.80 L431.3,561.80 L431.8,561.80 L432.3,561.80 L432.8,561.80 L433.3,561.80 L433.8,561.80 L434.3,561.80 L434.8,561.80 L435.3,561.80 L435.8,561.80 L436.3,561.80 L436.8,561.80 L437.3,561.80 L437.8,561.80 L438.3,561.80 L438.8,561.80 L439.3,561.80 L439.8,561.80 L440.3,561.80 L440.8,561.80 L441.3,561.80 L441.8,561.80 L442.3,561.80 L442.8,561.80 L443.3,561.80 L443.8,561.80 L444.3,561.80 L444.8,561.45 L445.3,560.95 L445.8,560.37 L446.3,559.70 L446.8,558.94 L447.3,558.07 L447.8,557.09 L448.3,555.99 L448.8,554.78 L449.3,553.45 L449.8,551.99 L450.3,550.42 L450.8,548.74 L451.3,546.95 L451.8,545.08 L452.3,543.12 L452.8,541.11 L453.3,539.05 L453.8,536.99 L454.3,534.93 L454.8,532.91 L455.3,530.96 L455.8,529.10 L456.3,527.37 L456.8,525.80 L457.3,524.41 L457.8,523.22 L458.3,522.26 L458.8,521.55 L459.3,521.09 L459.8,520.91 L460.3,520.99 L460.8,521.34 L461.3,521.95 L461.8,522.81 L462.3,523.91 L462.8,525.22 L463.3,526.73 L463.8,528.40 L464.3,530.20 L464.8,532.12 L465.3,534.11 L465.8,536.16 L466.3,538.23 L466.8,540.29 L467.3,542.32 L467.8,544.30 L468.3,546.21 L468.8,548.04 L469.3,549.76 L469.8,551.38 L470.3,552.88 L470.8,554.26 L471.3,555.52 L471.8,556.66 L472.3,557.69 L472.8,558.60 L473.3,559.41 L473.8,560.11 L474.3,560.73 L474.8,561.26 L475.3,561.72 L475.8,561.80 L476.3,561.80 L476.8,561.80 L477.3,561.80 L477.8,561.80 L478.3,561.80 L478.8,561.80 L479.3,561.80 L479.8,561.80 L480.3,561.80 L480.8,561.80 L481.3,561.80 L481.8,561.80 L482.3,561.80 L482.8,561.80 L483.3,561.80 L483.8,561.80 L484.3,561.80 L484.8,561.80 L485.3,561.80 L485.8,561.80 L486.3,561.80 L486.8,561.80 L487.3,561.80 L487.8,561.80 L488.3,561.80 L488.8,561.80 L489.3,561.80 L489.8,561.80 L490.3,561.80 L490.8,561.80 L491.3,561.80 L491.8,561.80 L492.3,561.80 L492.8,561.80 L493.3,561.80 L493.8,561.80 L494.3,561.80 L494.8,561.80 L495.3,561.80 L495.8,561.80 L496.3,561.80 L496.8,561.80 L497.3,561.80 L497.8,561.80 L498.3,561.80 L498.8,561.80 L499.3,561.80 L499.8,561.80 L500.3,561.80 L500.8,561.80 L501.3,561.80 L501.8,561.80 L502.3,561.80 L502.8,561.80 L503.3,561.80 L503.8,561.80 L504.3,561.80 L504.8,561.80 L505.3,561.80 L505.8,561.80 L506.3,561.80 L506.8,561.80 L507.3,561.80 L507.8,561.80 L508.3,561.80 L508.8,561.80 L509.3,561.80 L509.8,561.80 L510.3,561.80 L510.8,561.80 L511.3,561.80 L511.8,561.80 L512.3,561.80 L512.8,561.80 L513.3,561.80 L513.8,561.80 L514.3,561.80 L514.8,561.80 L515.3,561.80 L515.8,561.80 L516.3,561.80 L516.8,561.80 L517.3,561.80 L517.8,561.80 L518.3,561.80 L518.8,561.80 L519.3,561.80 L519.8,561.80 L520.3,561.80 L520.8,561.80 L521.3,561.80 L521.8,561.80 L522.3,561.80 L522.8,561.80 L523.3,561.80 L523.8,561.80 L524.3,561.80 L524.8,561.80 L525.3,561.80 L525.8,561.80 L526.3,561.80 L526.8,561.80 L527.3,561.80 L527.8,561.80 L528.3,561.80 L528.8,561.80 L529.3,561.80 L529.8,561.80 L530.3,561.80 L530.8,561.80 L531.3,561.80 L531.8,561.80 L532.3,561.80 L532.8,561.80 L533.3,561.80 L533.8,561.80 L534.3,561.80 L534.8,561.80 L535.3,561.80 L535.8,561.80 L536.3,561.80 L536.8,561.80 L537.3,561.80 L537.8,561.80 L538.3,561.80 L538.8,561.80 L539.3,561.80 L539.8,561.80 L540.3,561.80 L540.8,561.80 L541.3,561.80 L541.8,561.80 L542.3,561.80 L542.8,561.80 L543.3,561.80 L543.8,561.80 L544.3,561.80 L544.8,561.80 L545.3,561.80 L545.8,561.80 L546.3,561.80 L546.8,561.80 L547.3,561.80 L547.8,561.80 L548.3,561.80 L548.8,561.80 L549.3,561.80 L549.8,561.80 L550.3,561.80 L550.8,561.80 L551.3,561.80 L551.8,561.80 L552.3,561.80 L552.8,561.80 L553.3,561.80 L553.8,561.80 L554.3,561.80 L554.8,561.80 L555.3,561.80 L555.8,561.80 L556.3,561.80 L556.8,561.80 L557.3,561.80 L557.8,561.80 L558.3,561.80 L558.8,561.80 L559.3,561.80 L559.8,561.80 L560.3,561.80 L560.8,561.80 L561.3,561.80 L561.8,561.80 L562.3,561.80 L562.8,561.80 L563.3,561.80 L563.8,561.80 L564.3,561.80 L564.8,561.80 L565.3,561.80 L565.8,561.30 L566.3,560.72 L566.8,560.04 L567.3,559.26 L567.8,558.37 L568.3,557.36 L568.8,556.23 L569.3,554.96 L569.8,553.56 L570.3,552.03 L570.8,550.35 L571.3,548.55 L571.8,546.62 L572.3,544.58 L572.8,542.43 L573.3,540.20 L573.8,537.91 L574.3,535.58 L574.8,533.24 L575.3,530.92 L575.8,528.65 L576.3,526.46 L576.8,524.38 L577.3,522.46 L577.8,520.72 L578.3,519.18 L578.8,517.89 L579.3,516.86 L579.8,516.11 L580.3,515.65 L580.8,515.50 L581.3,515.65 L581.8,516.11 L582.3,516.86 L582.8,517.89 L583.3,519.18 L583.8,520.72 L584.3,522.46 L584.8,524.38 L585.3,526.46 L585.8,528.65 L586.3,530.92 L586.8,533.24 L587.3,535.58 L587.8,537.91 L588.3,540.20 L588.8,542.43 L589.3,544.58 L589.8,546.62 L590.3,548.55 L590.8,550.35 L591.3,552.03 L591.8,553.56 L592.3,554.96 L592.8,556.23 L593.3,557.36 L593.8,558.37 L594.3,559.26 L594.8,560.04 L595.3,560.72 L595.8,561.30 L596.3,561.80 L596.8,561.80 L597.3,561.80 L597.8,561.80 L598.3,561.80 L598.8,561.80 L599.3,561.80 L599.8,561.80 L600.3,561.80 L600.8,561.80 L601.3,561.80 L601.8,561.80 L602.3,561.80 L602.8,561.80 L603.3,561.80 L603.8,561.80 L604.3,561.80 L604.8,561.80 L605.3,561.80 L605.8,561.80 L606.3,561.80 L606.8,561.80 L607.3,561.80 L607.8,561.80 L608.3,561.80 L608.8,561.80 L609.3,561.80 L609.8,561.80 L610.3,561.80 L610.8,561.80 L611.3,561.80 L611.8,561.80 L612.3,561.80 L612.8,561.80 L613.3,561.80 L613.8,561.80 L614.3,561.80 L614.8,561.80 L615.3,561.80 L615.8,561.80 L616.3,561.80 L616.8,561.80 L617.3,561.80 L617.8,561.80 L618.3,561.80 L618.8,561.80 L619.3,561.80 L619.8,561.80 L620.3,561.80 L620.8,561.80 L621.3,561.80 L621.8,561.80 L622.3,561.80 L622.8,561.80 L623.3,561.80 L623.8,561.80 L624.3,561.37 L624.8,560.54 L625.3,559.59 L625.8,558.48 L626.3,557.22 L626.8,555.78 L627.3,554.16 L627.8,552.35 L628.3,550.33 L628.8,548.11 L629.3,545.69 L629.8,543.07 L630.3,540.26 L630.8,537.26 L631.3,534.11 L631.8,530.82 L632.3,527.43 L632.8,523.96 L633.3,520.46 L633.8,516.96 L634.3,513.53 L634.8,510.19 L635.3,507.01 L635.8,504.04 L636.3,501.31 L636.8,498.89 L637.3,496.81 L637.8,495.10 L638.3,493.81 L638.8,492.95 L639.3,492.54 L639.8,492.58 L640.3,493.08 L640.8,494.03 L641.3,495.41 L641.8,497.20 L642.3,499.35 L642.8,501.84 L643.3,504.61 L643.8,507.63 L644.3,510.85 L644.8,514.21 L645.3,517.66 L645.8,521.16 L646.3,524.66 L646.8,528.11 L647.3,531.49 L647.8,534.75 L648.3,537.88 L648.8,540.83 L649.3,543.61 L649.8,546.19 L650.3,548.57 L650.8,550.75 L651.3,552.73 L651.8,554.50 L652.3,556.09 L652.8,557.49 L653.3,558.72 L653.6,561.8 L385.3,561.8 Z" fill="#e6eaf9" fill-opacity="0.85" stroke="none"/>
<path d="M385.3,561.80 L385.8,561.80 L386.3,561.80 L386.8,561.80 L387.3,561.80 L387.8,561.80 L388.3,561.80 L388.8,561.80 L389.3,561.80 L389.8,561.80 L390.3,561.80 L390.8,561.80 L391.3,561.80 L391.8,561.80 L392.3,561.80 L392.8,561.80 L393.3,561.80 L393.8,561.80 L394.3,561.80 L394.8,561.80 L395.3,561.80 L395.8,561.80 L396.3,561.80 L396.8,561.80 L397.3,561.80 L397.8,561.80 L398.3,561.80 L398.8,561.80 L399.3,561.80 L399.8,561.80 L400.3,561.80 L400.8,561.80 L401.3,561.80 L401.8,561.80 L402.3,561.80 L402.8,561.80 L403.3,561.80 L403.8,561.80 L404.3,561.80 L404.8,561.80 L405.3,561.80 L405.8,561.80 L406.3,561.80 L406.8,561.80 L407.3,561.80 L407.8,561.80 L408.3,561.80 L408.8,561.80 L409.3,561.80 L409.8,561.80 L410.3,561.80 L410.8,561.80 L411.3,561.80 L411.8,561.80 L412.3,561.80 L412.8,561.80 L413.3,561.80 L413.8,561.80 L414.3,561.80 L414.8,561.80 L415.3,561.80 L415.8,561.80 L416.3,561.80 L416.8,561.80 L417.3,561.80 L417.8,561.80 L418.3,561.80 L418.8,561.80 L419.3,561.80 L419.8,561.80 L420.3,561.80 L420.8,561.80 L421.3,561.80 L421.8,561.80 L422.3,561.74 L422.8,561.63 L423.3,561.50 L423.8,561.36 L424.3,561.20 L424.8,561.01 L425.3,560.81 L425.8,560.58 L426.3,560.34 L426.8,560.06 L427.3,559.77 L427.8,559.44 L428.3,559.10 L428.8,558.73 L429.3,558.34 L429.8,557.92 L430.3,557.49 L430.8,557.04 L431.3,556.57 L431.8,556.09 L432.3,555.61 L432.8,555.12 L433.3,554.63 L433.8,554.15 L434.3,553.68 L434.8,553.23 L435.3,552.80 L435.8,552.39 L436.3,552.01 L436.8,551.67 L437.3,551.38 L437.8,551.12 L438.3,550.91 L438.8,550.76 L439.3,550.65 L439.8,550.60 L440.3,550.61 L440.8,550.67 L441.3,550.78 L441.8,550.95 L442.3,551.17 L442.8,551.43 L443.3,551.74 L443.8,552.09 L444.3,552.47 L444.8,552.88 L445.3,553.32 L445.8,553.78 L446.3,554.25 L446.8,554.73 L447.3,555.22 L447.8,555.71 L448.3,556.19 L448.8,556.66 L449.3,557.13 L449.8,557.58 L450.3,558.01 L450.8,558.42 L451.3,558.80 L451.8,559.17 L452.3,559.51 L452.8,559.83 L453.3,560.12 L453.8,560.39 L454.3,560.63 L454.8,560.85 L455.3,561.05 L455.8,561.23 L456.3,561.39 L456.8,561.53 L457.3,561.65 L457.8,561.76 L458.3,561.80 L458.8,561.80 L459.3,561.80 L459.8,561.80 L460.3,561.80 L460.8,561.80 L461.3,561.80 L461.8,561.80 L462.3,561.80 L462.8,561.80 L463.3,561.80 L463.8,561.80 L464.3,561.80 L464.8,561.80 L465.3,561.80 L465.8,561.80 L466.3,561.80 L466.8,561.80 L467.3,561.80 L467.8,561.80 L468.3,561.80 L468.8,561.80 L469.3,561.80 L469.8,561.80 L470.3,561.80 L470.8,561.80 L471.3,561.80 L471.8,561.80 L472.3,561.80 L472.8,561.80 L473.3,561.80 L473.8,561.80 L474.3,561.80 L474.8,561.80 L475.3,561.80 L475.8,561.80 L476.3,561.80 L476.8,561.80 L477.3,561.80 L477.8,561.80 L478.3,561.80 L478.8,561.80 L479.3,561.80 L479.8,561.80 L480.3,561.80 L480.8,561.80 L481.3,561.80 L481.8,561.80 L482.3,561.80 L482.8,561.80 L483.3,561.80 L483.8,561.80 L484.3,561.80 L484.8,561.80 L485.3,561.80 L485.8,561.80 L486.3,561.80 L486.8,561.80 L487.3,561.80 L487.8,561.80 L488.3,561.80 L488.8,561.80 L489.3,561.80 L489.8,561.80 L490.3,561.80 L490.8,561.80 L491.3,561.80 L491.8,561.80 L492.3,561.80 L492.8,561.80 L493.3,561.80 L493.8,561.80 L494.3,561.80 L494.8,561.80 L495.3,561.80 L495.8,561.80 L496.3,561.80 L496.8,561.80 L497.3,561.80 L497.8,561.80 L498.3,561.80 L498.8,561.80 L499.3,561.80 L499.8,561.80 L500.3,561.80 L500.8,561.80 L501.3,561.80 L501.8,561.80 L502.3,561.80 L502.8,561.80 L503.3,561.80 L503.8,561.80 L504.3,561.80 L504.8,561.80 L505.3,561.80 L505.8,561.80 L506.3,561.80 L506.8,561.80 L507.3,561.80 L507.8,561.80 L508.3,561.80 L508.8,561.80 L509.3,561.80 L509.8,561.80 L510.3,561.80 L510.8,561.80 L511.3,561.80 L511.8,561.80 L512.3,561.80 L512.8,561.80 L513.3,561.80 L513.8,561.80 L514.3,561.80 L514.8,561.80 L515.3,561.80 L515.8,561.80 L516.3,561.80 L516.8,561.80 L517.3,561.80 L517.8,561.80 L518.3,561.80 L518.8,561.80 L519.3,561.80 L519.8,561.80 L520.3,561.80 L520.8,561.80 L521.3,561.80 L521.8,561.80 L522.3,561.80 L522.8,561.80 L523.3,561.80 L523.8,561.80 L524.3,561.80 L524.8,561.80 L525.3,561.80 L525.8,561.80 L526.3,561.80 L526.8,561.80 L527.3,561.80 L527.8,561.80 L528.3,561.80 L528.8,561.80 L529.3,561.80 L529.8,561.80 L530.3,561.80 L530.8,561.80 L531.3,561.80 L531.8,561.80 L532.3,561.80 L532.8,561.79 L533.3,561.79 L533.8,561.78 L534.3,561.77 L534.8,561.77 L535.3,561.76 L535.8,561.75 L536.3,561.74 L536.8,561.73 L537.3,561.71 L537.8,561.70 L538.3,561.69 L538.8,561.67 L539.3,561.66 L539.8,561.64 L540.3,561.62 L540.8,561.61 L541.3,561.59 L541.8,561.57 L542.3,561.55 L542.8,561.52 L543.3,561.50 L543.8,561.48 L544.3,561.45 L544.8,561.43 L545.3,561.40 L545.8,561.38 L546.3,561.35 L546.8,561.32 L547.3,561.30 L547.8,561.27 L548.3,561.24 L548.8,561.21 L549.3,561.18 L549.8,561.15 L550.3,561.13 L550.8,561.10 L551.3,561.07 L551.8,561.05 L552.3,561.02 L552.8,560.99 L553.3,560.97 L553.8,560.95 L554.3,560.93 L554.8,560.91 L555.3,560.89 L555.8,560.87 L556.3,560.86 L556.8,560.84 L557.3,560.83 L557.8,560.82 L558.3,560.81 L558.8,560.81 L559.3,560.80 L559.8,560.80 L560.3,560.80 L560.8,560.80 L561.3,560.81 L561.8,560.81 L562.3,560.82 L562.8,560.83 L563.3,560.84 L563.8,560.86 L564.3,560.87 L564.8,560.89 L565.3,560.91 L565.8,560.93 L566.3,560.95 L566.8,560.98 L567.3,561.00 L567.8,561.02 L568.3,561.05 L568.8,561.08 L569.3,561.10 L569.8,561.13 L570.3,561.16 L570.8,561.19 L571.3,561.22 L571.8,561.24 L572.3,561.27 L572.8,561.30 L573.3,561.33 L573.8,561.36 L574.3,561.38 L574.8,561.41 L575.3,561.43 L575.8,561.46 L576.3,561.48 L576.8,561.51 L577.3,561.53 L577.8,561.55 L578.3,561.57 L578.8,561.59 L579.3,561.61 L579.8,561.63 L580.3,561.64 L580.8,561.66 L581.3,561.68 L581.8,561.69 L582.3,561.70 L582.8,561.72 L583.3,561.73 L583.8,561.74 L584.3,561.75 L584.8,561.76 L585.3,561.77 L585.8,561.78 L586.3,561.78 L586.8,561.79 L587.3,561.80 L587.8,561.80 L588.3,561.80 L588.8,561.80 L589.3,561.80 L589.8,561.80 L590.3,561.80 L590.8,561.80 L591.3,561.80 L591.8,561.80 L592.3,561.80 L592.8,561.80 L593.3,561.80 L593.8,561.80 L594.3,561.80 L594.8,561.80 L595.3,561.80 L595.8,561.80 L596.3,561.80 L596.8,561.80 L597.3,561.80 L597.8,561.80 L598.3,561.80 L598.8,561.80 L599.3,561.80 L599.8,561.80 L600.3,561.80 L600.8,561.80 L601.3,561.80 L601.8,561.80 L602.3,561.80 L602.8,561.80 L603.3,561.80 L603.8,561.80 L604.3,561.80 L604.8,561.80 L605.3,561.80 L605.8,561.80 L606.3,561.80 L606.8,561.80 L607.3,561.80 L607.8,561.80 L608.3,561.80 L608.8,561.80 L609.3,561.80 L609.8,561.80 L610.3,561.80 L610.8,561.80 L611.3,561.80 L611.8,561.80 L612.3,561.80 L612.8,561.80 L613.3,561.80 L613.8,561.80 L614.3,561.80 L614.8,561.80 L615.3,561.80 L615.8,561.80 L616.3,561.80 L616.8,561.80 L617.3,561.80 L617.8,561.80 L618.3,561.80 L618.8,561.80 L619.3,561.80 L619.8,561.80 L620.3,561.80 L620.8,561.80 L621.3,561.80 L621.8,561.80 L622.3,561.80 L622.8,561.80 L623.3,561.80 L623.8,561.80 L624.3,561.80 L624.8,561.80 L625.3,561.80 L625.8,561.80 L626.3,561.80 L626.8,561.80 L627.3,561.80 L627.8,561.80 L628.3,561.80 L628.8,561.80 L629.3,561.80 L629.8,561.80 L630.3,561.80 L630.8,561.80 L631.3,561.80 L631.8,561.80 L632.3,561.80 L632.8,561.80 L633.3,561.80 L633.8,561.80 L634.3,561.80 L634.8,561.80 L635.3,561.80 L635.8,561.80 L636.3,561.80 L636.8,561.80 L637.3,561.80 L637.8,561.80 L638.3,561.80 L638.8,561.80 L639.3,561.80 L639.8,561.80 L640.3,561.80 L640.8,561.80 L641.3,561.80 L641.8,561.80 L642.3,561.80 L642.8,561.80 L643.3,561.80 L643.8,561.80 L644.3,561.80 L644.8,561.80 L645.3,561.80 L645.8,561.80 L646.3,561.80 L646.8,561.80 L647.3,561.80 L647.8,561.80 L648.3,561.80 L648.8,561.80 L649.3,561.80 L649.8,561.80 L650.3,561.80 L650.8,561.80 L651.3,561.80 L651.8,561.80 L652.3,561.80 L652.8,561.80 L653.3,561.80 L653.6,561.8 L385.3,561.8 Z" fill="#e0f4e0" fill-opacity="0.85" stroke="none"/>
<path d="M385.3,561.53 L385.8,561.52 L386.3,561.51 L386.8,561.50 L387.3,561.49 L387.8,561.47 L388.3,561.46 L388.8,561.45 L389.3,561.44 L389.8,561.42 L390.3,561.41 L390.8,561.40 L391.3,561.39 L391.8,561.37 L392.3,561.36 L392.8,561.34 L393.3,561.33 L393.8,561.32 L394.3,561.30 L394.8,561.29 L395.3,561.28 L395.8,561.26 L396.3,561.25 L396.8,561.23 L397.3,561.22 L397.8,561.21 L398.3,561.19 L398.8,561.18 L399.3,561.16 L399.8,561.15 L400.3,561.13 L400.8,561.12 L401.3,561.11 L401.8,561.09 L402.3,561.08 L402.8,561.07 L403.3,561.05 L403.8,561.04 L404.3,561.03 L404.8,561.01 L405.3,561.00 L405.8,560.99 L406.3,560.98 L406.8,560.97 L407.3,560.95 L407.8,560.94 L408.3,560.93 L408.8,560.92 L409.3,560.91 L409.8,560.90 L410.3,560.89 L410.8,560.88 L411.3,560.88 L411.8,560.87 L412.3,560.86 L412.8,560.85 L413.3,560.85 L413.8,560.84 L414.3,560.83 L414.8,560.83 L415.3,560.82 L415.8,560.82 L416.3,560.81 L416.8,560.81 L417.3,560.81 L417.8,560.81 L418.3,560.80 L418.8,560.80 L419.3,560.80 L419.8,560.80 L420.3,560.80 L420.8,560.80 L421.3,560.80 L421.8,560.80 L422.3,560.81 L422.8,560.81 L423.3,560.81 L423.8,560.81 L424.3,560.82 L424.8,560.82 L425.3,560.83 L425.8,560.83 L426.3,560.84 L426.8,560.85 L427.3,560.85 L427.8,560.86 L428.3,560.87 L428.8,560.88 L429.3,560.89 L429.8,560.90 L430.3,560.90 L430.8,560.91 L431.3,560.92 L431.8,560.94 L432.3,560.95 L432.8,560.96 L433.3,560.97 L433.8,560.98 L434.3,560.99 L434.8,561.00 L435.3,561.02 L435.8,561.03 L436.3,561.04 L436.8,561.06 L437.3,561.07 L437.8,561.08 L438.3,561.10 L438.8,561.11 L439.3,561.12 L439.8,561.14 L440.3,561.15 L440.8,561.17 L441.3,561.18 L441.8,561.19 L442.3,561.21 L442.8,561.22 L443.3,561.24 L443.8,561.24 L444.3,561.24 L444.8,561.25 L445.3,561.25 L445.8,561.25 L446.3,561.26 L446.8,561.26 L447.3,561.26 L447.8,561.25 L448.3,561.25 L448.8,561.25 L449.3,561.25 L449.8,561.24 L450.3,561.23 L450.8,561.23 L451.3,561.22 L451.8,561.21 L452.3,561.20 L452.8,561.19 L453.3,561.17 L453.8,561.16 L454.3,561.14 L454.8,561.12 L455.3,561.11 L455.8,561.09 L456.3,561.07 L456.8,561.04 L457.3,561.02 L457.8,561.00 L458.3,560.97 L458.8,560.94 L459.3,560.92 L459.8,560.89 L460.3,560.86 L460.8,560.83 L461.3,560.79 L461.8,560.76 L462.3,560.73 L462.8,560.69 L463.3,560.66 L463.8,560.62 L464.3,560.58 L464.8,560.54 L465.3,560.51 L465.8,560.47 L466.3,560.43 L466.8,560.39 L467.3,560.35 L467.8,560.31 L468.3,560.27 L468.8,560.24 L469.3,560.20 L469.8,560.16 L470.3,560.12 L470.8,560.09 L471.3,560.05 L471.8,560.01 L472.3,559.98 L472.8,559.95 L473.3,559.91 L473.8,559.88 L474.3,559.85 L474.8,559.83 L475.3,559.80 L475.8,559.77 L476.3,559.75 L476.8,559.72 L477.3,559.70 L477.8,559.68 L478.3,559.66 L478.8,559.65 L479.3,559.63 L479.8,559.62 L480.3,559.61 L480.8,559.61 L481.3,559.60 L481.8,559.60 L482.3,559.60 L482.8,559.60 L483.3,559.61 L483.8,559.57 L484.3,559.50 L484.8,559.43 L485.3,559.34 L485.8,559.23 L486.3,559.11 L486.8,558.97 L487.3,558.82 L487.8,558.64 L488.3,558.45 L488.8,558.24 L489.3,558.01 L489.8,557.77 L490.3,557.52 L490.8,557.25 L491.3,556.98 L491.8,556.70 L492.3,556.43 L492.8,556.17 L493.3,555.92 L493.8,555.68 L494.3,555.47 L494.8,555.29 L495.3,555.15 L495.8,555.04 L496.3,554.97 L496.8,554.95 L497.3,554.97 L497.8,555.04 L498.3,555.15 L498.8,555.31 L499.3,555.50 L499.8,555.73 L500.3,556.00 L500.8,556.30 L501.3,556.61 L501.8,556.95 L502.3,557.29 L502.8,557.64 L503.3,557.99 L503.8,558.34 L504.3,558.68 L504.8,559.01 L505.3,559.32 L505.8,559.61 L506.3,559.88 L506.8,560.13 L507.3,560.37 L507.8,560.58 L508.3,560.76 L508.8,560.93 L509.3,560.82 L509.8,560.57 L510.3,560.25 L510.8,559.84 L511.3,559.32 L511.8,558.69 L512.3,557.97 L512.8,557.15 L513.3,556.25 L513.8,555.26 L514.3,554.17 L514.8,553.00 L515.3,551.73 L515.8,550.39 L516.3,548.98 L516.8,547.51 L517.3,545.99 L517.8,544.44 L518.3,542.88 L518.8,541.33 L519.3,539.80 L519.8,538.33 L520.3,536.93 L520.8,535.62 L521.3,534.43 L521.8,533.37 L522.3,532.47 L522.8,531.74 L523.3,531.19 L523.8,530.85 L524.3,530.70 L524.8,530.77 L525.3,531.03 L525.8,531.50 L526.3,532.15 L526.8,532.99 L527.3,533.99 L527.8,535.13 L528.3,536.40 L528.8,537.77 L529.3,539.23 L529.8,540.75 L530.3,542.30 L530.8,543.88 L531.3,545.44 L531.8,546.99 L532.3,548.49 L532.8,549.95 L533.3,551.33 L533.8,552.65 L534.3,553.88 L534.8,555.02 L535.3,556.07 L535.8,557.03 L536.3,557.89 L536.8,558.67 L537.3,559.37 L537.8,559.98 L538.3,560.52 L538.8,560.99 L539.3,561.39 L539.8,561.74 L540.3,561.80 L540.8,561.80 L541.3,561.80 L541.8,561.80 L542.3,561.80 L542.8,561.80 L543.3,561.80 L543.8,561.80 L544.3,561.80 L544.8,561.80 L545.3,561.80 L545.8,561.80 L546.3,561.80 L546.8,561.80 L547.3,561.80 L547.8,561.80 L548.3,561.80 L548.8,561.80 L549.3,561.80 L549.8,561.80 L550.3,561.80 L550.8,561.80 L551.3,561.80 L551.8,561.80 L552.3,561.80 L552.8,561.80 L553.3,561.80 L553.8,561.80 L554.3,561.80 L554.8,561.80 L555.3,561.80 L555.8,561.80 L556.3,561.80 L556.8,561.80 L557.3,561.80 L557.8,561.80 L558.3,561.80 L558.8,561.80 L559.3,561.80 L559.8,561.80 L560.3,561.80 L560.8,561.80 L561.3,561.80 L561.8,561.80 L562.3,561.80 L562.8,561.80 L563.3,561.80 L563.8,561.80 L564.3,561.80 L564.8,561.80 L565.3,561.80 L565.8,561.80 L566.3,561.80 L566.8,561.80 L567.3,561.80 L567.8,561.80 L568.3,561.80 L568.8,561.80 L569.3,561.80 L569.8,561.80 L570.3,561.80 L570.8,561.80 L571.3,561.80 L571.8,561.80 L572.3,561.80 L572.8,561.80 L573.3,561.80 L573.8,561.80 L574.3,561.80 L574.8,561.80 L575.3,561.80 L575.8,561.80 L576.3,561.80 L576.8,561.80 L577.3,561.80 L577.8,561.80 L578.3,561.80 L578.8,561.80 L579.3,561.80 L579.8,561.80 L580.3,561.80 L580.8,561.80 L581.3,561.80 L581.8,561.80 L582.3,561.80 L582.8,561.80 L583.3,561.80 L583.8,561.80 L584.3,561.80 L584.8,561.80 L585.3,561.80 L585.8,561.80 L586.3,561.80 L586.8,561.80 L587.3,561.80 L587.8,561.80 L588.3,561.80 L588.8,561.80 L589.3,561.80 L589.8,561.80 L590.3,561.80 L590.8,561.80 L591.3,561.80 L591.8,561.80 L592.3,561.80 L592.8,561.80 L593.3,561.80 L593.8,561.80 L594.3,561.80 L594.8,561.80 L595.3,561.80 L595.8,561.80 L596.3,561.80 L596.8,561.68 L597.3,561.00 L597.8,560.21 L598.3,559.30 L598.8,558.26 L599.3,557.06 L599.8,555.71 L600.3,554.19 L600.8,552.50 L601.3,550.63 L601.8,548.58 L602.3,546.36 L602.8,543.96 L603.3,541.41 L603.8,538.70 L604.3,535.87 L604.8,532.94 L605.3,529.93 L605.8,526.87 L606.3,523.81 L606.8,520.78 L607.3,517.82 L607.8,514.98 L608.3,512.31 L608.8,509.83 L609.3,507.60 L609.8,505.66 L610.3,504.03 L610.8,502.75 L611.3,501.85 L611.8,501.33 L612.3,501.21 L612.8,501.49 L613.3,502.16 L613.8,503.22 L614.3,504.64 L614.8,506.40 L615.3,508.46 L615.8,510.79 L616.3,513.35 L616.8,516.10 L617.3,518.99 L617.8,521.99 L618.3,525.03 L618.8,528.10 L619.3,531.14 L619.8,534.12 L620.3,537.02 L620.8,539.80 L621.3,542.45 L621.8,544.94 L622.3,547.27 L622.8,549.42 L623.3,551.40 L623.8,553.20 L624.3,554.82 L624.8,556.27 L625.3,557.56 L625.8,558.69 L626.3,559.68 L626.8,560.54 L627.3,561.29 L627.8,561.80 L628.3,561.80 L628.8,561.80 L629.3,561.80 L629.8,561.80 L630.3,561.80 L630.8,561.80 L631.3,561.80 L631.8,561.80 L632.3,561.80 L632.8,561.80 L633.3,561.80 L633.8,561.80 L634.3,561.80 L634.8,561.80 L635.3,561.80 L635.8,561.80 L636.3,561.80 L636.8,561.80 L637.3,561.80 L637.8,561.80 L638.3,561.80 L638.8,561.80 L639.3,561.80 L639.8,561.80 L640.3,561.80 L640.8,561.80 L641.3,561.80 L641.8,561.80 L642.3,561.80 L642.8,561.80 L643.3,561.80 L643.8,561.80 L644.3,561.80 L644.8,561.80 L645.3,561.80 L645.8,561.80 L646.3,561.80 L646.8,561.80 L647.3,561.80 L647.8,561.80 L648.3,561.80 L648.8,561.80 L649.3,561.80 L649.8,561.80 L650.3,561.80 L650.8,561.80 L651.3,561.80 L651.8,561.80 L652.3,561.80 L652.8,561.80 L653.3,561.80 L653.6,561.8 L385.3,561.8 Z" fill="#fbe1e1" fill-opacity="0.85" stroke="none"/>
<path d="M385.3,562.50 L385.8,562.50 L386.3,562.50 L386.8,562.50 L387.3,562.50 L387.8,562.50 L388.3,562.50 L388.8,562.50 L389.3,562.50 L389.8,562.50 L390.3,562.50 L390.8,562.47 L391.3,562.39 L391.8,562.30 L392.3,562.19 L392.8,562.06 L393.3,561.92 L393.8,561.75 L394.3,561.55 L394.8,561.34 L395.3,561.10 L395.8,560.84 L396.3,560.57 L396.8,560.27 L397.3,559.97 L397.8,559.65 L398.3,559.34 L398.8,559.03 L399.3,558.73 L399.8,558.45 L400.3,558.20 L400.8,557.97 L401.3,557.79 L401.8,557.65 L402.3,557.55 L402.8,557.50 L403.3,557.51 L403.8,557.57 L404.3,557.67 L404.8,557.82 L405.3,558.02 L405.8,558.25 L406.3,558.51 L406.8,558.79 L407.3,559.09 L407.8,559.40 L408.3,559.72 L408.8,560.03 L409.3,560.33 L409.8,560.62 L410.3,560.90 L410.8,561.15 L411.3,561.38 L411.8,561.59 L412.3,561.78 L412.8,561.95 L413.3,562.09 L413.8,562.21 L414.3,562.32 L414.8,562.41 L415.3,561.92 L415.8,561.28 L416.3,560.52 L416.8,559.64 L417.3,558.64 L417.8,557.51 L418.3,556.23 L418.8,554.81 L419.3,553.23 L419.8,551.50 L420.3,549.62 L420.8,547.59 L421.3,545.42 L421.8,543.12 L422.3,540.71 L422.8,538.20 L423.3,535.62 L423.8,533.00 L424.3,530.36 L424.8,527.75 L425.3,525.19 L425.8,522.73 L426.3,520.40 L426.8,518.23 L427.3,516.27 L427.8,514.55 L428.3,513.09 L428.8,511.93 L429.3,511.09 L429.8,510.57 L430.3,510.40 L430.8,510.57 L431.3,511.09 L431.8,511.93 L432.3,513.09 L432.8,514.55 L433.3,516.27 L433.8,518.23 L434.3,520.40 L434.8,522.73 L435.3,525.19 L435.8,527.75 L436.3,530.36 L436.8,533.00 L437.3,535.62 L437.8,538.20 L438.3,540.71 L438.8,543.12 L439.3,545.42 L439.8,547.59 L440.3,549.62 L440.8,551.50 L441.3,553.23 L441.8,554.81 L442.3,556.23 L442.8,557.51 L443.3,558.64 L443.8,559.64 L444.3,560.52 L444.8,561.28 L445.3,561.94 L445.8,562.50 L446.3,562.50 L446.8,562.50 L447.3,562.50 L447.8,562.50 L448.3,562.50 L448.8,562.50 L449.3,562.50 L449.8,562.47 L450.3,562.39 L450.8,562.30 L451.3,562.19 L451.8,562.06 L452.3,561.92 L452.8,561.75 L453.3,561.55 L453.8,561.34 L454.3,561.10 L454.8,560.84 L455.3,560.57 L455.8,560.27 L456.3,559.97 L456.8,559.65 L457.3,559.34 L457.8,559.03 L458.3,558.73 L458.8,558.45 L459.3,558.20 L459.8,557.97 L460.3,557.79 L460.8,557.65 L461.3,557.55 L461.8,557.50 L462.3,557.51 L462.8,557.57 L463.3,557.67 L463.8,557.82 L464.3,558.02 L464.8,558.25 L465.3,558.51 L465.8,558.79 L466.3,559.09 L466.8,559.40 L467.3,559.72 L467.8,560.03 L468.3,560.33 L468.8,560.62 L469.3,560.90 L469.8,561.15 L470.3,561.38 L470.8,561.59 L471.3,561.78 L471.8,561.95 L472.3,562.09 L472.8,562.21 L473.3,562.32 L473.8,562.41 L474.3,562.27 L474.8,561.69 L475.3,560.99 L475.8,560.18 L476.3,559.26 L476.8,558.20 L477.3,557.01 L477.8,555.68 L478.3,554.19 L478.8,552.56 L479.3,550.77 L479.8,548.82 L480.3,546.74 L480.8,544.51 L481.3,542.17 L481.8,539.71 L482.3,537.17 L482.8,534.57 L483.3,531.94 L483.8,529.31 L484.3,526.72 L484.8,524.19 L485.3,521.78 L485.8,519.51 L486.3,517.42 L486.8,515.55 L487.3,513.93 L487.8,512.59 L488.3,511.55 L488.8,510.84 L489.3,510.46 L489.8,510.43 L490.3,510.74 L490.8,511.38 L491.3,512.36 L491.8,513.64 L492.3,515.20 L492.8,517.03 L493.3,519.07 L493.8,521.31 L494.3,523.70 L494.8,526.21 L495.3,528.79 L495.8,531.42 L496.3,534.05 L496.8,536.66 L497.3,539.21 L497.8,541.68 L498.3,544.05 L498.8,546.30 L499.3,548.42 L499.8,550.39 L500.3,552.21 L500.8,553.88 L501.3,555.39 L501.8,556.76 L502.3,557.98 L502.8,559.06 L503.3,560.01 L503.8,560.84 L504.3,561.56 L504.8,562.17 L505.3,562.50 L505.8,562.50 L506.3,562.50 L506.8,562.50 L507.3,562.50 L507.8,562.50 L508.3,562.50 L508.8,562.50 L509.3,562.47 L509.8,562.41 L510.3,562.34 L510.8,562.26 L511.3,562.17 L511.8,562.05 L512.3,561.92 L512.8,561.78 L513.3,561.61 L513.8,561.43 L514.3,561.24 L514.8,561.04 L515.3,560.83 L515.8,560.61 L516.3,560.40 L516.8,560.20 L517.3,560.02 L517.8,559.86 L518.3,559.72 L518.8,559.61 L519.3,559.54 L519.8,559.50 L520.3,559.51 L520.8,559.55 L521.3,559.63 L521.8,559.74 L522.3,559.89 L522.8,560.05 L523.3,560.24 L523.8,560.45 L524.3,560.66 L524.8,560.87 L525.3,561.05 L525.8,561.20 L526.3,561.34 L526.8,561.45 L527.3,561.53 L527.8,561.58 L528.3,561.60 L528.8,561.58 L529.3,561.54 L529.8,561.47 L530.3,561.37 L530.8,561.26 L531.3,561.10 L531.8,560.93 L532.3,560.75 L532.8,560.59 L533.3,560.43 L533.8,559.12 L534.3,557.58 L534.8,555.84 L535.3,553.90 L535.8,551.72 L536.3,549.30 L536.8,546.63 L537.3,543.67 L537.8,540.43 L538.3,536.89 L538.8,533.04 L539.3,528.90 L539.8,524.45 L540.3,519.73 L540.8,514.74 L541.3,509.52 L541.8,504.10 L542.3,498.53 L542.8,492.87 L543.3,487.16 L543.8,481.49 L544.3,475.92 L544.8,470.52 L545.3,465.38 L545.8,460.56 L546.3,456.14 L546.8,452.19 L547.3,448.77 L547.8,445.93 L548.3,443.74 L548.8,442.23 L549.3,441.43 L549.8,441.36 L550.3,442.01 L550.8,443.38 L551.3,445.44 L551.8,448.15 L552.3,451.48 L552.8,455.36 L553.3,459.74 L553.8,464.55 L554.3,469.71 L554.8,475.16 L555.3,480.80 L555.8,486.58 L556.3,492.41 L556.8,498.23 L557.3,503.98 L557.8,509.60 L558.3,515.04 L558.8,520.25 L559.3,525.21 L559.8,529.88 L560.3,534.25 L560.8,538.29 L561.3,542.02 L561.8,545.42 L562.3,548.51 L562.8,551.28 L563.3,553.76 L563.8,555.96 L564.3,557.89 L564.8,559.59 L565.3,561.06 L565.8,562.33 L566.3,562.50 L566.8,562.50 L567.3,562.50 L567.8,562.50 L568.3,562.50 L568.8,562.50 L569.3,562.50 L569.8,562.50 L570.3,562.50 L570.8,562.50 L571.3,562.50 L571.8,562.50 L572.3,562.50 L572.8,562.50 L573.3,562.50 L573.8,562.50 L574.3,562.50 L574.8,562.50 L575.3,562.50 L575.8,562.50 L576.3,562.50 L576.8,562.50 L577.3,562.50 L577.8,562.50 L578.3,562.50 L578.8,562.50 L579.3,562.50 L579.8,562.50 L580.3,562.50 L580.8,562.50 L581.3,562.50 L581.8,562.50 L582.3,562.50 L582.8,562.50 L583.3,562.50 L583.8,562.50 L584.3,562.50 L584.8,562.50 L585.3,562.50 L585.8,562.50 L586.3,562.50 L586.8,562.50 L587.3,562.50 L587.8,562.50 L588.3,562.50 L588.8,562.50 L589.3,562.50 L589.8,562.50 L590.3,562.50 L590.8,562.50 L591.3,562.50 L591.8,562.50 L592.3,562.50 L592.8,562.50 L593.3,562.50 L593.8,562.50 L594.3,562.50 L594.8,562.50 L595.3,562.50 L595.8,562.50 L596.3,562.50 L596.8,562.50 L597.3,562.50 L597.8,562.50 L598.3,562.50 L598.8,562.50 L599.3,562.50 L599.8,562.46 L600.3,562.38 L600.8,562.28 L601.3,562.16 L601.8,562.02 L602.3,561.86 L602.8,561.67 L603.3,561.46 L603.8,561.22 L604.3,560.96 L604.8,560.68 L605.3,560.37 L605.8,560.05 L606.3,559.71 L606.8,559.37 L607.3,559.02 L607.8,558.68 L608.3,558.35 L608.8,558.05 L609.3,557.77 L609.8,557.52 L610.3,557.32 L610.8,557.16 L611.3,557.05 L611.8,557.00 L612.3,557.01 L612.8,557.07 L613.3,557.19 L613.8,557.35 L614.3,557.57 L614.8,557.82 L615.3,558.11 L615.8,558.42 L616.3,558.75 L616.8,559.09 L617.3,559.44 L617.8,559.78 L618.3,560.12 L618.8,560.44 L619.3,560.74 L619.8,561.02 L620.3,561.27 L620.8,561.50 L621.3,561.71 L621.8,561.89 L622.3,562.05 L622.8,562.19 L623.3,562.30 L623.8,562.40 L624.3,562.48 L624.8,562.50 L625.3,562.50 L625.8,562.50 L626.3,562.50 L626.8,562.50 L627.3,562.50 L627.8,562.50 L628.3,562.50 L628.8,562.50 L629.3,562.50 L629.8,562.50 L630.3,562.50 L630.8,562.50 L631.3,562.50 L631.8,562.50 L632.3,562.50 L632.8,562.50 L633.3,562.50 L633.8,562.50 L634.3,562.50 L634.8,562.50 L635.3,562.50 L635.8,562.50 L636.3,562.50 L636.8,562.50 L637.3,562.50 L637.8,562.50 L638.3,562.50 L638.8,562.50 L639.3,562.50 L639.8,562.50 L640.3,562.50 L640.8,562.50 L641.3,562.50 L641.8,562.50 L642.3,562.50 L642.8,562.50 L643.3,562.50 L643.8,562.50 L644.3,562.45 L644.8,562.38 L645.3,562.29 L645.8,562.18 L646.3,562.06 L646.8,561.90 L647.3,561.73 L647.8,561.53 L648.3,561.32 L648.8,561.08 L649.3,560.82 L649.8,560.55 L650.3,560.27 L650.8,559.98 L651.3,559.71 L651.8,559.44 L652.3,559.19 L652.8,558.97 L653.3,558.79" fill="none" stroke="#222222" stroke-width="1.35"/>
<path d="M385.3,562.10 L385.8,562.10 L386.3,561.73 L386.8,561.04 L387.3,560.24 L387.8,559.31 L388.3,558.24 L388.8,557.03 L389.3,555.66 L389.8,554.13 L390.3,552.44 L390.8,550.57 L391.3,548.53 L391.8,546.32 L392.3,543.94 L392.8,541.42 L393.3,538.77 L393.8,535.99 L394.3,533.13 L394.8,530.21 L395.3,527.26 L395.8,524.32 L396.3,521.42 L396.8,518.61 L397.3,515.93 L397.8,513.42 L398.3,511.13 L398.8,509.09 L399.3,507.33 L399.8,505.89 L400.3,504.80 L400.8,504.08 L401.3,503.73 L401.8,503.77 L402.3,504.19 L402.8,504.99 L403.3,506.15 L403.8,507.66 L404.3,509.47 L404.8,511.57 L405.3,513.91 L405.8,516.45 L406.3,519.16 L406.8,521.99 L407.3,524.90 L407.8,527.85 L408.3,530.80 L408.8,533.71 L409.3,536.56 L409.8,539.31 L410.3,541.94 L410.8,544.43 L411.3,546.77 L411.8,548.95 L412.3,550.96 L412.8,552.79 L413.3,554.45 L413.8,555.95 L414.3,557.28 L414.8,558.47 L415.3,559.50 L415.8,560.41 L416.3,561.19 L416.8,561.86 L417.3,562.10 L417.8,562.10 L418.3,562.10 L418.8,562.10 L419.3,562.10 L419.8,562.10 L420.3,562.10 L420.8,562.10 L421.3,562.10 L421.8,562.10 L422.3,562.10 L422.8,562.10 L423.3,562.10 L423.8,562.10 L424.3,562.10 L424.8,562.10 L425.3,562.10 L425.8,562.10 L426.3,562.10 L426.8,562.10 L427.3,562.10 L427.8,562.10 L428.3,562.10 L428.8,562.10 L429.3,562.10 L429.8,562.10 L430.3,562.10 L430.8,562.10 L431.3,562.10 L431.8,562.10 L432.3,562.10 L432.8,562.10 L433.3,562.10 L433.8,562.10 L434.3,562.10 L434.8,562.10 L435.3,562.10 L435.8,562.10 L436.3,562.10 L436.8,562.10 L437.3,562.10 L437.8,562.10 L438.3,562.10 L438.8,562.10 L439.3,562.10 L439.8,562.10 L440.3,562.10 L440.8,562.10 L441.3,562.10 L441.8,562.10 L442.3,562.10 L442.8,562.10 L443.3,562.10 L443.8,562.10 L444.3,562.10 L444.8,561.75 L445.3,561.25 L445.8,560.67 L446.3,560.00 L446.8,559.24 L447.3,558.37 L447.8,557.39 L448.3,556.29 L448.8,555.08 L449.3,553.75 L449.8,552.29 L450.3,550.72 L450.8,549.04 L451.3,547.25 L451.8,545.38 L452.3,543.42 L452.8,541.41 L453.3,539.35 L453.8,537.29 L454.3,535.23 L454.8,533.21 L455.3,531.26 L455.8,529.40 L456.3,527.67 L456.8,526.10 L457.3,524.71 L457.8,523.52 L458.3,522.56 L458.8,521.85 L459.3,521.39 L459.8,521.21 L460.3,521.29 L460.8,521.64 L461.3,522.25 L461.8,523.11 L462.3,524.21 L462.8,525.52 L463.3,527.03 L463.8,528.70 L464.3,530.50 L464.8,532.42 L465.3,534.41 L465.8,536.46 L466.3,538.53 L466.8,540.59 L467.3,542.62 L467.8,544.60 L468.3,546.51 L468.8,548.34 L469.3,550.06 L469.8,551.68 L470.3,553.18 L470.8,554.56 L471.3,555.82 L471.8,556.96 L472.3,557.99 L472.8,558.90 L473.3,559.71 L473.8,560.41 L474.3,561.03 L474.8,561.56 L475.3,562.02 L475.8,562.10 L476.3,562.10 L476.8,562.10 L477.3,562.10 L477.8,562.10 L478.3,562.10 L478.8,562.10 L479.3,562.10 L479.8,562.10 L480.3,562.10 L480.8,562.10 L481.3,562.10 L481.8,562.10 L482.3,562.10 L482.8,562.10 L483.3,562.10 L483.8,562.10 L484.3,562.10 L484.8,562.10 L485.3,562.10 L485.8,562.10 L486.3,562.10 L486.8,562.10 L487.3,562.10 L487.8,562.10 L488.3,562.10 L488.8,562.10 L489.3,562.10 L489.8,562.10 L490.3,562.10 L490.8,562.10 L491.3,562.10 L491.8,562.10 L492.3,562.10 L492.8,562.10 L493.3,562.10 L493.8,562.10 L494.3,562.10 L494.8,562.10 L495.3,562.10 L495.8,562.10 L496.3,562.10 L496.8,562.10 L497.3,562.10 L497.8,562.10 L498.3,562.10 L498.8,562.10 L499.3,562.10 L499.8,562.10 L500.3,562.10 L500.8,562.10 L501.3,562.10 L501.8,562.10 L502.3,562.10 L502.8,562.10 L503.3,562.10 L503.8,562.10 L504.3,562.10 L504.8,562.10 L505.3,562.10 L505.8,562.10 L506.3,562.10 L506.8,562.10 L507.3,562.10 L507.8,562.10 L508.3,562.10 L508.8,562.10 L509.3,562.10 L509.8,562.10 L510.3,562.10 L510.8,562.10 L511.3,562.10 L511.8,562.10 L512.3,562.10 L512.8,562.10 L513.3,562.10 L513.8,562.10 L514.3,562.10 L514.8,562.10 L515.3,562.10 L515.8,562.10 L516.3,562.10 L516.8,562.10 L517.3,562.10 L517.8,562.10 L518.3,562.10 L518.8,562.10 L519.3,562.10 L519.8,562.10 L520.3,562.10 L520.8,562.10 L521.3,562.10 L521.8,562.10 L522.3,562.10 L522.8,562.10 L523.3,562.10 L523.8,562.10 L524.3,562.10 L524.8,562.10 L525.3,562.10 L525.8,562.10 L526.3,562.10 L526.8,562.10 L527.3,562.10 L527.8,562.10 L528.3,562.10 L528.8,562.10 L529.3,562.10 L529.8,562.10 L530.3,562.10 L530.8,562.10 L531.3,562.10 L531.8,562.10 L532.3,562.10 L532.8,562.10 L533.3,562.10 L533.8,562.10 L534.3,562.10 L534.8,562.10 L535.3,562.10 L535.8,562.10 L536.3,562.10 L536.8,562.10 L537.3,562.10 L537.8,562.10 L538.3,562.10 L538.8,562.10 L539.3,562.10 L539.8,562.10 L540.3,562.10 L540.8,562.10 L541.3,562.10 L541.8,562.10 L542.3,562.10 L542.8,562.10 L543.3,562.10 L543.8,562.10 L544.3,562.10 L544.8,562.10 L545.3,562.10 L545.8,562.10 L546.3,562.10 L546.8,562.10 L547.3,562.10 L547.8,562.10 L548.3,562.10 L548.8,562.10 L549.3,562.10 L549.8,562.10 L550.3,562.10 L550.8,562.10 L551.3,562.10 L551.8,562.10 L552.3,562.10 L552.8,562.10 L553.3,562.10 L553.8,562.10 L554.3,562.10 L554.8,562.10 L555.3,562.10 L555.8,562.10 L556.3,562.10 L556.8,562.10 L557.3,562.10 L557.8,562.10 L558.3,562.10 L558.8,562.10 L559.3,562.10 L559.8,562.10 L560.3,562.10 L560.8,562.10 L561.3,562.10 L561.8,562.10 L562.3,562.10 L562.8,562.10 L563.3,562.10 L563.8,562.10 L564.3,562.10 L564.8,562.10 L565.3,562.10 L565.8,561.60 L566.3,561.02 L566.8,560.34 L567.3,559.56 L567.8,558.67 L568.3,557.66 L568.8,556.53 L569.3,555.26 L569.8,553.86 L570.3,552.33 L570.8,550.65 L571.3,548.85 L571.8,546.92 L572.3,544.88 L572.8,542.73 L573.3,540.50 L573.8,538.21 L574.3,535.88 L574.8,533.54 L575.3,531.22 L575.8,528.95 L576.3,526.76 L576.8,524.68 L577.3,522.76 L577.8,521.02 L578.3,519.48 L578.8,518.19 L579.3,517.16 L579.8,516.41 L580.3,515.95 L580.8,515.80 L581.3,515.95 L581.8,516.41 L582.3,517.16 L582.8,518.19 L583.3,519.48 L583.8,521.02 L584.3,522.76 L584.8,524.68 L585.3,526.76 L585.8,528.95 L586.3,531.22 L586.8,533.54 L587.3,535.88 L587.8,538.21 L588.3,540.50 L588.8,542.73 L589.3,544.88 L589.8,546.92 L590.3,548.85 L590.8,550.65 L591.3,552.33 L591.8,553.86 L592.3,555.26 L592.8,556.53 L593.3,557.66 L593.8,558.67 L594.3,559.56 L594.8,560.34 L595.3,561.02 L595.8,561.60 L596.3,562.10 L596.8,562.10 L597.3,562.10 L597.8,562.10 L598.3,562.10 L598.8,562.10 L599.3,562.10 L599.8,562.10 L600.3,562.10 L600.8,562.10 L601.3,562.10 L601.8,562.10 L602.3,562.10 L602.8,562.10 L603.3,562.10 L603.8,562.10 L604.3,562.10 L604.8,562.10 L605.3,562.10 L605.8,562.10 L606.3,562.10 L606.8,562.10 L607.3,562.10 L607.8,562.10 L608.3,562.10 L608.8,562.10 L609.3,562.10 L609.8,562.10 L610.3,562.10 L610.8,562.10 L611.3,562.10 L611.8,562.10 L612.3,562.10 L612.8,562.10 L613.3,562.10 L613.8,562.10 L614.3,562.10 L614.8,562.10 L615.3,562.10 L615.8,562.10 L616.3,562.10 L616.8,562.10 L617.3,562.10 L617.8,562.10 L618.3,562.10 L618.8,562.10 L619.3,562.10 L619.8,562.10 L620.3,562.10 L620.8,562.10 L621.3,562.10 L621.8,562.10 L622.3,562.10 L622.8,562.10 L623.3,562.10 L623.8,562.10 L624.3,561.67 L624.8,560.84 L625.3,559.89 L625.8,558.78 L626.3,557.52 L626.8,556.08 L627.3,554.46 L627.8,552.65 L628.3,550.63 L628.8,548.41 L629.3,545.99 L629.8,543.37 L630.3,540.56 L630.8,537.56 L631.3,534.41 L631.8,531.12 L632.3,527.73 L632.8,524.26 L633.3,520.76 L633.8,517.26 L634.3,513.83 L634.8,510.49 L635.3,507.31 L635.8,504.34 L636.3,501.61 L636.8,499.19 L637.3,497.11 L637.8,495.40 L638.3,494.11 L638.8,493.25 L639.3,492.84 L639.8,492.88 L640.3,493.38 L640.8,494.33 L641.3,495.71 L641.8,497.50 L642.3,499.65 L642.8,502.14 L643.3,504.91 L643.8,507.93 L644.3,511.15 L644.8,514.51 L645.3,517.96 L645.8,521.46 L646.3,524.96 L646.8,528.41 L647.3,531.79 L647.8,535.05 L648.3,538.18 L648.8,541.13 L649.3,543.91 L649.8,546.49 L650.3,548.87 L650.8,551.05 L651.3,553.03 L651.8,554.80 L652.3,556.39 L652.8,557.79 L653.3,559.02" fill="none" stroke="#4a6ae8" stroke-width="1.35"/>
<path d="M385.3,561.40 L385.8,561.40 L386.3,561.40 L386.8,561.40 L387.3,561.40 L387.8,561.40 L388.3,561.40 L388.8,561.40 L389.3,561.40 L389.8,561.40 L390.3,561.40 L390.8,561.40 L391.3,561.40 L391.8,561.40 L392.3,561.40 L392.8,561.40 L393.3,561.40 L393.8,561.40 L394.3,561.40 L394.8,561.40 L395.3,561.40 L395.8,561.40 L396.3,561.40 L396.8,561.40 L397.3,561.40 L397.8,561.40 L398.3,561.40 L398.8,561.40 L399.3,561.40 L399.8,561.40 L400.3,561.40 L400.8,561.40 L401.3,561.40 L401.8,561.40 L402.3,561.40 L402.8,561.40 L403.3,561.40 L403.8,561.40 L404.3,561.40 L404.8,561.40 L405.3,561.40 L405.8,561.40 L406.3,561.40 L406.8,561.40 L407.3,561.40 L407.8,561.40 L408.3,561.40 L408.8,561.40 L409.3,561.40 L409.8,561.40 L410.3,561.40 L410.8,561.40 L411.3,561.40 L411.8,561.40 L412.3,561.40 L412.8,561.40 L413.3,561.40 L413.8,561.40 L414.3,561.40 L414.8,561.40 L415.3,561.40 L415.8,561.40 L416.3,561.40 L416.8,561.40 L417.3,561.40 L417.8,561.40 L418.3,561.40 L418.8,561.40 L419.3,561.40 L419.8,561.40 L420.3,561.40 L420.8,561.40 L421.3,561.40 L421.8,561.40 L422.3,561.34 L422.8,561.23 L423.3,561.10 L423.8,560.96 L424.3,560.80 L424.8,560.61 L425.3,560.41 L425.8,560.18 L426.3,559.94 L426.8,559.66 L427.3,559.37 L427.8,559.04 L428.3,558.70 L428.8,558.33 L429.3,557.94 L429.8,557.52 L430.3,557.09 L430.8,556.64 L431.3,556.17 L431.8,555.69 L432.3,555.21 L432.8,554.72 L433.3,554.23 L433.8,553.75 L434.3,553.28 L434.8,552.83 L435.3,552.40 L435.8,551.99 L436.3,551.61 L436.8,551.27 L437.3,550.98 L437.8,550.72 L438.3,550.51 L438.8,550.36 L439.3,550.25 L439.8,550.20 L440.3,550.21 L440.8,550.27 L441.3,550.38 L441.8,550.55 L442.3,550.77 L442.8,551.03 L443.3,551.34 L443.8,551.69 L444.3,552.07 L444.8,552.48 L445.3,552.92 L445.8,553.38 L446.3,553.85 L446.8,554.33 L447.3,554.82 L447.8,555.31 L448.3,555.79 L448.8,556.26 L449.3,556.73 L449.8,557.18 L450.3,557.61 L450.8,558.02 L451.3,558.40 L451.8,558.77 L452.3,559.11 L452.8,559.43 L453.3,559.72 L453.8,559.99 L454.3,560.23 L454.8,560.45 L455.3,560.65 L455.8,560.83 L456.3,560.99 L456.8,561.13 L457.3,561.25 L457.8,561.36 L458.3,561.40 L458.8,561.40 L459.3,561.40 L459.8,561.40 L460.3,561.40 L460.8,561.40 L461.3,561.40 L461.8,561.40 L462.3,561.40 L462.8,561.40 L463.3,561.40 L463.8,561.40 L464.3,561.40 L464.8,561.40 L465.3,561.40 L465.8,561.40 L466.3,561.40 L466.8,561.40 L467.3,561.40 L467.8,561.40 L468.3,561.40 L468.8,561.40 L469.3,561.40 L469.8,561.40 L470.3,561.40 L470.8,561.40 L471.3,561.40 L471.8,561.40 L472.3,561.40 L472.8,561.40 L473.3,561.40 L473.8,561.40 L474.3,561.40 L474.8,561.40 L475.3,561.40 L475.8,561.40 L476.3,561.40 L476.8,561.40 L477.3,561.40 L477.8,561.40 L478.3,561.40 L478.8,561.40 L479.3,561.40 L479.8,561.40 L480.3,561.40 L480.8,561.40 L481.3,561.40 L481.8,561.40 L482.3,561.40 L482.8,561.40 L483.3,561.40 L483.8,561.40 L484.3,561.40 L484.8,561.40 L485.3,561.40 L485.8,561.40 L486.3,561.40 L486.8,561.40 L487.3,561.40 L487.8,561.40 L488.3,561.40 L488.8,561.40 L489.3,561.40 L489.8,561.40 L490.3,561.40 L490.8,561.40 L491.3,561.40 L491.8,561.40 L492.3,561.40 L492.8,561.40 L493.3,561.40 L493.8,561.40 L494.3,561.40 L494.8,561.40 L495.3,561.40 L495.8,561.40 L496.3,561.40 L496.8,561.40 L497.3,561.40 L497.8,561.40 L498.3,561.40 L498.8,561.40 L499.3,561.40 L499.8,561.40 L500.3,561.40 L500.8,561.40 L501.3,561.40 L501.8,561.40 L502.3,561.40 L502.8,561.40 L503.3,561.40 L503.8,561.40 L504.3,561.40 L504.8,561.40 L505.3,561.40 L505.8,561.40 L506.3,561.40 L506.8,561.40 L507.3,561.40 L507.8,561.40 L508.3,561.40 L508.8,561.40 L509.3,561.40 L509.8,561.40 L510.3,561.40 L510.8,561.40 L511.3,561.40 L511.8,561.40 L512.3,561.40 L512.8,561.40 L513.3,561.40 L513.8,561.40 L514.3,561.40 L514.8,561.40 L515.3,561.40 L515.8,561.40 L516.3,561.40 L516.8,561.40 L517.3,561.40 L517.8,561.40 L518.3,561.40 L518.8,561.40 L519.3,561.40 L519.8,561.40 L520.3,561.40 L520.8,561.40 L521.3,561.40 L521.8,561.40 L522.3,561.40 L522.8,561.40 L523.3,561.40 L523.8,561.40 L524.3,561.40 L524.8,561.40 L525.3,561.40 L525.8,561.40 L526.3,561.40 L526.8,561.40 L527.3,561.40 L527.8,561.40 L528.3,561.40 L528.8,561.40 L529.3,561.40 L529.8,561.40 L530.3,561.40 L530.8,561.40 L531.3,561.40 L531.8,561.40 L532.3,561.40 L532.8,561.39 L533.3,561.39 L533.8,561.38 L534.3,561.37 L534.8,561.37 L535.3,561.36 L535.8,561.35 L536.3,561.34 L536.8,561.33 L537.3,561.31 L537.8,561.30 L538.3,561.29 L538.8,561.27 L539.3,561.26 L539.8,561.24 L540.3,561.22 L540.8,561.21 L541.3,561.19 L541.8,561.17 L542.3,561.15 L542.8,561.12 L543.3,561.10 L543.8,561.08 L544.3,561.05 L544.8,561.03 L545.3,561.00 L545.8,560.98 L546.3,560.95 L546.8,560.92 L547.3,560.90 L547.8,560.87 L548.3,560.84 L548.8,560.81 L549.3,560.78 L549.8,560.75 L550.3,560.73 L550.8,560.70 L551.3,560.67 L551.8,560.65 L552.3,560.62 L552.8,560.59 L553.3,560.57 L553.8,560.55 L554.3,560.53 L554.8,560.51 L555.3,560.49 L555.8,560.47 L556.3,560.46 L556.8,560.44 L557.3,560.43 L557.8,560.42 L558.3,560.41 L558.8,560.41 L559.3,560.40 L559.8,560.40 L560.3,560.40 L560.8,560.40 L561.3,560.41 L561.8,560.41 L562.3,560.42 L562.8,560.43 L563.3,560.44 L563.8,560.46 L564.3,560.47 L564.8,560.49 L565.3,560.51 L565.8,560.53 L566.3,560.55 L566.8,560.58 L567.3,560.60 L567.8,560.62 L568.3,560.65 L568.8,560.68 L569.3,560.70 L569.8,560.73 L570.3,560.76 L570.8,560.79 L571.3,560.82 L571.8,560.84 L572.3,560.87 L572.8,560.90 L573.3,560.93 L573.8,560.96 L574.3,560.98 L574.8,561.01 L575.3,561.03 L575.8,561.06 L576.3,561.08 L576.8,561.11 L577.3,561.13 L577.8,561.15 L578.3,561.17 L578.8,561.19 L579.3,561.21 L579.8,561.23 L580.3,561.24 L580.8,561.26 L581.3,561.28 L581.8,561.29 L582.3,561.30 L582.8,561.32 L583.3,561.33 L583.8,561.34 L584.3,561.35 L584.8,561.36 L585.3,561.37 L585.8,561.38 L586.3,561.38 L586.8,561.39 L587.3,561.40 L587.8,561.40 L588.3,561.40 L588.8,561.40 L589.3,561.40 L589.8,561.40 L590.3,561.40 L590.8,561.40 L591.3,561.40 L591.8,561.40 L592.3,561.40 L592.8,561.40 L593.3,561.40 L593.8,561.40 L594.3,561.40 L594.8,561.40 L595.3,561.40 L595.8,561.40 L596.3,561.40 L596.8,561.40 L597.3,561.40 L597.8,561.40 L598.3,561.40 L598.8,561.40 L599.3,561.40 L599.8,561.40 L600.3,561.40 L600.8,561.40 L601.3,561.40 L601.8,561.40 L602.3,561.40 L602.8,561.40 L603.3,561.40 L603.8,561.40 L604.3,561.40 L604.8,561.40 L605.3,561.40 L605.8,561.40 L606.3,561.40 L606.8,561.40 L607.3,561.40 L607.8,561.40 L608.3,561.40 L608.8,561.40 L609.3,561.40 L609.8,561.40 L610.3,561.40 L610.8,561.40 L611.3,561.40 L611.8,561.40 L612.3,561.40 L612.8,561.40 L613.3,561.40 L613.8,561.40 L614.3,561.40 L614.8,561.40 L615.3,561.40 L615.8,561.40 L616.3,561.40 L616.8,561.40 L617.3,561.40 L617.8,561.40 L618.3,561.40 L618.8,561.40 L619.3,561.40 L619.8,561.40 L620.3,561.40 L620.8,561.40 L621.3,561.40 L621.8,561.40 L622.3,561.40 L622.8,561.40 L623.3,561.40 L623.8,561.40 L624.3,561.40 L624.8,561.40 L625.3,561.40 L625.8,561.40 L626.3,561.40 L626.8,561.40 L627.3,561.40 L627.8,561.40 L628.3,561.40 L628.8,561.40 L629.3,561.40 L629.8,561.40 L630.3,561.40 L630.8,561.40 L631.3,561.40 L631.8,561.40 L632.3,561.40 L632.8,561.40 L633.3,561.40 L633.8,561.40 L634.3,561.40 L634.8,561.40 L635.3,561.40 L635.8,561.40 L636.3,561.40 L636.8,561.40 L637.3,561.40 L637.8,561.40 L638.3,561.40 L638.8,561.40 L639.3,561.40 L639.8,561.40 L640.3,561.40 L640.8,561.40 L641.3,561.40 L641.8,561.40 L642.3,561.40 L642.8,561.40 L643.3,561.40 L643.8,561.40 L644.3,561.40 L644.8,561.40 L645.3,561.40 L645.8,561.40 L646.3,561.40 L646.8,561.40 L647.3,561.40 L647.8,561.40 L648.3,561.40 L648.8,561.40 L649.3,561.40 L649.8,561.40 L650.3,561.40 L650.8,561.40 L651.3,561.40 L651.8,561.40 L652.3,561.40 L652.8,561.40 L653.3,561.40" fill="none" stroke="#33bb33" stroke-width="1.35"/>
<path d="M385.3,561.63 L385.8,561.62 L386.3,561.61 L386.8,561.60 L387.3,561.59 L387.8,561.57 L388.3,561.56 L388.8,561.55 L389.3,561.54 L389.8,561.52 L390.3,561.51 L390.8,561.50 L391.3,561.49 L391.8,561.47 L392.3,561.46 L392.8,561.44 L393.3,561.43 L393.8,561.42 L394.3,561.40 L394.8,561.39 L395.3,561.38 L395.8,561.36 L396.3,561.35 L396.8,561.33 L397.3,561.32 L397.8,561.31 L398.3,561.29 L398.8,561.28 L399.3,561.26 L399.8,561.25 L400.3,561.23 L400.8,561.22 L401.3,561.21 L401.8,561.19 L402.3,561.18 L402.8,561.17 L403.3,561.15 L403.8,561.14 L404.3,561.13 L404.8,561.11 L405.3,561.10 L405.8,561.09 L406.3,561.08 L406.8,561.07 L407.3,561.05 L407.8,561.04 L408.3,561.03 L408.8,561.02 L409.3,561.01 L409.8,561.00 L410.3,560.99 L410.8,560.98 L411.3,560.98 L411.8,560.97 L412.3,560.96 L412.8,560.95 L413.3,560.95 L413.8,560.94 L414.3,560.93 L414.8,560.93 L415.3,560.92 L415.8,560.92 L416.3,560.91 L416.8,560.91 L417.3,560.91 L417.8,560.91 L418.3,560.90 L418.8,560.90 L419.3,560.90 L419.8,560.90 L420.3,560.90 L420.8,560.90 L421.3,560.90 L421.8,560.90 L422.3,560.91 L422.8,560.91 L423.3,560.91 L423.8,560.91 L424.3,560.92 L424.8,560.92 L425.3,560.93 L425.8,560.93 L426.3,560.94 L426.8,560.95 L427.3,560.95 L427.8,560.96 L428.3,560.97 L428.8,560.98 L429.3,560.99 L429.8,561.00 L430.3,561.00 L430.8,561.01 L431.3,561.02 L431.8,561.04 L432.3,561.05 L432.8,561.06 L433.3,561.07 L433.8,561.08 L434.3,561.09 L434.8,561.10 L435.3,561.12 L435.8,561.13 L436.3,561.14 L436.8,561.16 L437.3,561.17 L437.8,561.18 L438.3,561.20 L438.8,561.21 L439.3,561.22 L439.8,561.24 L440.3,561.25 L440.8,561.27 L441.3,561.28 L441.8,561.29 L442.3,561.31 L442.8,561.32 L443.3,561.34 L443.8,561.34 L444.3,561.34 L444.8,561.35 L445.3,561.35 L445.8,561.35 L446.3,561.36 L446.8,561.36 L447.3,561.36 L447.8,561.35 L448.3,561.35 L448.8,561.35 L449.3,561.35 L449.8,561.34 L450.3,561.33 L450.8,561.33 L451.3,561.32 L451.8,561.31 L452.3,561.30 L452.8,561.29 L453.3,561.27 L453.8,561.26 L454.3,561.24 L454.8,561.22 L455.3,561.21 L455.8,561.19 L456.3,561.17 L456.8,561.14 L457.3,561.12 L457.8,561.10 L458.3,561.07 L458.8,561.04 L459.3,561.02 L459.8,560.99 L460.3,560.96 L460.8,560.93 L461.3,560.89 L461.8,560.86 L462.3,560.83 L462.8,560.79 L463.3,560.76 L463.8,560.72 L464.3,560.68 L464.8,560.64 L465.3,560.61 L465.8,560.57 L466.3,560.53 L466.8,560.49 L467.3,560.45 L467.8,560.41 L468.3,560.37 L468.8,560.34 L469.3,560.30 L469.8,560.26 L470.3,560.22 L470.8,560.19 L471.3,560.15 L471.8,560.11 L472.3,560.08 L472.8,560.05 L473.3,560.01 L473.8,559.98 L474.3,559.95 L474.8,559.93 L475.3,559.90 L475.8,559.87 L476.3,559.85 L476.8,559.82 L477.3,559.80 L477.8,559.78 L478.3,559.76 L478.8,559.75 L479.3,559.73 L479.8,559.72 L480.3,559.71 L480.8,559.71 L481.3,559.70 L481.8,559.70 L482.3,559.70 L482.8,559.70 L483.3,559.71 L483.8,559.67 L484.3,559.60 L484.8,559.53 L485.3,559.44 L485.8,559.33 L486.3,559.21 L486.8,559.07 L487.3,558.92 L487.8,558.74 L488.3,558.55 L488.8,558.34 L489.3,558.11 L489.8,557.87 L490.3,557.62 L490.8,557.35 L491.3,557.08 L491.8,556.80 L492.3,556.53 L492.8,556.27 L493.3,556.02 L493.8,555.78 L494.3,555.57 L494.8,555.39 L495.3,555.25 L495.8,555.14 L496.3,555.07 L496.8,555.05 L497.3,555.07 L497.8,555.14 L498.3,555.25 L498.8,555.41 L499.3,555.60 L499.8,555.83 L500.3,556.10 L500.8,556.40 L501.3,556.71 L501.8,557.05 L502.3,557.39 L502.8,557.74 L503.3,558.09 L503.8,558.44 L504.3,558.78 L504.8,559.11 L505.3,559.42 L505.8,559.71 L506.3,559.98 L506.8,560.23 L507.3,560.47 L507.8,560.68 L508.3,560.86 L508.8,561.03 L509.3,560.92 L509.8,560.67 L510.3,560.35 L510.8,559.94 L511.3,559.42 L511.8,558.79 L512.3,558.07 L512.8,557.25 L513.3,556.35 L513.8,555.36 L514.3,554.27 L514.8,553.10 L515.3,551.83 L515.8,550.49 L516.3,549.08 L516.8,547.61 L517.3,546.09 L517.8,544.54 L518.3,542.98 L518.8,541.43 L519.3,539.90 L519.8,538.43 L520.3,537.03 L520.8,535.72 L521.3,534.53 L521.8,533.47 L522.3,532.57 L522.8,531.84 L523.3,531.29 L523.8,530.95 L524.3,530.80 L524.8,530.87 L525.3,531.13 L525.8,531.60 L526.3,532.25 L526.8,533.09 L527.3,534.09 L527.8,535.23 L528.3,536.50 L528.8,537.87 L529.3,539.33 L529.8,540.85 L530.3,542.40 L530.8,543.98 L531.3,545.54 L531.8,547.09 L532.3,548.59 L532.8,550.05 L533.3,551.43 L533.8,552.75 L534.3,553.98 L534.8,555.12 L535.3,556.17 L535.8,557.13 L536.3,557.99 L536.8,558.77 L537.3,559.47 L537.8,560.08 L538.3,560.62 L538.8,561.09 L539.3,561.49 L539.8,561.84 L540.3,561.90 L540.8,561.90 L541.3,561.90 L541.8,561.90 L542.3,561.90 L542.8,561.90 L543.3,561.90 L543.8,561.90 L544.3,561.90 L544.8,561.90 L545.3,561.90 L545.8,561.90 L546.3,561.90 L546.8,561.90 L547.3,561.90 L547.8,561.90 L548.3,561.90 L548.8,561.90 L549.3,561.90 L549.8,561.90 L550.3,561.90 L550.8,561.90 L551.3,561.90 L551.8,561.90 L552.3,561.90 L552.8,561.90 L553.3,561.90 L553.8,561.90 L554.3,561.90 L554.8,561.90 L555.3,561.90 L555.8,561.90 L556.3,561.90 L556.8,561.90 L557.3,561.90 L557.8,561.90 L558.3,561.90 L558.8,561.90 L559.3,561.90 L559.8,561.90 L560.3,561.90 L560.8,561.90 L561.3,561.90 L561.8,561.90 L562.3,561.90 L562.8,561.90 L563.3,561.90 L563.8,561.90 L564.3,561.90 L564.8,561.90 L565.3,561.90 L565.8,561.90 L566.3,561.90 L566.8,561.90 L567.3,561.90 L567.8,561.90 L568.3,561.90 L568.8,561.90 L569.3,561.90 L569.8,561.90 L570.3,561.90 L570.8,561.90 L571.3,561.90 L571.8,561.90 L572.3,561.90 L572.8,561.90 L573.3,561.90 L573.8,561.90 L574.3,561.90 L574.8,561.90 L575.3,561.90 L575.8,561.90 L576.3,561.90 L576.8,561.90 L577.3,561.90 L577.8,561.90 L578.3,561.90 L578.8,561.90 L579.3,561.90 L579.8,561.90 L580.3,561.90 L580.8,561.90 L581.3,561.90 L581.8,561.90 L582.3,561.90 L582.8,561.90 L583.3,561.90 L583.8,561.90 L584.3,561.90 L584.8,561.90 L585.3,561.90 L585.8,561.90 L586.3,561.90 L586.8,561.90 L587.3,561.90 L587.8,561.90 L588.3,561.90 L588.8,561.90 L589.3,561.90 L589.8,561.90 L590.3,561.90 L590.8,561.90 L591.3,561.90 L591.8,561.90 L592.3,561.90 L592.8,561.90 L593.3,561.90 L593.8,561.90 L594.3,561.90 L594.8,561.90 L595.3,561.90 L595.8,561.90 L596.3,561.90 L596.8,561.78 L597.3,561.10 L597.8,560.31 L598.3,559.40 L598.8,558.36 L599.3,557.16 L599.8,555.81 L600.3,554.29 L600.8,552.60 L601.3,550.73 L601.8,548.68 L602.3,546.46 L602.8,544.06 L603.3,541.51 L603.8,538.80 L604.3,535.97 L604.8,533.04 L605.3,530.03 L605.8,526.97 L606.3,523.91 L606.8,520.88 L607.3,517.92 L607.8,515.08 L608.3,512.41 L608.8,509.93 L609.3,507.70 L609.8,505.76 L610.3,504.13 L610.8,502.85 L611.3,501.95 L611.8,501.43 L612.3,501.31 L612.8,501.59 L613.3,502.26 L613.8,503.32 L614.3,504.74 L614.8,506.50 L615.3,508.56 L615.8,510.89 L616.3,513.45 L616.8,516.20 L617.3,519.09 L617.8,522.09 L618.3,525.13 L618.8,528.20 L619.3,531.24 L619.8,534.22 L620.3,537.12 L620.8,539.90 L621.3,542.55 L621.8,545.04 L622.3,547.37 L622.8,549.52 L623.3,551.50 L623.8,553.30 L624.3,554.92 L624.8,556.37 L625.3,557.66 L625.8,558.79 L626.3,559.78 L626.8,560.64 L627.3,561.39 L627.8,561.90 L628.3,561.90 L628.8,561.90 L629.3,561.90 L629.8,561.90 L630.3,561.90 L630.8,561.90 L631.3,561.90 L631.8,561.90 L632.3,561.90 L632.8,561.90 L633.3,561.90 L633.8,561.90 L634.3,561.90 L634.8,561.90 L635.3,561.90 L635.8,561.90 L636.3,561.90 L636.8,561.90 L637.3,561.90 L637.8,561.90 L638.3,561.90 L638.8,561.90 L639.3,561.90 L639.8,561.90 L640.3,561.90 L640.8,561.90 L641.3,561.90 L641.8,561.90 L642.3,561.90 L642.8,561.90 L643.3,561.90 L643.8,561.90 L644.3,561.90 L644.8,561.90 L645.3,561.90 L645.8,561.90 L646.3,561.90 L646.8,561.90 L647.3,561.90 L647.8,561.90 L648.3,561.90 L648.8,561.90 L649.3,561.90 L649.8,561.90 L650.3,561.90 L650.8,561.90 L651.3,561.90 L651.8,561.90 L652.3,561.90 L652.8,561.90 L653.3,561.90" fill="none" stroke="#f03a3a" stroke-width="1.35"/>
<line x1="523.3" y1="258.7" x2="523.3" y2="294" stroke="#1a1a1a" stroke-width="1.1" stroke-dasharray="4.8,3.5" stroke-dashoffset="-0.5"/>
<line x1="521.4" y1="327.9" x2="521.6" y2="418.5" stroke="#1a1a1a" stroke-width="1.0" stroke-dasharray="4.8,4"/>
<line x1="523.4" y1="438.5" x2="523.6" y2="561" stroke="#1a1a1a" stroke-width="1.0" stroke-dasharray="4.8,4"/>
<rect x="387.8" y="599.7" width="12.1" height="5.8" fill="#00bf00" rx="1.5"/>
<text x="403" y="605.8" font-family='"Liberation Serif", serif' font-size="12.05" text-anchor="start" fill="#222" font-weight="normal" font-style="normal" >Allele frequency (%) G</text>
<rect x="519.5" y="600.2" width="12.6" height="5.3" fill="#ff6600" rx="1.5"/>
<text x="535.2" y="605.8" font-family='"Liberation Serif", serif' font-size="12.05" text-anchor="start" fill="#222" font-weight="normal" font-style="normal" >Allele frequency (%) T</text>
<rect x="388.1" y="619.4" width="253.8" height="19.6" fill="#ff6600"/>
<rect x="388.1" y="619.4" width="200.5" height="19.6" fill="#00bf00"/>
<text x="361.5" y="635.2" font-family='"Liberation Serif", serif' font-size="15" text-anchor="start" fill="#111" font-weight="normal" font-style="normal" >CB</text>
<rect x="388.1" y="645.9" width="253.8" height="19.6" fill="#ff6600"/>
<rect x="388.1" y="645.9" width="101.0" height="19.6" fill="#00bf00"/>
<text x="361.5" y="660.1" font-family='"Liberation Serif", serif' font-size="15" text-anchor="start" fill="#111" font-weight="normal" font-style="normal" >MD</text>
<rect x="388.1" y="672.5" width="253.8" height="19.6" fill="#ff6600"/>
<rect x="388.1" y="672.5" width="80.7" height="19.6" fill="#00bf00"/>
<text x="361.5" y="686.4" font-family='"Liberation Serif", serif' font-size="15" text-anchor="start" fill="#111" font-weight="normal" font-style="normal" >MN</text>
<rect x="388.1" y="698.8" width="253.8" height="19.6" fill="#ff6600"/>
<rect x="388.1" y="698.8" width="49.0" height="19.6" fill="#00bf00"/>
<text x="361.5" y="713.5" font-family='"Liberation Serif", serif' font-size="15" text-anchor="start" fill="#111" font-weight="normal" font-style="normal" >JT</text>
<rect x="388.1" y="725.5" width="253.8" height="19.6" fill="#ff6600"/>
<text x="361.5" y="741.2" font-family='"Liberation Serif", serif' font-size="15" text-anchor="start" fill="#111" font-weight="normal" font-style="normal" >TC</text>
<rect x="388.1" y="752.3" width="253.8" height="19.6" fill="#ff6600"/>
<text x="361.5" y="766.2" font-family='"Liberation Serif", serif' font-size="15" text-anchor="start" fill="#111" font-weight="normal" font-style="normal" >BI</text>
<line x1="388.1" y1="779.9" x2="641.9" y2="779.9" stroke="#222" stroke-width="1.2"/>
<line x1="388.1" y1="779.9" x2="388.1" y2="782.8" stroke="#222" stroke-width="1"/>
<line x1="413.5" y1="779.9" x2="413.5" y2="782" stroke="#222" stroke-width="1"/>
<line x1="438.9" y1="779.9" x2="438.9" y2="782.8" stroke="#222" stroke-width="1"/>
<line x1="464.2" y1="779.9" x2="464.2" y2="782" stroke="#222" stroke-width="1"/>
<line x1="489.6" y1="779.9" x2="489.6" y2="782.8" stroke="#222" stroke-width="1"/>
<line x1="515.0" y1="779.9" x2="515.0" y2="782" stroke="#222" stroke-width="1"/>
<line x1="540.4" y1="779.9" x2="540.4" y2="782.8" stroke="#222" stroke-width="1"/>
<line x1="565.8" y1="779.9" x2="565.8" y2="782" stroke="#222" stroke-width="1"/>
<line x1="591.1" y1="779.9" x2="591.1" y2="782.8" stroke="#222" stroke-width="1"/>
<line x1="616.5" y1="779.9" x2="616.5" y2="782" stroke="#222" stroke-width="1"/>
<line x1="641.9" y1="779.9" x2="641.9" y2="782.8" stroke="#222" stroke-width="1"/>
<text x="388.7" y="793.6" font-family='"Liberation Serif", serif' font-size="13.2" text-anchor="middle" fill="#3a3a3a" font-weight="normal" font-style="normal" >0</text>
<text x="439.5" y="793.6" font-family='"Liberation Serif", serif' font-size="13.2" text-anchor="middle" fill="#3a3a3a" font-weight="normal" font-style="normal" >20</text>
<text x="490.2" y="793.6" font-family='"Liberation Serif", serif' font-size="13.2" text-anchor="middle" fill="#3a3a3a" font-weight="normal" font-style="normal" >40</text>
<text x="541.0" y="793.6" font-family='"Liberation Serif", serif' font-size="13.2" text-anchor="middle" fill="#3a3a3a" font-weight="normal" font-style="normal" >60</text>
<text x="591.7" y="793.6" font-family='"Liberation Serif", serif' font-size="13.2" text-anchor="middle" fill="#3a3a3a" font-weight="normal" font-style="normal" >80</text>
<text x="639.0" y="793.6" font-family='"Liberation Serif", serif' font-size="13.2" text-anchor="middle" fill="#3a3a3a" font-weight="normal" font-style="normal" >100</text>
<text x="652.1" y="793.6" font-family='"Liberation Serif", serif' font-size="13.2" text-anchor="start" fill="#3a3a3a" font-weight="normal" font-style="normal" >(%)</text>
</svg>
</body></html>
